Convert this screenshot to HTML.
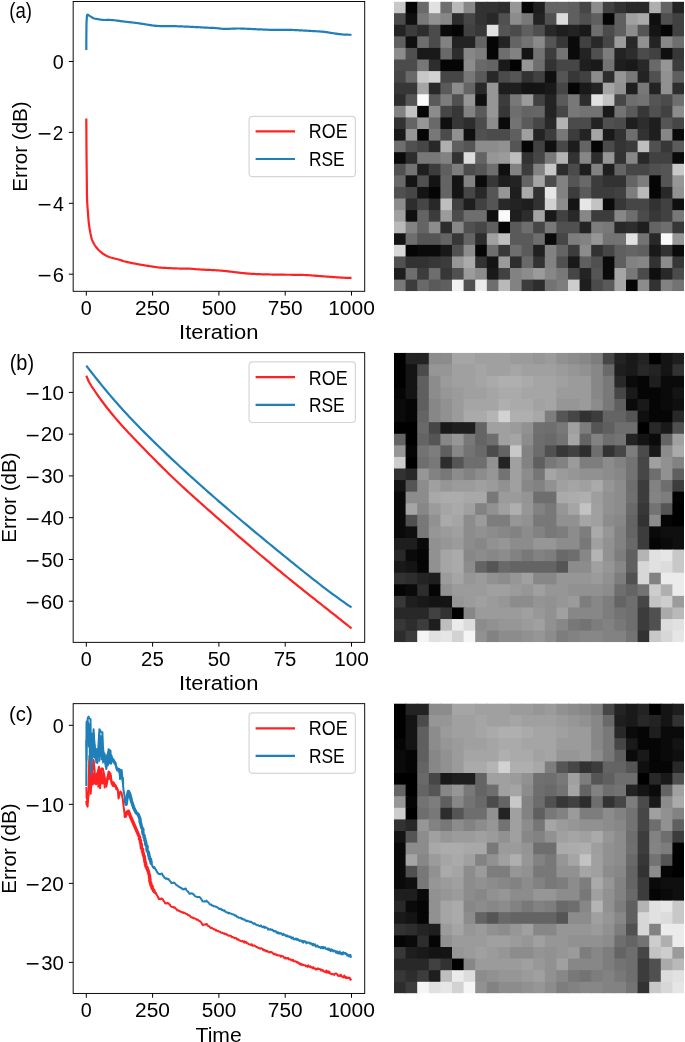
<!DOCTYPE html>
<html><head><meta charset="utf-8"><style>
html,body{margin:0;padding:0;background:#fff;}
body{width:685px;height:1042px;overflow:hidden;}
body>svg{display:block;font-family:"Liberation Sans",sans-serif;will-change:transform;}
</style></head><body>
<svg width="685" height="1042" viewBox="0 0 685 1042">
<line x1="86.30" y1="291.30" x2="86.30" y2="295.60" stroke="#000" stroke-width="1.0"/>
<text transform="translate(80.78,315.05) scale(0.9935,1)" font-size="19.91">0</text>
<line x1="152.60" y1="291.30" x2="152.60" y2="295.60" stroke="#000" stroke-width="1.0"/>
<text transform="translate(135.06,315.05) scale(1.0524,1)" font-size="19.91">250</text>
<line x1="218.90" y1="291.30" x2="218.90" y2="295.60" stroke="#000" stroke-width="1.0"/>
<text transform="translate(201.67,315.05) scale(1.0428,1)" font-size="19.91">500</text>
<line x1="285.20" y1="291.30" x2="285.20" y2="295.60" stroke="#000" stroke-width="1.0"/>
<text transform="translate(267.80,315.05) scale(1.0481,1)" font-size="19.91">750</text>
<line x1="351.50" y1="291.30" x2="351.50" y2="295.60" stroke="#000" stroke-width="1.0"/>
<text transform="translate(328.19,315.05) scale(1.0552,1)" font-size="19.91">1000</text>
<line x1="68.87" y1="61.50" x2="73.17" y2="61.50" stroke="#000" stroke-width="1.0"/>
<text transform="translate(52.83,68.80) scale(0.9935,1)" font-size="19.91">0</text>
<line x1="68.87" y1="132.40" x2="73.17" y2="132.40" stroke="#000" stroke-width="1.0"/>
<rect x="38.70" y="133.06" width="11.73" height="1.54" fill="#000"/>
<text transform="translate(52.81,139.70) scale(0.9549,1)" font-size="19.91">2</text>
<line x1="68.87" y1="203.30" x2="73.17" y2="203.30" stroke="#000" stroke-width="1.0"/>
<rect x="38.70" y="203.96" width="11.73" height="1.54" fill="#000"/>
<text transform="translate(52.90,210.60) scale(0.9859,1)" font-size="19.91">4</text>
<line x1="68.87" y1="274.20" x2="73.17" y2="274.20" stroke="#000" stroke-width="1.0"/>
<rect x="38.70" y="274.86" width="11.73" height="1.54" fill="#000"/>
<text transform="translate(52.70,281.50) scale(1.0207,1)" font-size="19.91">6</text>
<text transform="translate(179.06,339.40) scale(1.1039,1)" font-size="19.91">Iteration</text>
<text transform="translate(27.00,191.69) rotate(-90) scale(1.0385,1)" font-size="19.84">Error (dB)</text>
<polyline points="86.30,118.60 86.31,119.58 86.31,120.56 86.32,121.55 86.32,122.53 86.33,123.51 86.34,124.50 86.34,125.48 86.35,126.47 86.35,127.45 86.36,128.44 86.36,129.42 86.37,130.41 86.38,131.39 86.38,132.38 86.39,133.36 86.39,134.34 86.40,135.33 86.41,136.31 86.41,137.30 86.42,138.28 86.42,139.26 86.43,140.24 86.44,141.22 86.44,142.20 86.45,143.18 86.46,144.16 86.46,145.13 86.47,146.11 86.48,147.08 86.48,148.06 86.49,149.03 86.50,150.00 86.51,150.98 86.52,151.97 86.52,152.96 86.53,153.95 86.54,154.94 86.55,155.94 86.56,156.94 86.57,157.94 86.58,158.94 86.59,159.94 86.60,160.94 86.61,161.94 86.61,162.94 86.62,163.93 86.63,164.93 86.64,165.92 86.65,166.90 86.66,167.88 86.67,168.86 86.68,169.83 86.69,170.80 86.70,171.75 86.71,172.71 86.73,173.65 86.74,174.59 86.75,175.51 86.76,176.43 86.77,177.34 86.78,178.24 86.79,179.12 86.80,180.00 86.81,181.05 86.82,182.09 86.83,183.12 86.84,184.15 86.85,185.17 86.86,186.18 86.87,187.19 86.88,188.19 86.89,189.17 86.90,190.15 86.91,191.11 86.92,192.06 86.93,193.00 86.94,193.93 86.96,194.84 86.98,195.74 87.00,196.63 87.02,197.50 87.04,198.35 87.07,199.18 87.10,200.00 87.15,201.11 87.20,202.18 87.26,203.21 87.32,204.20 87.38,205.18 87.45,206.13 87.51,207.07 87.58,208.01 87.66,208.96 87.73,209.92 87.80,210.90 87.87,211.82 87.93,212.76 88.00,213.70 88.07,214.65 88.14,215.60 88.22,216.54 88.29,217.48 88.37,218.40 88.45,219.31 88.53,220.20 88.61,221.06 88.70,221.90 88.81,222.89 88.93,223.85 89.05,224.79 89.17,225.70 89.30,226.59 89.43,227.47 89.56,228.34 89.70,229.20 89.87,230.21 90.04,231.20 90.21,232.17 90.40,233.12 90.59,234.07 90.80,235.00 91.00,235.88 91.21,236.75 91.42,237.61 91.65,238.45 91.91,239.29 92.20,240.10 92.58,241.02 92.99,241.92 93.43,242.79 93.90,243.65 94.40,244.50 94.92,245.33 95.48,246.15 96.06,246.95 96.67,247.73 97.30,248.50 97.87,249.15 98.47,249.80 99.09,250.44 99.72,251.06 100.36,251.65 101.00,252.20 101.70,252.76 102.42,253.29 103.14,253.78 103.86,254.25 104.60,254.70 105.32,255.12 106.04,255.52 106.78,255.91 107.53,256.26 108.30,256.60 109.14,256.92 109.99,257.21 110.87,257.48 111.77,257.73 112.70,258.00 113.61,258.25 114.56,258.49 115.53,258.73 116.51,258.98 117.51,259.23 118.50,259.50 119.40,259.77 120.30,260.05 121.21,260.35 122.12,260.64 123.06,260.94 124.01,261.23 125.00,261.50 125.82,261.71 126.67,261.91 127.54,262.11 128.42,262.30 129.31,262.49 130.21,262.68 131.12,262.86 132.02,263.05 132.91,263.22 133.80,263.40 134.77,263.59 135.73,263.78 136.70,263.96 137.66,264.14 138.63,264.32 139.60,264.49 140.56,264.66 141.53,264.83 142.50,265.00 143.47,265.17 144.45,265.33 145.43,265.49 146.41,265.65 147.39,265.80 148.37,265.96 149.35,266.11 150.32,266.25 151.30,266.40 152.27,266.55 153.23,266.69 154.20,266.84 155.16,266.98 156.13,267.13 157.10,267.26 158.06,267.38 159.03,267.50 160.00,267.60 160.97,267.69 161.95,267.76 162.93,267.82 163.91,267.88 164.88,267.92 165.86,267.97 166.84,268.01 167.82,268.05 168.80,268.10 169.77,268.15 170.73,268.20 171.68,268.25 172.63,268.30 173.59,268.34 174.56,268.39 175.55,268.43 176.56,268.47 177.60,268.50 178.48,268.52 179.39,268.54 180.32,268.55 181.27,268.56 182.24,268.57 183.21,268.57 184.19,268.58 185.16,268.59 186.13,268.60 187.08,268.61 188.01,268.64 188.92,268.66 189.80,268.70 190.83,268.76 191.81,268.83 192.77,268.90 193.70,268.98 194.63,269.07 195.57,269.16 196.53,269.24 197.54,269.33 198.60,269.40 199.44,269.45 200.32,269.50 201.22,269.55 202.15,269.60 203.10,269.64 204.06,269.69 205.03,269.73 206.01,269.78 206.99,269.82 207.96,269.87 208.93,269.91 209.88,269.96 210.81,270.00 211.72,270.05 212.60,270.10 213.61,270.16 214.60,270.22 215.57,270.27 216.53,270.33 217.48,270.38 218.41,270.44 219.35,270.51 220.28,270.57 221.21,270.64 222.15,270.72 223.10,270.80 224.05,270.89 225.00,270.99 225.95,271.09 226.90,271.20 227.85,271.31 228.80,271.42 229.75,271.54 230.71,271.66 231.66,271.77 232.63,271.89 233.60,272.00 234.53,272.11 235.47,272.22 236.40,272.33 237.34,272.45 238.29,272.56 239.24,272.68 240.19,272.79 241.14,272.90 242.10,273.01 243.06,273.11 244.03,273.21 245.00,273.30 245.94,273.38 246.87,273.46 247.80,273.53 248.73,273.60 249.67,273.66 250.61,273.73 251.56,273.79 252.51,273.84 253.48,273.90 254.46,273.95 255.45,274.00 256.47,274.05 257.50,274.10 258.40,274.14 259.31,274.18 260.25,274.21 261.19,274.25 262.15,274.28 263.11,274.31 264.09,274.34 265.07,274.37 266.06,274.40 267.06,274.42 268.05,274.45 269.05,274.47 270.05,274.50 271.05,274.52 272.05,274.54 273.04,274.56 274.02,274.58 275.00,274.60 275.98,274.62 276.96,274.63 277.95,274.65 278.95,274.66 279.94,274.67 280.94,274.68 281.93,274.69 282.93,274.70 283.92,274.71 284.91,274.72 285.90,274.73 286.88,274.73 287.86,274.74 288.82,274.75 289.78,274.76 290.73,274.77 291.67,274.79 292.60,274.80 293.58,274.82 294.55,274.83 295.52,274.84 296.47,274.85 297.42,274.87 298.36,274.88 299.30,274.89 300.22,274.91 301.15,274.93 302.07,274.94 302.98,274.97 303.89,274.99 304.79,275.02 305.70,275.06 306.60,275.10 307.57,275.15 308.52,275.21 309.47,275.27 310.42,275.33 311.35,275.40 312.29,275.48 313.21,275.55 314.14,275.63 315.07,275.70 316.00,275.78 316.93,275.86 317.86,275.93 318.80,276.00 319.74,276.07 320.68,276.14 321.62,276.21 322.55,276.28 323.49,276.35 324.43,276.42 325.37,276.49 326.31,276.56 327.25,276.63 328.21,276.70 329.16,276.76 330.13,276.83 331.10,276.90 332.02,276.96 332.96,277.03 333.93,277.10 334.91,277.17 335.90,277.24 336.89,277.31 337.89,277.38 338.87,277.44 339.85,277.51 340.80,277.57 341.73,277.63 342.63,277.68 343.50,277.73 344.32,277.77 345.10,277.80 346.14,277.84 347.11,277.86 348.02,277.87 348.89,277.88 349.74,277.88 350.61,277.89 351.50,277.90" fill="none" stroke="#ff2222" stroke-width="2.2" stroke-linejoin="round" stroke-linecap="butt"/>
<polyline points="86.30,50.00 86.30,49.02 86.31,48.02 86.31,47.02 86.32,46.01 86.32,45.00 86.32,43.98 86.32,42.96 86.33,41.95 86.33,40.94 86.33,39.93 86.34,38.93 86.34,37.94 86.35,36.96 86.35,35.99 86.36,35.03 86.37,34.10 86.38,33.18 86.39,32.28 86.40,31.40 86.41,30.31 86.43,29.24 86.44,28.17 86.44,27.12 86.46,26.08 86.47,25.07 86.49,24.09 86.51,23.13 86.54,22.21 86.58,21.33 86.64,20.49 86.70,19.70 86.78,18.65 86.83,17.58 86.90,16.57 87.02,15.70 87.21,15.05 87.50,14.70 88.10,14.81 88.85,15.35 89.60,15.90 90.36,16.36 91.12,16.84 91.90,17.30 92.68,17.74 93.47,18.16 94.30,18.50 95.23,18.72 96.20,18.86 97.20,19.00 98.05,19.15 98.93,19.31 99.82,19.46 100.70,19.60 101.57,19.72 102.43,19.84 103.30,19.94 104.20,20.00 105.00,20.01 105.82,19.99 106.64,19.94 107.47,19.91 108.30,19.90 109.12,19.92 109.93,19.95 110.74,19.99 111.57,20.04 112.40,20.10 113.30,20.18 114.21,20.27 115.13,20.37 116.06,20.48 117.00,20.60 117.81,20.71 118.62,20.82 119.44,20.94 120.27,21.06 121.12,21.18 122.00,21.30 122.91,21.41 123.84,21.53 124.80,21.64 125.77,21.75 126.77,21.87 127.78,21.98 128.80,22.10 129.72,22.20 130.66,22.31 131.62,22.41 132.59,22.52 133.57,22.62 134.56,22.73 135.54,22.85 136.53,22.97 137.50,23.10 138.47,23.24 139.44,23.39 140.40,23.54 141.37,23.70 142.33,23.86 143.31,24.03 144.29,24.19 145.29,24.35 146.30,24.50 147.21,24.64 148.12,24.78 149.04,24.92 149.96,25.07 150.89,25.21 151.83,25.35 152.78,25.48 153.75,25.60 154.74,25.71 155.76,25.82 156.80,25.90 157.70,25.96 158.61,26.00 159.55,26.03 160.50,26.06 161.47,26.07 162.45,26.08 163.44,26.08 164.45,26.08 165.46,26.07 166.47,26.06 167.49,26.06 168.52,26.06 169.54,26.06 170.56,26.06 171.58,26.08 172.60,26.10 173.55,26.13 174.51,26.15 175.47,26.19 176.43,26.22 177.40,26.25 178.37,26.29 179.34,26.33 180.32,26.37 181.29,26.41 182.27,26.45 183.25,26.49 184.23,26.53 185.21,26.58 186.19,26.62 187.17,26.67 188.15,26.71 189.13,26.76 190.10,26.80 191.08,26.85 192.09,26.89 193.11,26.94 194.14,27.00 195.18,27.05 196.23,27.10 197.27,27.16 198.31,27.21 199.34,27.27 200.36,27.32 201.37,27.38 202.35,27.43 203.31,27.48 204.24,27.53 205.14,27.58 206.00,27.62 206.82,27.66 207.60,27.70 208.62,27.74 209.54,27.78 210.39,27.81 211.21,27.84 212.01,27.87 212.83,27.90 213.68,27.95 214.60,28.00 215.47,28.06 216.37,28.14 217.28,28.24 218.22,28.33 219.17,28.44 220.13,28.54 221.11,28.64 222.10,28.73 223.10,28.80 224.10,28.86 225.10,28.90 226.04,28.91 226.99,28.91 227.94,28.89 228.91,28.85 229.87,28.81 230.85,28.76 231.84,28.71 232.83,28.65 233.84,28.60 234.86,28.56 235.89,28.53 236.94,28.50 238.00,28.50 238.91,28.51 239.83,28.52 240.76,28.54 241.71,28.57 242.67,28.60 243.64,28.64 244.61,28.68 245.60,28.73 246.58,28.77 247.58,28.82 248.57,28.87 249.57,28.92 250.56,28.97 251.56,29.02 252.55,29.07 253.54,29.12 254.52,29.16 255.50,29.20 256.47,29.24 257.44,29.28 258.42,29.32 259.39,29.37 260.36,29.41 261.33,29.46 262.30,29.50 263.27,29.55 264.25,29.59 265.22,29.64 266.19,29.68 267.16,29.72 268.13,29.76 269.11,29.79 270.08,29.82 271.05,29.85 272.03,29.88 273.00,29.90 273.99,29.92 274.99,29.93 276.00,29.93 277.03,29.93 278.06,29.93 279.09,29.93 280.12,29.92 281.16,29.91 282.18,29.90 283.20,29.89 284.20,29.88 285.19,29.88 286.15,29.87 287.10,29.87 288.02,29.87 288.91,29.87 289.77,29.88 290.60,29.90 291.69,29.93 292.71,29.96 293.67,30.00 294.59,30.05 295.50,30.09 296.40,30.14 297.32,30.19 298.28,30.25 299.30,30.30 300.18,30.35 301.08,30.39 301.99,30.44 302.93,30.49 303.88,30.55 304.84,30.60 305.80,30.66 306.78,30.71 307.75,30.77 308.72,30.83 309.69,30.88 310.65,30.94 311.60,31.00 312.54,31.06 313.49,31.11 314.44,31.16 315.39,31.21 316.34,31.26 317.29,31.31 318.23,31.36 319.18,31.42 320.11,31.48 321.05,31.55 321.97,31.62 322.89,31.71 323.80,31.80 324.80,31.92 325.79,32.05 326.78,32.19 327.76,32.34 328.73,32.49 329.70,32.65 330.65,32.81 331.60,32.97 332.55,33.12 333.48,33.27 334.40,33.40 335.40,33.54 336.39,33.68 337.37,33.82 338.33,33.96 339.29,34.08 340.24,34.20 341.19,34.32 342.14,34.41 343.10,34.50 344.04,34.57 344.97,34.62 345.91,34.66 346.84,34.69 347.77,34.71 348.70,34.73 349.64,34.75 350.57,34.77 351.50,34.80" fill="none" stroke="#1f7fb8" stroke-width="2.2" stroke-linejoin="round" stroke-linecap="butt"/>
<rect x="249.10" y="116.30" width="106.30" height="60.40" rx="3.5" fill="#fff" fill-opacity="0.8" stroke="#d6d6d6" stroke-width="1.2"/>
<line x1="255.60" y1="131.40" x2="295.00" y2="131.40" stroke="#ff2222" stroke-width="2.2"/>
<line x1="255.60" y1="159.00" x2="295.00" y2="159.00" stroke="#1f7fb8" stroke-width="2.2"/>
<text transform="translate(308.85,138.40) scale(0.8980,1)" font-size="19.91">ROE</text>
<text transform="translate(308.89,165.80) scale(0.8750,1)" font-size="19.91">RSE</text>
<rect x="73.17" y="1.50" width="291.53" height="289.80" fill="none" stroke="#000" stroke-width="0.95"/>
<text transform="translate(9.34,18.37) scale(0.8710,1)" font-size="21.34">(a)</text>
<svg x="394" y="1.6" width="290" height="289.6" viewBox="0 0 25 25" preserveAspectRatio="none"><rect x="0" y="0" width="1.08" height="1.08" fill="#c8c8c8"/><rect x="1" y="0" width="1.08" height="1.08" fill="#050505"/><rect x="2" y="0" width="1.08" height="1.08" fill="#696969"/><rect x="3" y="0" width="1.08" height="1.08" fill="#e1e1e1"/><rect x="4" y="0" width="1.08" height="1.08" fill="#6e6e6e"/><rect x="5" y="0" width="1.08" height="1.08" fill="#b9b9b9"/><rect x="6" y="0" width="1.08" height="1.08" fill="#878787"/><rect x="7" y="0" width="1.08" height="1.08" fill="#323232"/><rect x="8" y="0" width="1.08" height="1.08" fill="#323232"/><rect x="9" y="0" width="1.08" height="1.08" fill="#2d2d2d"/><rect x="10" y="0" width="1.08" height="1.08" fill="#969696"/><rect x="11" y="0" width="1.08" height="1.08" fill="#050505"/><rect x="12" y="0" width="1.08" height="1.08" fill="#1e1e1e"/><rect x="13" y="0" width="1.08" height="1.08" fill="#646464"/><rect x="14" y="0" width="1.08" height="1.08" fill="#646464"/><rect x="15" y="0" width="1.08" height="1.08" fill="#5f5f5f"/><rect x="16" y="0" width="1.08" height="1.08" fill="#464646"/><rect x="17" y="0" width="1.08" height="1.08" fill="#8c8c8c"/><rect x="18" y="0" width="1.08" height="1.08" fill="#414141"/><rect x="19" y="0" width="1.08" height="1.08" fill="#323232"/><rect x="20" y="0" width="1.08" height="1.08" fill="#282828"/><rect x="21" y="0" width="1.08" height="1.08" fill="#282828"/><rect x="22" y="0" width="1.08" height="1.08" fill="#afafaf"/><rect x="23" y="0" width="1.08" height="1.08" fill="#646464"/><rect x="24" y="0" width="1" height="1.08" fill="#232323"/><rect x="0" y="1" width="1.08" height="1.08" fill="#4b4b4b"/><rect x="1" y="1" width="1.08" height="1.08" fill="#0f0f0f"/><rect x="2" y="1" width="1.08" height="1.08" fill="#787878"/><rect x="3" y="1" width="1.08" height="1.08" fill="#919191"/><rect x="4" y="1" width="1.08" height="1.08" fill="#878787"/><rect x="5" y="1" width="1.08" height="1.08" fill="#2d2d2d"/><rect x="6" y="1" width="1.08" height="1.08" fill="#464646"/><rect x="7" y="1" width="1.08" height="1.08" fill="#323232"/><rect x="8" y="1" width="1.08" height="1.08" fill="#282828"/><rect x="9" y="1" width="1.08" height="1.08" fill="#505050"/><rect x="10" y="1" width="1.08" height="1.08" fill="#8c8c8c"/><rect x="11" y="1" width="1.08" height="1.08" fill="#787878"/><rect x="12" y="1" width="1.08" height="1.08" fill="#232323"/><rect x="13" y="1" width="1.08" height="1.08" fill="#505050"/><rect x="14" y="1" width="1.08" height="1.08" fill="#dcdcdc"/><rect x="15" y="1" width="1.08" height="1.08" fill="#5f5f5f"/><rect x="16" y="1" width="1.08" height="1.08" fill="#505050"/><rect x="17" y="1" width="1.08" height="1.08" fill="#5f5f5f"/><rect x="18" y="1" width="1.08" height="1.08" fill="#050505"/><rect x="19" y="1" width="1.08" height="1.08" fill="#5f5f5f"/><rect x="20" y="1" width="1.08" height="1.08" fill="#a0a0a0"/><rect x="21" y="1" width="1.08" height="1.08" fill="#aaaaaa"/><rect x="22" y="1" width="1.08" height="1.08" fill="#0f0f0f"/><rect x="23" y="1" width="1.08" height="1.08" fill="#505050"/><rect x="24" y="1" width="1" height="1.08" fill="#414141"/><rect x="0" y="2" width="1.08" height="1.08" fill="#232323"/><rect x="1" y="2" width="1.08" height="1.08" fill="#3c3c3c"/><rect x="2" y="2" width="1.08" height="1.08" fill="#2d2d2d"/><rect x="3" y="2" width="1.08" height="1.08" fill="#4b4b4b"/><rect x="4" y="2" width="1.08" height="1.08" fill="#0a0a0a"/><rect x="5" y="2" width="1.08" height="1.08" fill="#050505"/><rect x="6" y="2" width="1.08" height="1.08" fill="#414141"/><rect x="7" y="2" width="1.08" height="1.08" fill="#373737"/><rect x="8" y="2" width="1.08" height="1.08" fill="#e1e1e1"/><rect x="9" y="2" width="1.08" height="1.08" fill="#555555"/><rect x="10" y="2" width="1.08" height="1.08" fill="#4b4b4b"/><rect x="11" y="2" width="1.08" height="1.08" fill="#5f5f5f"/><rect x="12" y="2" width="1.08" height="1.08" fill="#4e4e4e"/><rect x="13" y="2" width="1.08" height="1.08" fill="#282828"/><rect x="14" y="2" width="1.08" height="1.08" fill="#1e1e1e"/><rect x="15" y="2" width="1.08" height="1.08" fill="#232323"/><rect x="16" y="2" width="1.08" height="1.08" fill="#191919"/><rect x="17" y="2" width="1.08" height="1.08" fill="#6e6e6e"/><rect x="18" y="2" width="1.08" height="1.08" fill="#4b4b4b"/><rect x="19" y="2" width="1.08" height="1.08" fill="#5f5f5f"/><rect x="20" y="2" width="1.08" height="1.08" fill="#8c8c8c"/><rect x="21" y="2" width="1.08" height="1.08" fill="#555555"/><rect x="22" y="2" width="1.08" height="1.08" fill="#141414"/><rect x="23" y="2" width="1.08" height="1.08" fill="#050505"/><rect x="24" y="2" width="1" height="1.08" fill="#414141"/><rect x="0" y="3" width="1.08" height="1.08" fill="#5f5f5f"/><rect x="1" y="3" width="1.08" height="1.08" fill="#0f0f0f"/><rect x="2" y="3" width="1.08" height="1.08" fill="#6e6e6e"/><rect x="3" y="3" width="1.08" height="1.08" fill="#4b4b4b"/><rect x="4" y="3" width="1.08" height="1.08" fill="#828282"/><rect x="5" y="3" width="1.08" height="1.08" fill="#232323"/><rect x="6" y="3" width="1.08" height="1.08" fill="#232323"/><rect x="7" y="3" width="1.08" height="1.08" fill="#646464"/><rect x="8" y="3" width="1.08" height="1.08" fill="#050505"/><rect x="9" y="3" width="1.08" height="1.08" fill="#232323"/><rect x="10" y="3" width="1.08" height="1.08" fill="#646464"/><rect x="11" y="3" width="1.08" height="1.08" fill="#737373"/><rect x="12" y="3" width="1.08" height="1.08" fill="#8a8a8a"/><rect x="13" y="3" width="1.08" height="1.08" fill="#555555"/><rect x="14" y="3" width="1.08" height="1.08" fill="#373737"/><rect x="15" y="3" width="1.08" height="1.08" fill="#0a0a0a"/><rect x="16" y="3" width="1.08" height="1.08" fill="#414141"/><rect x="17" y="3" width="1.08" height="1.08" fill="#282828"/><rect x="18" y="3" width="1.08" height="1.08" fill="#464646"/><rect x="19" y="3" width="1.08" height="1.08" fill="#9b9b9b"/><rect x="20" y="3" width="1.08" height="1.08" fill="#282828"/><rect x="21" y="3" width="1.08" height="1.08" fill="#919191"/><rect x="22" y="3" width="1.08" height="1.08" fill="#232323"/><rect x="23" y="3" width="1.08" height="1.08" fill="#878787"/><rect x="24" y="3" width="1" height="1.08" fill="#6e6e6e"/><rect x="0" y="4" width="1.08" height="1.08" fill="#8c8c8c"/><rect x="1" y="4" width="1.08" height="1.08" fill="#505050"/><rect x="2" y="4" width="1.08" height="1.08" fill="#191919"/><rect x="3" y="4" width="1.08" height="1.08" fill="#191919"/><rect x="4" y="4" width="1.08" height="1.08" fill="#696969"/><rect x="5" y="4" width="1.08" height="1.08" fill="#2d2d2d"/><rect x="6" y="4" width="1.08" height="1.08" fill="#878787"/><rect x="7" y="4" width="1.08" height="1.08" fill="#7d7d7d"/><rect x="8" y="4" width="1.08" height="1.08" fill="#050505"/><rect x="9" y="4" width="1.08" height="1.08" fill="#6e6e6e"/><rect x="10" y="4" width="1.08" height="1.08" fill="#828282"/><rect x="11" y="4" width="1.08" height="1.08" fill="#141414"/><rect x="12" y="4" width="1.08" height="1.08" fill="#737373"/><rect x="13" y="4" width="1.08" height="1.08" fill="#3c3c3c"/><rect x="14" y="4" width="1.08" height="1.08" fill="#737373"/><rect x="15" y="4" width="1.08" height="1.08" fill="#0a0a0a"/><rect x="16" y="4" width="1.08" height="1.08" fill="#232323"/><rect x="17" y="4" width="1.08" height="1.08" fill="#505050"/><rect x="18" y="4" width="1.08" height="1.08" fill="#7d7d7d"/><rect x="19" y="4" width="1.08" height="1.08" fill="#232323"/><rect x="20" y="4" width="1.08" height="1.08" fill="#2d2d2d"/><rect x="21" y="4" width="1.08" height="1.08" fill="#4b4b4b"/><rect x="22" y="4" width="1.08" height="1.08" fill="#414141"/><rect x="23" y="4" width="1.08" height="1.08" fill="#0f0f0f"/><rect x="24" y="4" width="1" height="1.08" fill="#373737"/><rect x="0" y="5" width="1.08" height="1.08" fill="#4b4b4b"/><rect x="1" y="5" width="1.08" height="1.08" fill="#4b4b4b"/><rect x="2" y="5" width="1.08" height="1.08" fill="#787878"/><rect x="3" y="5" width="1.08" height="1.08" fill="#2d2d2d"/><rect x="4" y="5" width="1.08" height="1.08" fill="#050505"/><rect x="5" y="5" width="1.08" height="1.08" fill="#050505"/><rect x="6" y="5" width="1.08" height="1.08" fill="#8c8c8c"/><rect x="7" y="5" width="1.08" height="1.08" fill="#696969"/><rect x="8" y="5" width="1.08" height="1.08" fill="#646464"/><rect x="9" y="5" width="1.08" height="1.08" fill="#191919"/><rect x="10" y="5" width="1.08" height="1.08" fill="#030303"/><rect x="11" y="5" width="1.08" height="1.08" fill="#969696"/><rect x="12" y="5" width="1.08" height="1.08" fill="#6e6e6e"/><rect x="13" y="5" width="1.08" height="1.08" fill="#323232"/><rect x="14" y="5" width="1.08" height="1.08" fill="#464646"/><rect x="15" y="5" width="1.08" height="1.08" fill="#464646"/><rect x="16" y="5" width="1.08" height="1.08" fill="#1e1e1e"/><rect x="17" y="5" width="1.08" height="1.08" fill="#191919"/><rect x="18" y="5" width="1.08" height="1.08" fill="#737373"/><rect x="19" y="5" width="1.08" height="1.08" fill="#1e1e1e"/><rect x="20" y="5" width="1.08" height="1.08" fill="#191919"/><rect x="21" y="5" width="1.08" height="1.08" fill="#282828"/><rect x="22" y="5" width="1.08" height="1.08" fill="#696969"/><rect x="23" y="5" width="1.08" height="1.08" fill="#969696"/><rect x="24" y="5" width="1" height="1.08" fill="#3c3c3c"/><rect x="0" y="6" width="1.08" height="1.08" fill="#464646"/><rect x="1" y="6" width="1.08" height="1.08" fill="#696969"/><rect x="2" y="6" width="1.08" height="1.08" fill="#c8c8c8"/><rect x="3" y="6" width="1.08" height="1.08" fill="#d2d2d2"/><rect x="4" y="6" width="1.08" height="1.08" fill="#464646"/><rect x="5" y="6" width="1.08" height="1.08" fill="#464646"/><rect x="6" y="6" width="1.08" height="1.08" fill="#787878"/><rect x="7" y="6" width="1.08" height="1.08" fill="#5a5a5a"/><rect x="8" y="6" width="1.08" height="1.08" fill="#282828"/><rect x="9" y="6" width="1.08" height="1.08" fill="#4b4b4b"/><rect x="10" y="6" width="1.08" height="1.08" fill="#555555"/><rect x="11" y="6" width="1.08" height="1.08" fill="#323232"/><rect x="12" y="6" width="1.08" height="1.08" fill="#414141"/><rect x="13" y="6" width="1.08" height="1.08" fill="#0f0f0f"/><rect x="14" y="6" width="1.08" height="1.08" fill="#555555"/><rect x="15" y="6" width="1.08" height="1.08" fill="#373737"/><rect x="16" y="6" width="1.08" height="1.08" fill="#414141"/><rect x="17" y="6" width="1.08" height="1.08" fill="#8c8c8c"/><rect x="18" y="6" width="1.08" height="1.08" fill="#2d2d2d"/><rect x="19" y="6" width="1.08" height="1.08" fill="#969696"/><rect x="20" y="6" width="1.08" height="1.08" fill="#787878"/><rect x="21" y="6" width="1.08" height="1.08" fill="#232323"/><rect x="22" y="6" width="1.08" height="1.08" fill="#505050"/><rect x="23" y="6" width="1.08" height="1.08" fill="#919191"/><rect x="24" y="6" width="1" height="1.08" fill="#5f5f5f"/><rect x="0" y="7" width="1.08" height="1.08" fill="#373737"/><rect x="1" y="7" width="1.08" height="1.08" fill="#373737"/><rect x="2" y="7" width="1.08" height="1.08" fill="#a5a5a5"/><rect x="3" y="7" width="1.08" height="1.08" fill="#282828"/><rect x="4" y="7" width="1.08" height="1.08" fill="#5a5a5a"/><rect x="5" y="7" width="1.08" height="1.08" fill="#8c8c8c"/><rect x="6" y="7" width="1.08" height="1.08" fill="#646464"/><rect x="7" y="7" width="1.08" height="1.08" fill="#282828"/><rect x="8" y="7" width="1.08" height="1.08" fill="#969696"/><rect x="9" y="7" width="1.08" height="1.08" fill="#1e1e1e"/><rect x="10" y="7" width="1.08" height="1.08" fill="#1e1e1e"/><rect x="11" y="7" width="1.08" height="1.08" fill="#141414"/><rect x="12" y="7" width="1.08" height="1.08" fill="#141414"/><rect x="13" y="7" width="1.08" height="1.08" fill="#191919"/><rect x="14" y="7" width="1.08" height="1.08" fill="#464646"/><rect x="15" y="7" width="1.08" height="1.08" fill="#050505"/><rect x="16" y="7" width="1.08" height="1.08" fill="#191919"/><rect x="17" y="7" width="1.08" height="1.08" fill="#232323"/><rect x="18" y="7" width="1.08" height="1.08" fill="#a5a5a5"/><rect x="19" y="7" width="1.08" height="1.08" fill="#919191"/><rect x="20" y="7" width="1.08" height="1.08" fill="#1e1e1e"/><rect x="21" y="7" width="1.08" height="1.08" fill="#787878"/><rect x="22" y="7" width="1.08" height="1.08" fill="#232323"/><rect x="23" y="7" width="1.08" height="1.08" fill="#919191"/><rect x="24" y="7" width="1" height="1.08" fill="#2d2d2d"/><rect x="0" y="8" width="1.08" height="1.08" fill="#2d2d2d"/><rect x="1" y="8" width="1.08" height="1.08" fill="#555555"/><rect x="2" y="8" width="1.08" height="1.08" fill="#fafafa"/><rect x="3" y="8" width="1.08" height="1.08" fill="#5a5a5a"/><rect x="4" y="8" width="1.08" height="1.08" fill="#7d7d7d"/><rect x="5" y="8" width="1.08" height="1.08" fill="#505050"/><rect x="6" y="8" width="1.08" height="1.08" fill="#969696"/><rect x="7" y="8" width="1.08" height="1.08" fill="#0f0f0f"/><rect x="8" y="8" width="1.08" height="1.08" fill="#969696"/><rect x="9" y="8" width="1.08" height="1.08" fill="#3c3c3c"/><rect x="10" y="8" width="1.08" height="1.08" fill="#787878"/><rect x="11" y="8" width="1.08" height="1.08" fill="#9b9b9b"/><rect x="12" y="8" width="1.08" height="1.08" fill="#414141"/><rect x="13" y="8" width="1.08" height="1.08" fill="#232323"/><rect x="14" y="8" width="1.08" height="1.08" fill="#5a5a5a"/><rect x="15" y="8" width="1.08" height="1.08" fill="#787878"/><rect x="16" y="8" width="1.08" height="1.08" fill="#2d2d2d"/><rect x="17" y="8" width="1.08" height="1.08" fill="#e1e1e1"/><rect x="18" y="8" width="1.08" height="1.08" fill="#c3c3c3"/><rect x="19" y="8" width="1.08" height="1.08" fill="#464646"/><rect x="20" y="8" width="1.08" height="1.08" fill="#6e6e6e"/><rect x="21" y="8" width="1.08" height="1.08" fill="#737373"/><rect x="22" y="8" width="1.08" height="1.08" fill="#555555"/><rect x="23" y="8" width="1.08" height="1.08" fill="#4b4b4b"/><rect x="24" y="8" width="1" height="1.08" fill="#6e6e6e"/><rect x="0" y="9" width="1.08" height="1.08" fill="#828282"/><rect x="1" y="9" width="1.08" height="1.08" fill="#c3c3c3"/><rect x="2" y="9" width="1.08" height="1.08" fill="#050505"/><rect x="3" y="9" width="1.08" height="1.08" fill="#8c8c8c"/><rect x="4" y="9" width="1.08" height="1.08" fill="#464646"/><rect x="5" y="9" width="1.08" height="1.08" fill="#373737"/><rect x="6" y="9" width="1.08" height="1.08" fill="#828282"/><rect x="7" y="9" width="1.08" height="1.08" fill="#5a5a5a"/><rect x="8" y="9" width="1.08" height="1.08" fill="#969696"/><rect x="9" y="9" width="1.08" height="1.08" fill="#373737"/><rect x="10" y="9" width="1.08" height="1.08" fill="#6e6e6e"/><rect x="11" y="9" width="1.08" height="1.08" fill="#646464"/><rect x="12" y="9" width="1.08" height="1.08" fill="#666666"/><rect x="13" y="9" width="1.08" height="1.08" fill="#232323"/><rect x="14" y="9" width="1.08" height="1.08" fill="#464646"/><rect x="15" y="9" width="1.08" height="1.08" fill="#787878"/><rect x="16" y="9" width="1.08" height="1.08" fill="#737373"/><rect x="17" y="9" width="1.08" height="1.08" fill="#737373"/><rect x="18" y="9" width="1.08" height="1.08" fill="#191919"/><rect x="19" y="9" width="1.08" height="1.08" fill="#737373"/><rect x="20" y="9" width="1.08" height="1.08" fill="#5a5a5a"/><rect x="21" y="9" width="1.08" height="1.08" fill="#373737"/><rect x="22" y="9" width="1.08" height="1.08" fill="#505050"/><rect x="23" y="9" width="1.08" height="1.08" fill="#414141"/><rect x="24" y="9" width="1" height="1.08" fill="#8c8c8c"/><rect x="0" y="10" width="1.08" height="1.08" fill="#323232"/><rect x="1" y="10" width="1.08" height="1.08" fill="#646464"/><rect x="2" y="10" width="1.08" height="1.08" fill="#969696"/><rect x="3" y="10" width="1.08" height="1.08" fill="#696969"/><rect x="4" y="10" width="1.08" height="1.08" fill="#0f0f0f"/><rect x="5" y="10" width="1.08" height="1.08" fill="#373737"/><rect x="6" y="10" width="1.08" height="1.08" fill="#2d2d2d"/><rect x="7" y="10" width="1.08" height="1.08" fill="#4b4b4b"/><rect x="8" y="10" width="1.08" height="1.08" fill="#8c8c8c"/><rect x="9" y="10" width="1.08" height="1.08" fill="#0a0a0a"/><rect x="10" y="10" width="1.08" height="1.08" fill="#737373"/><rect x="11" y="10" width="1.08" height="1.08" fill="#5a5a5a"/><rect x="12" y="10" width="1.08" height="1.08" fill="#464646"/><rect x="13" y="10" width="1.08" height="1.08" fill="#282828"/><rect x="14" y="10" width="1.08" height="1.08" fill="#b4b4b4"/><rect x="15" y="10" width="1.08" height="1.08" fill="#4b4b4b"/><rect x="16" y="10" width="1.08" height="1.08" fill="#4b4b4b"/><rect x="17" y="10" width="1.08" height="1.08" fill="#232323"/><rect x="18" y="10" width="1.08" height="1.08" fill="#505050"/><rect x="19" y="10" width="1.08" height="1.08" fill="#4b4b4b"/><rect x="20" y="10" width="1.08" height="1.08" fill="#1e1e1e"/><rect x="21" y="10" width="1.08" height="1.08" fill="#2d2d2d"/><rect x="22" y="10" width="1.08" height="1.08" fill="#1e1e1e"/><rect x="23" y="10" width="1.08" height="1.08" fill="#555555"/><rect x="24" y="10" width="1" height="1.08" fill="#464646"/><rect x="0" y="11" width="1.08" height="1.08" fill="#191919"/><rect x="1" y="11" width="1.08" height="1.08" fill="#969696"/><rect x="2" y="11" width="1.08" height="1.08" fill="#050505"/><rect x="3" y="11" width="1.08" height="1.08" fill="#787878"/><rect x="4" y="11" width="1.08" height="1.08" fill="#4b4b4b"/><rect x="5" y="11" width="1.08" height="1.08" fill="#919191"/><rect x="6" y="11" width="1.08" height="1.08" fill="#0f0f0f"/><rect x="7" y="11" width="1.08" height="1.08" fill="#505050"/><rect x="8" y="11" width="1.08" height="1.08" fill="#4b4b4b"/><rect x="9" y="11" width="1.08" height="1.08" fill="#4b4b4b"/><rect x="10" y="11" width="1.08" height="1.08" fill="#5f5f5f"/><rect x="11" y="11" width="1.08" height="1.08" fill="#a0a0a0"/><rect x="12" y="11" width="1.08" height="1.08" fill="#232323"/><rect x="13" y="11" width="1.08" height="1.08" fill="#3c3c3c"/><rect x="14" y="11" width="1.08" height="1.08" fill="#787878"/><rect x="15" y="11" width="1.08" height="1.08" fill="#3c3c3c"/><rect x="16" y="11" width="1.08" height="1.08" fill="#232323"/><rect x="17" y="11" width="1.08" height="1.08" fill="#a5a5a5"/><rect x="18" y="11" width="1.08" height="1.08" fill="#191919"/><rect x="19" y="11" width="1.08" height="1.08" fill="#323232"/><rect x="20" y="11" width="1.08" height="1.08" fill="#6e6e6e"/><rect x="21" y="11" width="1.08" height="1.08" fill="#323232"/><rect x="22" y="11" width="1.08" height="1.08" fill="#1e1e1e"/><rect x="23" y="11" width="1.08" height="1.08" fill="#878787"/><rect x="24" y="11" width="1" height="1.08" fill="#0a0a0a"/><rect x="0" y="12" width="1.08" height="1.08" fill="#6e6e6e"/><rect x="1" y="12" width="1.08" height="1.08" fill="#505050"/><rect x="2" y="12" width="1.08" height="1.08" fill="#464646"/><rect x="3" y="12" width="1.08" height="1.08" fill="#282828"/><rect x="4" y="12" width="1.08" height="1.08" fill="#afafaf"/><rect x="5" y="12" width="1.08" height="1.08" fill="#5f5f5f"/><rect x="6" y="12" width="1.08" height="1.08" fill="#555555"/><rect x="7" y="12" width="1.08" height="1.08" fill="#8c8c8c"/><rect x="8" y="12" width="1.08" height="1.08" fill="#8c8c8c"/><rect x="9" y="12" width="1.08" height="1.08" fill="#919191"/><rect x="10" y="12" width="1.08" height="1.08" fill="#555555"/><rect x="11" y="12" width="1.08" height="1.08" fill="#050505"/><rect x="12" y="12" width="1.08" height="1.08" fill="#424242"/><rect x="13" y="12" width="1.08" height="1.08" fill="#0f0f0f"/><rect x="14" y="12" width="1.08" height="1.08" fill="#484848"/><rect x="15" y="12" width="1.08" height="1.08" fill="#1c1c1c"/><rect x="16" y="12" width="1.08" height="1.08" fill="#646464"/><rect x="17" y="12" width="1.08" height="1.08" fill="#050505"/><rect x="18" y="12" width="1.08" height="1.08" fill="#4b4b4b"/><rect x="19" y="12" width="1.08" height="1.08" fill="#343434"/><rect x="20" y="12" width="1.08" height="1.08" fill="#3a3a3a"/><rect x="21" y="12" width="1.08" height="1.08" fill="#bebebe"/><rect x="22" y="12" width="1.08" height="1.08" fill="#505050"/><rect x="23" y="12" width="1.08" height="1.08" fill="#373737"/><rect x="24" y="12" width="1" height="1.08" fill="#5c5c5c"/><rect x="0" y="13" width="1.08" height="1.08" fill="#0a0a0a"/><rect x="1" y="13" width="1.08" height="1.08" fill="#2d2d2d"/><rect x="2" y="13" width="1.08" height="1.08" fill="#787878"/><rect x="3" y="13" width="1.08" height="1.08" fill="#787878"/><rect x="4" y="13" width="1.08" height="1.08" fill="#828282"/><rect x="5" y="13" width="1.08" height="1.08" fill="#323232"/><rect x="6" y="13" width="1.08" height="1.08" fill="#dcdcdc"/><rect x="7" y="13" width="1.08" height="1.08" fill="#646464"/><rect x="8" y="13" width="1.08" height="1.08" fill="#969696"/><rect x="9" y="13" width="1.08" height="1.08" fill="#9b9b9b"/><rect x="10" y="13" width="1.08" height="1.08" fill="#bebebe"/><rect x="11" y="13" width="1.08" height="1.08" fill="#323232"/><rect x="12" y="13" width="1.08" height="1.08" fill="#464646"/><rect x="13" y="13" width="1.08" height="1.08" fill="#787878"/><rect x="14" y="13" width="1.08" height="1.08" fill="#b4b4b4"/><rect x="15" y="13" width="1.08" height="1.08" fill="#323232"/><rect x="16" y="13" width="1.08" height="1.08" fill="#878787"/><rect x="17" y="13" width="1.08" height="1.08" fill="#2d2d2d"/><rect x="18" y="13" width="1.08" height="1.08" fill="#969696"/><rect x="19" y="13" width="1.08" height="1.08" fill="#323232"/><rect x="20" y="13" width="1.08" height="1.08" fill="#878787"/><rect x="21" y="13" width="1.08" height="1.08" fill="#282828"/><rect x="22" y="13" width="1.08" height="1.08" fill="#414141"/><rect x="23" y="13" width="1.08" height="1.08" fill="#414141"/><rect x="24" y="13" width="1" height="1.08" fill="#0a0a0a"/><rect x="0" y="14" width="1.08" height="1.08" fill="#505050"/><rect x="1" y="14" width="1.08" height="1.08" fill="#737373"/><rect x="2" y="14" width="1.08" height="1.08" fill="#1e1e1e"/><rect x="3" y="14" width="1.08" height="1.08" fill="#3c3c3c"/><rect x="4" y="14" width="1.08" height="1.08" fill="#5f5f5f"/><rect x="5" y="14" width="1.08" height="1.08" fill="#7d7d7d"/><rect x="6" y="14" width="1.08" height="1.08" fill="#4b4b4b"/><rect x="7" y="14" width="1.08" height="1.08" fill="#555555"/><rect x="8" y="14" width="1.08" height="1.08" fill="#6e6e6e"/><rect x="9" y="14" width="1.08" height="1.08" fill="#0f0f0f"/><rect x="10" y="14" width="1.08" height="1.08" fill="#828282"/><rect x="11" y="14" width="1.08" height="1.08" fill="#3c3c3c"/><rect x="12" y="14" width="1.08" height="1.08" fill="#828282"/><rect x="13" y="14" width="1.08" height="1.08" fill="#c8c8c8"/><rect x="14" y="14" width="1.08" height="1.08" fill="#2d2d2d"/><rect x="15" y="14" width="1.08" height="1.08" fill="#4b4b4b"/><rect x="16" y="14" width="1.08" height="1.08" fill="#1e1e1e"/><rect x="17" y="14" width="1.08" height="1.08" fill="#828282"/><rect x="18" y="14" width="1.08" height="1.08" fill="#1e1e1e"/><rect x="19" y="14" width="1.08" height="1.08" fill="#646464"/><rect x="20" y="14" width="1.08" height="1.08" fill="#464646"/><rect x="21" y="14" width="1.08" height="1.08" fill="#464646"/><rect x="22" y="14" width="1.08" height="1.08" fill="#505050"/><rect x="23" y="14" width="1.08" height="1.08" fill="#555555"/><rect x="24" y="14" width="1" height="1.08" fill="#c8c8c8"/><rect x="0" y="15" width="1.08" height="1.08" fill="#696969"/><rect x="1" y="15" width="1.08" height="1.08" fill="#141414"/><rect x="2" y="15" width="1.08" height="1.08" fill="#505050"/><rect x="3" y="15" width="1.08" height="1.08" fill="#141414"/><rect x="4" y="15" width="1.08" height="1.08" fill="#646464"/><rect x="5" y="15" width="1.08" height="1.08" fill="#141414"/><rect x="6" y="15" width="1.08" height="1.08" fill="#828282"/><rect x="7" y="15" width="1.08" height="1.08" fill="#0a0a0a"/><rect x="8" y="15" width="1.08" height="1.08" fill="#373737"/><rect x="9" y="15" width="1.08" height="1.08" fill="#1e1e1e"/><rect x="10" y="15" width="1.08" height="1.08" fill="#232323"/><rect x="11" y="15" width="1.08" height="1.08" fill="#646464"/><rect x="12" y="15" width="1.08" height="1.08" fill="#a5a5a5"/><rect x="13" y="15" width="1.08" height="1.08" fill="#4b4b4b"/><rect x="14" y="15" width="1.08" height="1.08" fill="#828282"/><rect x="15" y="15" width="1.08" height="1.08" fill="#555555"/><rect x="16" y="15" width="1.08" height="1.08" fill="#696969"/><rect x="17" y="15" width="1.08" height="1.08" fill="#3c3c3c"/><rect x="18" y="15" width="1.08" height="1.08" fill="#323232"/><rect x="19" y="15" width="1.08" height="1.08" fill="#323232"/><rect x="20" y="15" width="1.08" height="1.08" fill="#646464"/><rect x="21" y="15" width="1.08" height="1.08" fill="#7d7d7d"/><rect x="22" y="15" width="1.08" height="1.08" fill="#050505"/><rect x="23" y="15" width="1.08" height="1.08" fill="#555555"/><rect x="24" y="15" width="1" height="1.08" fill="#969696"/><rect x="0" y="16" width="1.08" height="1.08" fill="#505050"/><rect x="1" y="16" width="1.08" height="1.08" fill="#464646"/><rect x="2" y="16" width="1.08" height="1.08" fill="#141414"/><rect x="3" y="16" width="1.08" height="1.08" fill="#050505"/><rect x="4" y="16" width="1.08" height="1.08" fill="#646464"/><rect x="5" y="16" width="1.08" height="1.08" fill="#141414"/><rect x="6" y="16" width="1.08" height="1.08" fill="#464646"/><rect x="7" y="16" width="1.08" height="1.08" fill="#282828"/><rect x="8" y="16" width="1.08" height="1.08" fill="#555555"/><rect x="9" y="16" width="1.08" height="1.08" fill="#969696"/><rect x="10" y="16" width="1.08" height="1.08" fill="#1e1e1e"/><rect x="11" y="16" width="1.08" height="1.08" fill="#aaaaaa"/><rect x="12" y="16" width="1.08" height="1.08" fill="#323232"/><rect x="13" y="16" width="1.08" height="1.08" fill="#e6e6e6"/><rect x="14" y="16" width="1.08" height="1.08" fill="#828282"/><rect x="15" y="16" width="1.08" height="1.08" fill="#3c3c3c"/><rect x="16" y="16" width="1.08" height="1.08" fill="#5a5a5a"/><rect x="17" y="16" width="1.08" height="1.08" fill="#3c3c3c"/><rect x="18" y="16" width="1.08" height="1.08" fill="#3c3c3c"/><rect x="19" y="16" width="1.08" height="1.08" fill="#414141"/><rect x="20" y="16" width="1.08" height="1.08" fill="#7d7d7d"/><rect x="21" y="16" width="1.08" height="1.08" fill="#b9b9b9"/><rect x="22" y="16" width="1.08" height="1.08" fill="#050505"/><rect x="23" y="16" width="1.08" height="1.08" fill="#282828"/><rect x="24" y="16" width="1" height="1.08" fill="#919191"/><rect x="0" y="17" width="1.08" height="1.08" fill="#8c8c8c"/><rect x="1" y="17" width="1.08" height="1.08" fill="#2d2d2d"/><rect x="2" y="17" width="1.08" height="1.08" fill="#464646"/><rect x="3" y="17" width="1.08" height="1.08" fill="#282828"/><rect x="4" y="17" width="1.08" height="1.08" fill="#bebebe"/><rect x="5" y="17" width="1.08" height="1.08" fill="#414141"/><rect x="6" y="17" width="1.08" height="1.08" fill="#1e1e1e"/><rect x="7" y="17" width="1.08" height="1.08" fill="#414141"/><rect x="8" y="17" width="1.08" height="1.08" fill="#555555"/><rect x="9" y="17" width="1.08" height="1.08" fill="#282828"/><rect x="10" y="17" width="1.08" height="1.08" fill="#232323"/><rect x="11" y="17" width="1.08" height="1.08" fill="#1e1e1e"/><rect x="12" y="17" width="1.08" height="1.08" fill="#323232"/><rect x="13" y="17" width="1.08" height="1.08" fill="#d2d2d2"/><rect x="14" y="17" width="1.08" height="1.08" fill="#8c8c8c"/><rect x="15" y="17" width="1.08" height="1.08" fill="#141414"/><rect x="16" y="17" width="1.08" height="1.08" fill="#e6e6e6"/><rect x="17" y="17" width="1.08" height="1.08" fill="#c3c3c3"/><rect x="18" y="17" width="1.08" height="1.08" fill="#0a0a0a"/><rect x="19" y="17" width="1.08" height="1.08" fill="#373737"/><rect x="20" y="17" width="1.08" height="1.08" fill="#464646"/><rect x="21" y="17" width="1.08" height="1.08" fill="#464646"/><rect x="22" y="17" width="1.08" height="1.08" fill="#323232"/><rect x="23" y="17" width="1.08" height="1.08" fill="#414141"/><rect x="24" y="17" width="1" height="1.08" fill="#0f0f0f"/><rect x="0" y="18" width="1.08" height="1.08" fill="#a0a0a0"/><rect x="1" y="18" width="1.08" height="1.08" fill="#0f0f0f"/><rect x="2" y="18" width="1.08" height="1.08" fill="#646464"/><rect x="3" y="18" width="1.08" height="1.08" fill="#3c3c3c"/><rect x="4" y="18" width="1.08" height="1.08" fill="#9b9b9b"/><rect x="5" y="18" width="1.08" height="1.08" fill="#4b4b4b"/><rect x="6" y="18" width="1.08" height="1.08" fill="#6e6e6e"/><rect x="7" y="18" width="1.08" height="1.08" fill="#6e6e6e"/><rect x="8" y="18" width="1.08" height="1.08" fill="#0f0f0f"/><rect x="9" y="18" width="1.08" height="1.08" fill="#fafafa"/><rect x="10" y="18" width="1.08" height="1.08" fill="#1e1e1e"/><rect x="11" y="18" width="1.08" height="1.08" fill="#2d2d2d"/><rect x="12" y="18" width="1.08" height="1.08" fill="#a5a5a5"/><rect x="13" y="18" width="1.08" height="1.08" fill="#191919"/><rect x="14" y="18" width="1.08" height="1.08" fill="#414141"/><rect x="15" y="18" width="1.08" height="1.08" fill="#282828"/><rect x="16" y="18" width="1.08" height="1.08" fill="#878787"/><rect x="17" y="18" width="1.08" height="1.08" fill="#3c3c3c"/><rect x="18" y="18" width="1.08" height="1.08" fill="#3c3c3c"/><rect x="19" y="18" width="1.08" height="1.08" fill="#878787"/><rect x="20" y="18" width="1.08" height="1.08" fill="#6e6e6e"/><rect x="21" y="18" width="1.08" height="1.08" fill="#4b4b4b"/><rect x="22" y="18" width="1.08" height="1.08" fill="#373737"/><rect x="23" y="18" width="1.08" height="1.08" fill="#414141"/><rect x="24" y="18" width="1" height="1.08" fill="#787878"/><rect x="0" y="19" width="1.08" height="1.08" fill="#b9b9b9"/><rect x="1" y="19" width="1.08" height="1.08" fill="#828282"/><rect x="2" y="19" width="1.08" height="1.08" fill="#646464"/><rect x="3" y="19" width="1.08" height="1.08" fill="#8c8c8c"/><rect x="4" y="19" width="1.08" height="1.08" fill="#2d2d2d"/><rect x="5" y="19" width="1.08" height="1.08" fill="#878787"/><rect x="6" y="19" width="1.08" height="1.08" fill="#505050"/><rect x="7" y="19" width="1.08" height="1.08" fill="#464646"/><rect x="8" y="19" width="1.08" height="1.08" fill="#5f5f5f"/><rect x="9" y="19" width="1.08" height="1.08" fill="#050505"/><rect x="10" y="19" width="1.08" height="1.08" fill="#5a5a5a"/><rect x="11" y="19" width="1.08" height="1.08" fill="#6e6e6e"/><rect x="12" y="19" width="1.08" height="1.08" fill="#464646"/><rect x="13" y="19" width="1.08" height="1.08" fill="#787878"/><rect x="14" y="19" width="1.08" height="1.08" fill="#505050"/><rect x="15" y="19" width="1.08" height="1.08" fill="#505050"/><rect x="16" y="19" width="1.08" height="1.08" fill="#232323"/><rect x="17" y="19" width="1.08" height="1.08" fill="#7d7d7d"/><rect x="18" y="19" width="1.08" height="1.08" fill="#787878"/><rect x="19" y="19" width="1.08" height="1.08" fill="#282828"/><rect x="20" y="19" width="1.08" height="1.08" fill="#2d2d2d"/><rect x="21" y="19" width="1.08" height="1.08" fill="#1e1e1e"/><rect x="22" y="19" width="1.08" height="1.08" fill="#646464"/><rect x="23" y="19" width="1.08" height="1.08" fill="#6e6e6e"/><rect x="24" y="19" width="1" height="1.08" fill="#373737"/><rect x="0" y="20" width="1.08" height="1.08" fill="#141414"/><rect x="1" y="20" width="1.08" height="1.08" fill="#6e6e6e"/><rect x="2" y="20" width="1.08" height="1.08" fill="#555555"/><rect x="3" y="20" width="1.08" height="1.08" fill="#555555"/><rect x="4" y="20" width="1.08" height="1.08" fill="#646464"/><rect x="5" y="20" width="1.08" height="1.08" fill="#373737"/><rect x="6" y="20" width="1.08" height="1.08" fill="#646464"/><rect x="7" y="20" width="1.08" height="1.08" fill="#2d2d2d"/><rect x="8" y="20" width="1.08" height="1.08" fill="#a0a0a0"/><rect x="9" y="20" width="1.08" height="1.08" fill="#bebebe"/><rect x="10" y="20" width="1.08" height="1.08" fill="#5a5a5a"/><rect x="11" y="20" width="1.08" height="1.08" fill="#5a5a5a"/><rect x="12" y="20" width="1.08" height="1.08" fill="#6e6e6e"/><rect x="13" y="20" width="1.08" height="1.08" fill="#0a0a0a"/><rect x="14" y="20" width="1.08" height="1.08" fill="#464646"/><rect x="15" y="20" width="1.08" height="1.08" fill="#7d7d7d"/><rect x="16" y="20" width="1.08" height="1.08" fill="#828282"/><rect x="17" y="20" width="1.08" height="1.08" fill="#969696"/><rect x="18" y="20" width="1.08" height="1.08" fill="#737373"/><rect x="19" y="20" width="1.08" height="1.08" fill="#737373"/><rect x="20" y="20" width="1.08" height="1.08" fill="#e1e1e1"/><rect x="21" y="20" width="1.08" height="1.08" fill="#737373"/><rect x="22" y="20" width="1.08" height="1.08" fill="#282828"/><rect x="23" y="20" width="1.08" height="1.08" fill="#fafafa"/><rect x="24" y="20" width="1" height="1.08" fill="#969696"/><rect x="0" y="21" width="1.08" height="1.08" fill="#d7d7d7"/><rect x="1" y="21" width="1.08" height="1.08" fill="#050505"/><rect x="2" y="21" width="1.08" height="1.08" fill="#0a0a0a"/><rect x="3" y="21" width="1.08" height="1.08" fill="#0a0a0a"/><rect x="4" y="21" width="1.08" height="1.08" fill="#191919"/><rect x="5" y="21" width="1.08" height="1.08" fill="#505050"/><rect x="6" y="21" width="1.08" height="1.08" fill="#8c8c8c"/><rect x="7" y="21" width="1.08" height="1.08" fill="#050505"/><rect x="8" y="21" width="1.08" height="1.08" fill="#6e6e6e"/><rect x="9" y="21" width="1.08" height="1.08" fill="#373737"/><rect x="10" y="21" width="1.08" height="1.08" fill="#6e6e6e"/><rect x="11" y="21" width="1.08" height="1.08" fill="#5a5a5a"/><rect x="12" y="21" width="1.08" height="1.08" fill="#202020"/><rect x="13" y="21" width="1.08" height="1.08" fill="#828282"/><rect x="14" y="21" width="1.08" height="1.08" fill="#646464"/><rect x="15" y="21" width="1.08" height="1.08" fill="#3c3c3c"/><rect x="16" y="21" width="1.08" height="1.08" fill="#8c8c8c"/><rect x="17" y="21" width="1.08" height="1.08" fill="#323232"/><rect x="18" y="21" width="1.08" height="1.08" fill="#464646"/><rect x="19" y="21" width="1.08" height="1.08" fill="#5f5f5f"/><rect x="20" y="21" width="1.08" height="1.08" fill="#646464"/><rect x="21" y="21" width="1.08" height="1.08" fill="#5f5f5f"/><rect x="22" y="21" width="1.08" height="1.08" fill="#191919"/><rect x="23" y="21" width="1.08" height="1.08" fill="#323232"/><rect x="24" y="21" width="1" height="1.08" fill="#0a0a0a"/><rect x="0" y="22" width="1.08" height="1.08" fill="#505050"/><rect x="1" y="22" width="1.08" height="1.08" fill="#323232"/><rect x="2" y="22" width="1.08" height="1.08" fill="#323232"/><rect x="3" y="22" width="1.08" height="1.08" fill="#373737"/><rect x="4" y="22" width="1.08" height="1.08" fill="#3c3c3c"/><rect x="5" y="22" width="1.08" height="1.08" fill="#969696"/><rect x="6" y="22" width="1.08" height="1.08" fill="#aaaaaa"/><rect x="7" y="22" width="1.08" height="1.08" fill="#323232"/><rect x="8" y="22" width="1.08" height="1.08" fill="#141414"/><rect x="9" y="22" width="1.08" height="1.08" fill="#9b9b9b"/><rect x="10" y="22" width="1.08" height="1.08" fill="#2d2d2d"/><rect x="11" y="22" width="1.08" height="1.08" fill="#696969"/><rect x="12" y="22" width="1.08" height="1.08" fill="#323232"/><rect x="13" y="22" width="1.08" height="1.08" fill="#828282"/><rect x="14" y="22" width="1.08" height="1.08" fill="#505050"/><rect x="15" y="22" width="1.08" height="1.08" fill="#191919"/><rect x="16" y="22" width="1.08" height="1.08" fill="#5f5f5f"/><rect x="17" y="22" width="1.08" height="1.08" fill="#505050"/><rect x="18" y="22" width="1.08" height="1.08" fill="#0a0a0a"/><rect x="19" y="22" width="1.08" height="1.08" fill="#5f5f5f"/><rect x="20" y="22" width="1.08" height="1.08" fill="#828282"/><rect x="21" y="22" width="1.08" height="1.08" fill="#878787"/><rect x="22" y="22" width="1.08" height="1.08" fill="#323232"/><rect x="23" y="22" width="1.08" height="1.08" fill="#8c8c8c"/><rect x="24" y="22" width="1" height="1.08" fill="#373737"/><rect x="0" y="23" width="1.08" height="1.08" fill="#1e1e1e"/><rect x="1" y="23" width="1.08" height="1.08" fill="#6e6e6e"/><rect x="2" y="23" width="1.08" height="1.08" fill="#3c3c3c"/><rect x="3" y="23" width="1.08" height="1.08" fill="#6e6e6e"/><rect x="4" y="23" width="1.08" height="1.08" fill="#373737"/><rect x="5" y="23" width="1.08" height="1.08" fill="#505050"/><rect x="6" y="23" width="1.08" height="1.08" fill="#9b9b9b"/><rect x="7" y="23" width="1.08" height="1.08" fill="#8c8c8c"/><rect x="8" y="23" width="1.08" height="1.08" fill="#191919"/><rect x="9" y="23" width="1.08" height="1.08" fill="#414141"/><rect x="10" y="23" width="1.08" height="1.08" fill="#828282"/><rect x="11" y="23" width="1.08" height="1.08" fill="#8c8c8c"/><rect x="12" y="23" width="1.08" height="1.08" fill="#9b9b9b"/><rect x="13" y="23" width="1.08" height="1.08" fill="#878787"/><rect x="14" y="23" width="1.08" height="1.08" fill="#787878"/><rect x="15" y="23" width="1.08" height="1.08" fill="#464646"/><rect x="16" y="23" width="1.08" height="1.08" fill="#232323"/><rect x="17" y="23" width="1.08" height="1.08" fill="#555555"/><rect x="18" y="23" width="1.08" height="1.08" fill="#0a0a0a"/><rect x="19" y="23" width="1.08" height="1.08" fill="#a5a5a5"/><rect x="20" y="23" width="1.08" height="1.08" fill="#787878"/><rect x="21" y="23" width="1.08" height="1.08" fill="#4b4b4b"/><rect x="22" y="23" width="1.08" height="1.08" fill="#0f0f0f"/><rect x="23" y="23" width="1.08" height="1.08" fill="#282828"/><rect x="24" y="23" width="1" height="1.08" fill="#4b4b4b"/><rect x="0" y="24" width="1.08" height="1" fill="#787878"/><rect x="1" y="24" width="1.08" height="1" fill="#3c3c3c"/><rect x="2" y="24" width="1.08" height="1" fill="#696969"/><rect x="3" y="24" width="1.08" height="1" fill="#5a5a5a"/><rect x="4" y="24" width="1.08" height="1" fill="#5f5f5f"/><rect x="5" y="24" width="1.08" height="1" fill="#f0f0f0"/><rect x="6" y="24" width="1.08" height="1" fill="#505050"/><rect x="7" y="24" width="1.08" height="1" fill="#ebebeb"/><rect x="8" y="24" width="1.08" height="1" fill="#6e6e6e"/><rect x="9" y="24" width="1.08" height="1" fill="#b9b9b9"/><rect x="10" y="24" width="1.08" height="1" fill="#828282"/><rect x="11" y="24" width="1.08" height="1" fill="#3c3c3c"/><rect x="12" y="24" width="1.08" height="1" fill="#2d2d2d"/><rect x="13" y="24" width="1.08" height="1" fill="#737373"/><rect x="14" y="24" width="1.08" height="1" fill="#7d7d7d"/><rect x="15" y="24" width="1.08" height="1" fill="#cdcdcd"/><rect x="16" y="24" width="1.08" height="1" fill="#1e1e1e"/><rect x="17" y="24" width="1.08" height="1" fill="#4b4b4b"/><rect x="18" y="24" width="1.08" height="1" fill="#5a5a5a"/><rect x="19" y="24" width="1.08" height="1" fill="#a5a5a5"/><rect x="20" y="24" width="1.08" height="1" fill="#050505"/><rect x="21" y="24" width="1.08" height="1" fill="#8c8c8c"/><rect x="22" y="24" width="1.08" height="1" fill="#323232"/><rect x="23" y="24" width="1.08" height="1" fill="#828282"/><rect x="24" y="24" width="1" height="1" fill="#737373"/></svg>
<line x1="86.30" y1="642.35" x2="86.30" y2="646.65" stroke="#000" stroke-width="1.0"/>
<text transform="translate(80.78,666.10) scale(0.9935,1)" font-size="19.91">0</text>
<line x1="152.60" y1="642.35" x2="152.60" y2="646.65" stroke="#000" stroke-width="1.0"/>
<text transform="translate(141.04,666.10) scale(1.0269,1)" font-size="19.91">25</text>
<line x1="218.90" y1="642.35" x2="218.90" y2="646.65" stroke="#000" stroke-width="1.0"/>
<text transform="translate(207.63,666.10) scale(1.0281,1)" font-size="19.91">50</text>
<line x1="285.20" y1="642.35" x2="285.20" y2="646.65" stroke="#000" stroke-width="1.0"/>
<text transform="translate(273.78,666.10) scale(1.0202,1)" font-size="19.91">75</text>
<line x1="351.50" y1="642.35" x2="351.50" y2="646.65" stroke="#000" stroke-width="1.0"/>
<text transform="translate(334.15,666.10) scale(1.0467,1)" font-size="19.91">100</text>
<line x1="68.87" y1="392.40" x2="73.17" y2="392.40" stroke="#000" stroke-width="1.0"/>
<rect x="26.80" y="393.06" width="11.73" height="1.54" fill="#000"/>
<text transform="translate(41.02,399.70) scale(1.0336,1)" font-size="19.91">10</text>
<line x1="68.87" y1="434.16" x2="73.17" y2="434.16" stroke="#000" stroke-width="1.0"/>
<rect x="26.80" y="434.82" width="11.73" height="1.54" fill="#000"/>
<text transform="translate(40.82,441.46) scale(1.0428,1)" font-size="19.91">20</text>
<line x1="68.87" y1="475.92" x2="73.17" y2="475.92" stroke="#000" stroke-width="1.0"/>
<rect x="26.80" y="476.58" width="11.73" height="1.54" fill="#000"/>
<text transform="translate(41.14,483.22) scale(1.0279,1)" font-size="19.91">30</text>
<line x1="68.87" y1="517.68" x2="73.17" y2="517.68" stroke="#000" stroke-width="1.0"/>
<rect x="26.80" y="518.34" width="11.73" height="1.54" fill="#000"/>
<text transform="translate(40.98,524.98) scale(1.0356,1)" font-size="19.91">40</text>
<line x1="68.87" y1="559.44" x2="73.17" y2="559.44" stroke="#000" stroke-width="1.0"/>
<rect x="26.80" y="560.10" width="11.73" height="1.54" fill="#000"/>
<text transform="translate(41.13,566.74) scale(1.0281,1)" font-size="19.91">50</text>
<line x1="68.87" y1="601.20" x2="73.17" y2="601.20" stroke="#000" stroke-width="1.0"/>
<rect x="26.80" y="601.86" width="11.73" height="1.54" fill="#000"/>
<text transform="translate(40.77,608.50) scale(1.0451,1)" font-size="19.91">60</text>
<text transform="translate(179.06,690.45) scale(1.1039,1)" font-size="19.91">Iteration</text>
<text transform="translate(15.60,542.79) rotate(-90) scale(1.0385,1)" font-size="19.84">Error (dB)</text>
<polyline points="86.30,375.76 88.95,382.03 91.60,386.29 94.26,390.25 96.91,394.11 99.56,397.86 102.21,401.50 104.86,405.03 107.52,408.45 110.17,411.77 112.82,414.99 115.47,418.14 118.12,421.21 120.78,424.21 123.43,427.15 126.08,430.04 128.73,432.88 131.38,435.69 134.04,438.47 136.69,441.24 139.34,443.98 141.99,446.73 144.64,449.46 147.30,452.19 149.95,454.90 152.60,457.60 155.25,460.28 157.90,462.95 160.56,465.60 163.21,468.23 165.86,470.84 168.51,473.42 171.16,475.98 173.82,478.51 176.47,481.02 179.12,483.50 181.77,485.97 184.42,488.42 187.08,490.84 189.73,493.26 192.38,495.65 195.03,498.04 197.68,500.41 200.34,502.77 202.99,505.12 205.64,507.47 208.29,509.81 210.94,512.14 213.60,514.47 216.25,516.80 218.90,519.13 221.55,521.45 224.20,523.77 226.86,526.08 229.51,528.39 232.16,530.70 234.81,533.00 237.46,535.30 240.12,537.59 242.77,539.88 245.42,542.16 248.07,544.43 250.72,546.70 253.38,548.97 256.03,551.23 258.68,553.48 261.33,555.72 263.98,557.96 266.64,560.19 269.29,562.41 271.94,564.63 274.59,566.83 277.24,569.03 279.90,571.22 282.55,573.41 285.20,575.58 287.85,577.75 290.50,579.90 293.16,582.05 295.81,584.19 298.46,586.32 301.11,588.44 303.76,590.56 306.42,592.67 309.07,594.78 311.72,596.88 314.37,598.98 317.02,601.07 319.68,603.17 322.33,605.26 324.98,607.35 327.63,609.44 330.28,611.53 332.94,613.63 335.59,615.72 338.24,617.82 340.89,619.92 343.54,622.03 346.20,624.14 348.85,626.26 351.50,628.38" fill="none" stroke="#ff2222" stroke-width="2.2" stroke-linejoin="round" stroke-linecap="butt"/>
<polyline points="86.30,365.62 88.95,369.08 91.60,372.51 94.26,375.90 96.91,379.24 99.56,382.55 102.21,385.82 104.86,389.05 107.52,392.23 110.17,395.38 112.82,398.48 115.47,401.54 118.12,404.55 120.78,407.52 123.43,410.45 126.08,413.34 128.73,416.18 131.38,419.00 134.04,421.77 136.69,424.52 139.34,427.24 141.99,429.94 144.64,432.61 147.30,435.26 149.95,437.89 152.60,440.51 155.25,443.11 157.90,445.69 160.56,448.25 163.21,450.80 165.86,453.34 168.51,455.86 171.16,458.36 173.82,460.85 176.47,463.32 179.12,465.79 181.77,468.23 184.42,470.67 187.08,473.09 189.73,475.50 192.38,477.90 195.03,480.29 197.68,482.67 200.34,485.03 202.99,487.39 205.64,489.74 208.29,492.07 210.94,494.40 213.60,496.72 216.25,499.03 218.90,501.34 221.55,503.63 224.20,505.92 226.86,508.20 229.51,510.47 232.16,512.73 234.81,514.99 237.46,517.24 240.12,519.48 242.77,521.72 245.42,523.95 248.07,526.18 250.72,528.40 253.38,530.61 256.03,532.81 258.68,535.02 261.33,537.21 263.98,539.40 266.64,541.59 269.29,543.77 271.94,545.95 274.59,548.12 277.24,550.29 279.90,552.45 282.55,554.61 285.20,556.77 287.85,558.92 290.50,561.07 293.16,563.22 295.81,565.36 298.46,567.49 301.11,569.62 303.76,571.74 306.42,573.85 309.07,575.96 311.72,578.05 314.37,580.13 317.02,582.19 319.68,584.25 322.33,586.28 324.98,588.31 327.63,590.31 330.28,592.30 332.94,594.27 335.59,596.22 338.24,598.15 340.89,600.05 343.54,601.94 346.20,603.80 348.85,605.63 351.50,607.44" fill="none" stroke="#1f7fb8" stroke-width="2.2" stroke-linejoin="round" stroke-linecap="butt"/>
<rect x="249.10" y="361.80" width="106.30" height="60.70" rx="3.5" fill="#fff" fill-opacity="0.8" stroke="#d6d6d6" stroke-width="1.2"/>
<line x1="255.60" y1="377.10" x2="295.00" y2="377.10" stroke="#ff2222" stroke-width="2.2"/>
<line x1="255.60" y1="404.80" x2="295.00" y2="404.80" stroke="#1f7fb8" stroke-width="2.2"/>
<text transform="translate(308.85,384.50) scale(0.8980,1)" font-size="19.91">ROE</text>
<text transform="translate(308.89,412.00) scale(0.8750,1)" font-size="19.91">RSE</text>
<rect x="73.17" y="352.66" width="291.53" height="289.69" fill="none" stroke="#000" stroke-width="0.95"/>
<text transform="translate(9.65,369.51) scale(0.9212,1)" font-size="21.66">(b)</text>
<svg x="394" y="352.7" width="290" height="289.5" viewBox="0 0 25 25" preserveAspectRatio="none"><rect x="0" y="0" width="1.08" height="1.08" fill="#000000"/><rect x="1" y="0" width="1.08" height="1.08" fill="#232323"/><rect x="2" y="0" width="1.08" height="1.08" fill="#232323"/><rect x="3" y="0" width="1.08" height="1.08" fill="#8c8c8c"/><rect x="4" y="0" width="1.08" height="1.08" fill="#8c8c8c"/><rect x="5" y="0" width="1.08" height="1.08" fill="#a5a5a5"/><rect x="6" y="0" width="1.08" height="1.08" fill="#a5a5a5"/><rect x="7" y="0" width="1.08" height="1.08" fill="#a0a0a0"/><rect x="8" y="0" width="1.08" height="1.08" fill="#a0a0a0"/><rect x="9" y="0" width="1.08" height="1.08" fill="#a0a0a0"/><rect x="10" y="0" width="1.08" height="1.08" fill="#9b9b9b"/><rect x="11" y="0" width="1.08" height="1.08" fill="#9b9b9b"/><rect x="12" y="0" width="1.08" height="1.08" fill="#969696"/><rect x="13" y="0" width="1.08" height="1.08" fill="#9b9b9b"/><rect x="14" y="0" width="1.08" height="1.08" fill="#919191"/><rect x="15" y="0" width="1.08" height="1.08" fill="#8c8c8c"/><rect x="16" y="0" width="1.08" height="1.08" fill="#878787"/><rect x="17" y="0" width="1.08" height="1.08" fill="#7d7d7d"/><rect x="18" y="0" width="1.08" height="1.08" fill="#464646"/><rect x="19" y="0" width="1.08" height="1.08" fill="#232323"/><rect x="20" y="0" width="1.08" height="1.08" fill="#191919"/><rect x="21" y="0" width="1.08" height="1.08" fill="#232323"/><rect x="22" y="0" width="1.08" height="1.08" fill="#000000"/><rect x="23" y="0" width="1.08" height="1.08" fill="#141414"/><rect x="24" y="0" width="1" height="1.08" fill="#1e1e1e"/><rect x="0" y="1" width="1.08" height="1.08" fill="#000000"/><rect x="1" y="1" width="1.08" height="1.08" fill="#141414"/><rect x="2" y="1" width="1.08" height="1.08" fill="#4b4b4b"/><rect x="3" y="1" width="1.08" height="1.08" fill="#969696"/><rect x="4" y="1" width="1.08" height="1.08" fill="#969696"/><rect x="5" y="1" width="1.08" height="1.08" fill="#a0a0a0"/><rect x="6" y="1" width="1.08" height="1.08" fill="#a0a0a0"/><rect x="7" y="1" width="1.08" height="1.08" fill="#a5a5a5"/><rect x="8" y="1" width="1.08" height="1.08" fill="#a0a0a0"/><rect x="9" y="1" width="1.08" height="1.08" fill="#a0a0a0"/><rect x="10" y="1" width="1.08" height="1.08" fill="#a5a5a5"/><rect x="11" y="1" width="1.08" height="1.08" fill="#a0a0a0"/><rect x="12" y="1" width="1.08" height="1.08" fill="#a0a0a0"/><rect x="13" y="1" width="1.08" height="1.08" fill="#a0a0a0"/><rect x="14" y="1" width="1.08" height="1.08" fill="#9b9b9b"/><rect x="15" y="1" width="1.08" height="1.08" fill="#969696"/><rect x="16" y="1" width="1.08" height="1.08" fill="#919191"/><rect x="17" y="1" width="1.08" height="1.08" fill="#878787"/><rect x="18" y="1" width="1.08" height="1.08" fill="#696969"/><rect x="19" y="1" width="1.08" height="1.08" fill="#1e1e1e"/><rect x="20" y="1" width="1.08" height="1.08" fill="#191919"/><rect x="21" y="1" width="1.08" height="1.08" fill="#282828"/><rect x="22" y="1" width="1.08" height="1.08" fill="#232323"/><rect x="23" y="1" width="1.08" height="1.08" fill="#141414"/><rect x="24" y="1" width="1" height="1.08" fill="#323232"/><rect x="0" y="2" width="1.08" height="1.08" fill="#000000"/><rect x="1" y="2" width="1.08" height="1.08" fill="#141414"/><rect x="2" y="2" width="1.08" height="1.08" fill="#5f5f5f"/><rect x="3" y="2" width="1.08" height="1.08" fill="#8c8c8c"/><rect x="4" y="2" width="1.08" height="1.08" fill="#9b9b9b"/><rect x="5" y="2" width="1.08" height="1.08" fill="#a0a0a0"/><rect x="6" y="2" width="1.08" height="1.08" fill="#a0a0a0"/><rect x="7" y="2" width="1.08" height="1.08" fill="#a5a5a5"/><rect x="8" y="2" width="1.08" height="1.08" fill="#aaaaaa"/><rect x="9" y="2" width="1.08" height="1.08" fill="#afafaf"/><rect x="10" y="2" width="1.08" height="1.08" fill="#afafaf"/><rect x="11" y="2" width="1.08" height="1.08" fill="#aaaaaa"/><rect x="12" y="2" width="1.08" height="1.08" fill="#a5a5a5"/><rect x="13" y="2" width="1.08" height="1.08" fill="#a5a5a5"/><rect x="14" y="2" width="1.08" height="1.08" fill="#a0a0a0"/><rect x="15" y="2" width="1.08" height="1.08" fill="#9b9b9b"/><rect x="16" y="2" width="1.08" height="1.08" fill="#9b9b9b"/><rect x="17" y="2" width="1.08" height="1.08" fill="#878787"/><rect x="18" y="2" width="1.08" height="1.08" fill="#787878"/><rect x="19" y="2" width="1.08" height="1.08" fill="#282828"/><rect x="20" y="2" width="1.08" height="1.08" fill="#0a0a0a"/><rect x="21" y="2" width="1.08" height="1.08" fill="#050505"/><rect x="22" y="2" width="1.08" height="1.08" fill="#1e1e1e"/><rect x="23" y="2" width="1.08" height="1.08" fill="#0a0a0a"/><rect x="24" y="2" width="1" height="1.08" fill="#0a0a0a"/><rect x="0" y="3" width="1.08" height="1.08" fill="#050505"/><rect x="1" y="3" width="1.08" height="1.08" fill="#141414"/><rect x="2" y="3" width="1.08" height="1.08" fill="#5f5f5f"/><rect x="3" y="3" width="1.08" height="1.08" fill="#8c8c8c"/><rect x="4" y="3" width="1.08" height="1.08" fill="#969696"/><rect x="5" y="3" width="1.08" height="1.08" fill="#9b9b9b"/><rect x="6" y="3" width="1.08" height="1.08" fill="#a0a0a0"/><rect x="7" y="3" width="1.08" height="1.08" fill="#a0a0a0"/><rect x="8" y="3" width="1.08" height="1.08" fill="#a5a5a5"/><rect x="9" y="3" width="1.08" height="1.08" fill="#aaaaaa"/><rect x="10" y="3" width="1.08" height="1.08" fill="#aaaaaa"/><rect x="11" y="3" width="1.08" height="1.08" fill="#a5a5a5"/><rect x="12" y="3" width="1.08" height="1.08" fill="#a5a5a5"/><rect x="13" y="3" width="1.08" height="1.08" fill="#a5a5a5"/><rect x="14" y="3" width="1.08" height="1.08" fill="#9b9b9b"/><rect x="15" y="3" width="1.08" height="1.08" fill="#9b9b9b"/><rect x="16" y="3" width="1.08" height="1.08" fill="#9b9b9b"/><rect x="17" y="3" width="1.08" height="1.08" fill="#878787"/><rect x="18" y="3" width="1.08" height="1.08" fill="#787878"/><rect x="19" y="3" width="1.08" height="1.08" fill="#464646"/><rect x="20" y="3" width="1.08" height="1.08" fill="#191919"/><rect x="21" y="3" width="1.08" height="1.08" fill="#050505"/><rect x="22" y="3" width="1.08" height="1.08" fill="#050505"/><rect x="23" y="3" width="1.08" height="1.08" fill="#0a0a0a"/><rect x="24" y="3" width="1" height="1.08" fill="#141414"/><rect x="0" y="4" width="1.08" height="1.08" fill="#0a0a0a"/><rect x="1" y="4" width="1.08" height="1.08" fill="#050505"/><rect x="2" y="4" width="1.08" height="1.08" fill="#5f5f5f"/><rect x="3" y="4" width="1.08" height="1.08" fill="#878787"/><rect x="4" y="4" width="1.08" height="1.08" fill="#919191"/><rect x="5" y="4" width="1.08" height="1.08" fill="#9b9b9b"/><rect x="6" y="4" width="1.08" height="1.08" fill="#a5a5a5"/><rect x="7" y="4" width="1.08" height="1.08" fill="#a5a5a5"/><rect x="8" y="4" width="1.08" height="1.08" fill="#a5a5a5"/><rect x="9" y="4" width="1.08" height="1.08" fill="#afafaf"/><rect x="10" y="4" width="1.08" height="1.08" fill="#aaaaaa"/><rect x="11" y="4" width="1.08" height="1.08" fill="#aaaaaa"/><rect x="12" y="4" width="1.08" height="1.08" fill="#a2a2a2"/><rect x="13" y="4" width="1.08" height="1.08" fill="#a5a5a5"/><rect x="14" y="4" width="1.08" height="1.08" fill="#969696"/><rect x="15" y="4" width="1.08" height="1.08" fill="#969696"/><rect x="16" y="4" width="1.08" height="1.08" fill="#9b9b9b"/><rect x="17" y="4" width="1.08" height="1.08" fill="#8c8c8c"/><rect x="18" y="4" width="1.08" height="1.08" fill="#787878"/><rect x="19" y="4" width="1.08" height="1.08" fill="#5f5f5f"/><rect x="20" y="4" width="1.08" height="1.08" fill="#0a0a0a"/><rect x="21" y="4" width="1.08" height="1.08" fill="#191919"/><rect x="22" y="4" width="1.08" height="1.08" fill="#050505"/><rect x="23" y="4" width="1.08" height="1.08" fill="#0a0a0a"/><rect x="24" y="4" width="1" height="1.08" fill="#0f0f0f"/><rect x="0" y="5" width="1.08" height="1.08" fill="#0a0a0a"/><rect x="1" y="5" width="1.08" height="1.08" fill="#050505"/><rect x="2" y="5" width="1.08" height="1.08" fill="#646464"/><rect x="3" y="5" width="1.08" height="1.08" fill="#878787"/><rect x="4" y="5" width="1.08" height="1.08" fill="#919191"/><rect x="5" y="5" width="1.08" height="1.08" fill="#9b9b9b"/><rect x="6" y="5" width="1.08" height="1.08" fill="#aaaaaa"/><rect x="7" y="5" width="1.08" height="1.08" fill="#aaaaaa"/><rect x="8" y="5" width="1.08" height="1.08" fill="#b4b4b4"/><rect x="9" y="5" width="1.08" height="1.08" fill="#d2d2d2"/><rect x="10" y="5" width="1.08" height="1.08" fill="#afafaf"/><rect x="11" y="5" width="1.08" height="1.08" fill="#afafaf"/><rect x="12" y="5" width="1.08" height="1.08" fill="#a8a8a8"/><rect x="13" y="5" width="1.08" height="1.08" fill="#7d7d7d"/><rect x="14" y="5" width="1.08" height="1.08" fill="#555555"/><rect x="15" y="5" width="1.08" height="1.08" fill="#464646"/><rect x="16" y="5" width="1.08" height="1.08" fill="#323232"/><rect x="17" y="5" width="1.08" height="1.08" fill="#3c3c3c"/><rect x="18" y="5" width="1.08" height="1.08" fill="#646464"/><rect x="19" y="5" width="1.08" height="1.08" fill="#646464"/><rect x="20" y="5" width="1.08" height="1.08" fill="#555555"/><rect x="21" y="5" width="1.08" height="1.08" fill="#0f0f0f"/><rect x="22" y="5" width="1.08" height="1.08" fill="#050505"/><rect x="23" y="5" width="1.08" height="1.08" fill="#050505"/><rect x="24" y="5" width="1" height="1.08" fill="#282828"/><rect x="0" y="6" width="1.08" height="1.08" fill="#000000"/><rect x="1" y="6" width="1.08" height="1.08" fill="#000000"/><rect x="2" y="6" width="1.08" height="1.08" fill="#696969"/><rect x="3" y="6" width="1.08" height="1.08" fill="#464646"/><rect x="4" y="6" width="1.08" height="1.08" fill="#191919"/><rect x="5" y="6" width="1.08" height="1.08" fill="#1e1e1e"/><rect x="6" y="6" width="1.08" height="1.08" fill="#1e1e1e"/><rect x="7" y="6" width="1.08" height="1.08" fill="#646464"/><rect x="8" y="6" width="1.08" height="1.08" fill="#a0a0a0"/><rect x="9" y="6" width="1.08" height="1.08" fill="#a0a0a0"/><rect x="10" y="6" width="1.08" height="1.08" fill="#9b9b9b"/><rect x="11" y="6" width="1.08" height="1.08" fill="#919191"/><rect x="12" y="6" width="1.08" height="1.08" fill="#707070"/><rect x="13" y="6" width="1.08" height="1.08" fill="#6e6e6e"/><rect x="14" y="6" width="1.08" height="1.08" fill="#787878"/><rect x="15" y="6" width="1.08" height="1.08" fill="#a0a0a0"/><rect x="16" y="6" width="1.08" height="1.08" fill="#7d7d7d"/><rect x="17" y="6" width="1.08" height="1.08" fill="#555555"/><rect x="18" y="6" width="1.08" height="1.08" fill="#5f5f5f"/><rect x="19" y="6" width="1.08" height="1.08" fill="#6e6e6e"/><rect x="20" y="6" width="1.08" height="1.08" fill="#6e6e6e"/><rect x="21" y="6" width="1.08" height="1.08" fill="#000000"/><rect x="22" y="6" width="1.08" height="1.08" fill="#282828"/><rect x="23" y="6" width="1.08" height="1.08" fill="#191919"/><rect x="24" y="6" width="1" height="1.08" fill="#505050"/><rect x="0" y="7" width="1.08" height="1.08" fill="#646464"/><rect x="1" y="7" width="1.08" height="1.08" fill="#000000"/><rect x="2" y="7" width="1.08" height="1.08" fill="#646464"/><rect x="3" y="7" width="1.08" height="1.08" fill="#555555"/><rect x="4" y="7" width="1.08" height="1.08" fill="#878787"/><rect x="5" y="7" width="1.08" height="1.08" fill="#969696"/><rect x="6" y="7" width="1.08" height="1.08" fill="#787878"/><rect x="7" y="7" width="1.08" height="1.08" fill="#646464"/><rect x="8" y="7" width="1.08" height="1.08" fill="#6e6e6e"/><rect x="9" y="7" width="1.08" height="1.08" fill="#a0a0a0"/><rect x="10" y="7" width="1.08" height="1.08" fill="#a5a5a5"/><rect x="11" y="7" width="1.08" height="1.08" fill="#8c8c8c"/><rect x="12" y="7" width="1.08" height="1.08" fill="#6e6e6e"/><rect x="13" y="7" width="1.08" height="1.08" fill="#696969"/><rect x="14" y="7" width="1.08" height="1.08" fill="#737373"/><rect x="15" y="7" width="1.08" height="1.08" fill="#a5a5a5"/><rect x="16" y="7" width="1.08" height="1.08" fill="#646464"/><rect x="17" y="7" width="1.08" height="1.08" fill="#828282"/><rect x="18" y="7" width="1.08" height="1.08" fill="#6e6e6e"/><rect x="19" y="7" width="1.08" height="1.08" fill="#737373"/><rect x="20" y="7" width="1.08" height="1.08" fill="#232323"/><rect x="21" y="7" width="1.08" height="1.08" fill="#141414"/><rect x="22" y="7" width="1.08" height="1.08" fill="#0a0a0a"/><rect x="23" y="7" width="1.08" height="1.08" fill="#646464"/><rect x="24" y="7" width="1" height="1.08" fill="#a0a0a0"/><rect x="0" y="8" width="1.08" height="1.08" fill="#969696"/><rect x="1" y="8" width="1.08" height="1.08" fill="#050505"/><rect x="2" y="8" width="1.08" height="1.08" fill="#737373"/><rect x="3" y="8" width="1.08" height="1.08" fill="#7d7d7d"/><rect x="4" y="8" width="1.08" height="1.08" fill="#5f5f5f"/><rect x="5" y="8" width="1.08" height="1.08" fill="#878787"/><rect x="6" y="8" width="1.08" height="1.08" fill="#737373"/><rect x="7" y="8" width="1.08" height="1.08" fill="#696969"/><rect x="8" y="8" width="1.08" height="1.08" fill="#4b4b4b"/><rect x="9" y="8" width="1.08" height="1.08" fill="#646464"/><rect x="10" y="8" width="1.08" height="1.08" fill="#c8c8c8"/><rect x="11" y="8" width="1.08" height="1.08" fill="#828282"/><rect x="12" y="8" width="1.08" height="1.08" fill="#6c6c6c"/><rect x="13" y="8" width="1.08" height="1.08" fill="#505050"/><rect x="14" y="8" width="1.08" height="1.08" fill="#373737"/><rect x="15" y="8" width="1.08" height="1.08" fill="#414141"/><rect x="16" y="8" width="1.08" height="1.08" fill="#2d2d2d"/><rect x="17" y="8" width="1.08" height="1.08" fill="#6e6e6e"/><rect x="18" y="8" width="1.08" height="1.08" fill="#323232"/><rect x="19" y="8" width="1.08" height="1.08" fill="#464646"/><rect x="20" y="8" width="1.08" height="1.08" fill="#7d7d7d"/><rect x="21" y="8" width="1.08" height="1.08" fill="#4b4b4b"/><rect x="22" y="8" width="1.08" height="1.08" fill="#191919"/><rect x="23" y="8" width="1.08" height="1.08" fill="#8c8c8c"/><rect x="24" y="8" width="1" height="1.08" fill="#aaaaaa"/><rect x="0" y="9" width="1.08" height="1.08" fill="#cdcdcd"/><rect x="1" y="9" width="1.08" height="1.08" fill="#000000"/><rect x="2" y="9" width="1.08" height="1.08" fill="#6e6e6e"/><rect x="3" y="9" width="1.08" height="1.08" fill="#787878"/><rect x="4" y="9" width="1.08" height="1.08" fill="#2d2d2d"/><rect x="5" y="9" width="1.08" height="1.08" fill="#555555"/><rect x="6" y="9" width="1.08" height="1.08" fill="#6e6e6e"/><rect x="7" y="9" width="1.08" height="1.08" fill="#6e6e6e"/><rect x="8" y="9" width="1.08" height="1.08" fill="#919191"/><rect x="9" y="9" width="1.08" height="1.08" fill="#232323"/><rect x="10" y="9" width="1.08" height="1.08" fill="#a0a0a0"/><rect x="11" y="9" width="1.08" height="1.08" fill="#828282"/><rect x="12" y="9" width="1.08" height="1.08" fill="#5f5f5f"/><rect x="13" y="9" width="1.08" height="1.08" fill="#787878"/><rect x="14" y="9" width="1.08" height="1.08" fill="#828282"/><rect x="15" y="9" width="1.08" height="1.08" fill="#9b9b9b"/><rect x="16" y="9" width="1.08" height="1.08" fill="#7d7d7d"/><rect x="17" y="9" width="1.08" height="1.08" fill="#7d7d7d"/><rect x="18" y="9" width="1.08" height="1.08" fill="#8c8c8c"/><rect x="19" y="9" width="1.08" height="1.08" fill="#828282"/><rect x="20" y="9" width="1.08" height="1.08" fill="#737373"/><rect x="21" y="9" width="1.08" height="1.08" fill="#464646"/><rect x="22" y="9" width="1.08" height="1.08" fill="#a0a0a0"/><rect x="23" y="9" width="1.08" height="1.08" fill="#919191"/><rect x="24" y="9" width="1" height="1.08" fill="#828282"/><rect x="0" y="10" width="1.08" height="1.08" fill="#323232"/><rect x="1" y="10" width="1.08" height="1.08" fill="#282828"/><rect x="2" y="10" width="1.08" height="1.08" fill="#969696"/><rect x="3" y="10" width="1.08" height="1.08" fill="#828282"/><rect x="4" y="10" width="1.08" height="1.08" fill="#787878"/><rect x="5" y="10" width="1.08" height="1.08" fill="#8c8c8c"/><rect x="6" y="10" width="1.08" height="1.08" fill="#828282"/><rect x="7" y="10" width="1.08" height="1.08" fill="#8c8c8c"/><rect x="8" y="10" width="1.08" height="1.08" fill="#969696"/><rect x="9" y="10" width="1.08" height="1.08" fill="#737373"/><rect x="10" y="10" width="1.08" height="1.08" fill="#a0a0a0"/><rect x="11" y="10" width="1.08" height="1.08" fill="#8c8c8c"/><rect x="12" y="10" width="1.08" height="1.08" fill="#767676"/><rect x="13" y="10" width="1.08" height="1.08" fill="#a5a5a5"/><rect x="14" y="10" width="1.08" height="1.08" fill="#9b9b9b"/><rect x="15" y="10" width="1.08" height="1.08" fill="#969696"/><rect x="16" y="10" width="1.08" height="1.08" fill="#919191"/><rect x="17" y="10" width="1.08" height="1.08" fill="#919191"/><rect x="18" y="10" width="1.08" height="1.08" fill="#8c8c8c"/><rect x="19" y="10" width="1.08" height="1.08" fill="#878787"/><rect x="20" y="10" width="1.08" height="1.08" fill="#737373"/><rect x="21" y="10" width="1.08" height="1.08" fill="#464646"/><rect x="22" y="10" width="1.08" height="1.08" fill="#6e6e6e"/><rect x="23" y="10" width="1.08" height="1.08" fill="#919191"/><rect x="24" y="10" width="1" height="1.08" fill="#5f5f5f"/><rect x="0" y="11" width="1.08" height="1.08" fill="#141414"/><rect x="1" y="11" width="1.08" height="1.08" fill="#555555"/><rect x="2" y="11" width="1.08" height="1.08" fill="#8c8c8c"/><rect x="3" y="11" width="1.08" height="1.08" fill="#a0a0a0"/><rect x="4" y="11" width="1.08" height="1.08" fill="#969696"/><rect x="5" y="11" width="1.08" height="1.08" fill="#9b9b9b"/><rect x="6" y="11" width="1.08" height="1.08" fill="#9b9b9b"/><rect x="7" y="11" width="1.08" height="1.08" fill="#a0a0a0"/><rect x="8" y="11" width="1.08" height="1.08" fill="#9b9b9b"/><rect x="9" y="11" width="1.08" height="1.08" fill="#919191"/><rect x="10" y="11" width="1.08" height="1.08" fill="#a0a0a0"/><rect x="11" y="11" width="1.08" height="1.08" fill="#878787"/><rect x="12" y="11" width="1.08" height="1.08" fill="#828282"/><rect x="13" y="11" width="1.08" height="1.08" fill="#919191"/><rect x="14" y="11" width="1.08" height="1.08" fill="#a0a0a0"/><rect x="15" y="11" width="1.08" height="1.08" fill="#a5a5a5"/><rect x="16" y="11" width="1.08" height="1.08" fill="#a0a0a0"/><rect x="17" y="11" width="1.08" height="1.08" fill="#aaaaaa"/><rect x="18" y="11" width="1.08" height="1.08" fill="#969696"/><rect x="19" y="11" width="1.08" height="1.08" fill="#8c8c8c"/><rect x="20" y="11" width="1.08" height="1.08" fill="#6e6e6e"/><rect x="21" y="11" width="1.08" height="1.08" fill="#3c3c3c"/><rect x="22" y="11" width="1.08" height="1.08" fill="#828282"/><rect x="23" y="11" width="1.08" height="1.08" fill="#6e6e6e"/><rect x="24" y="11" width="1" height="1.08" fill="#3c3c3c"/><rect x="0" y="12" width="1.08" height="1.08" fill="#0a0a0a"/><rect x="1" y="12" width="1.08" height="1.08" fill="#8c8c8c"/><rect x="2" y="12" width="1.08" height="1.08" fill="#8c8c8c"/><rect x="3" y="12" width="1.08" height="1.08" fill="#a8a8a8"/><rect x="4" y="12" width="1.08" height="1.08" fill="#acacac"/><rect x="5" y="12" width="1.08" height="1.08" fill="#acacac"/><rect x="6" y="12" width="1.08" height="1.08" fill="#a8a8a8"/><rect x="7" y="12" width="1.08" height="1.08" fill="#a8a8a8"/><rect x="8" y="12" width="1.08" height="1.08" fill="#787878"/><rect x="9" y="12" width="1.08" height="1.08" fill="#9b9b9b"/><rect x="10" y="12" width="1.08" height="1.08" fill="#9b9b9b"/><rect x="11" y="12" width="1.08" height="1.08" fill="#949494"/><rect x="12" y="12" width="1.08" height="1.08" fill="#6e6e6e"/><rect x="13" y="12" width="1.08" height="1.08" fill="#6e6e6e"/><rect x="14" y="12" width="1.08" height="1.08" fill="#aaaaaa"/><rect x="15" y="12" width="1.08" height="1.08" fill="#acacac"/><rect x="16" y="12" width="1.08" height="1.08" fill="#afafaf"/><rect x="17" y="12" width="1.08" height="1.08" fill="#9e9e9e"/><rect x="18" y="12" width="1.08" height="1.08" fill="#919191"/><rect x="19" y="12" width="1.08" height="1.08" fill="#8c8c8c"/><rect x="20" y="12" width="1.08" height="1.08" fill="#707070"/><rect x="21" y="12" width="1.08" height="1.08" fill="#3c3c3c"/><rect x="22" y="12" width="1.08" height="1.08" fill="#848484"/><rect x="23" y="12" width="1.08" height="1.08" fill="#7d7d7d"/><rect x="24" y="12" width="1" height="1.08" fill="#020202"/><rect x="0" y="13" width="1.08" height="1.08" fill="#0a0a0a"/><rect x="1" y="13" width="1.08" height="1.08" fill="#a5a5a5"/><rect x="2" y="13" width="1.08" height="1.08" fill="#878787"/><rect x="3" y="13" width="1.08" height="1.08" fill="#9b9b9b"/><rect x="4" y="13" width="1.08" height="1.08" fill="#a5a5a5"/><rect x="5" y="13" width="1.08" height="1.08" fill="#aaaaaa"/><rect x="6" y="13" width="1.08" height="1.08" fill="#a0a0a0"/><rect x="7" y="13" width="1.08" height="1.08" fill="#828282"/><rect x="8" y="13" width="1.08" height="1.08" fill="#919191"/><rect x="9" y="13" width="1.08" height="1.08" fill="#a0a0a0"/><rect x="10" y="13" width="1.08" height="1.08" fill="#afafaf"/><rect x="11" y="13" width="1.08" height="1.08" fill="#969696"/><rect x="12" y="13" width="1.08" height="1.08" fill="#828282"/><rect x="13" y="13" width="1.08" height="1.08" fill="#787878"/><rect x="14" y="13" width="1.08" height="1.08" fill="#969696"/><rect x="15" y="13" width="1.08" height="1.08" fill="#a5a5a5"/><rect x="16" y="13" width="1.08" height="1.08" fill="#c3c3c3"/><rect x="17" y="13" width="1.08" height="1.08" fill="#a0a0a0"/><rect x="18" y="13" width="1.08" height="1.08" fill="#919191"/><rect x="19" y="13" width="1.08" height="1.08" fill="#8c8c8c"/><rect x="20" y="13" width="1.08" height="1.08" fill="#696969"/><rect x="21" y="13" width="1.08" height="1.08" fill="#373737"/><rect x="22" y="13" width="1.08" height="1.08" fill="#737373"/><rect x="23" y="13" width="1.08" height="1.08" fill="#555555"/><rect x="24" y="13" width="1" height="1.08" fill="#000000"/><rect x="0" y="14" width="1.08" height="1.08" fill="#0a0a0a"/><rect x="1" y="14" width="1.08" height="1.08" fill="#505050"/><rect x="2" y="14" width="1.08" height="1.08" fill="#787878"/><rect x="3" y="14" width="1.08" height="1.08" fill="#919191"/><rect x="4" y="14" width="1.08" height="1.08" fill="#aaaaaa"/><rect x="5" y="14" width="1.08" height="1.08" fill="#a5a5a5"/><rect x="6" y="14" width="1.08" height="1.08" fill="#8c8c8c"/><rect x="7" y="14" width="1.08" height="1.08" fill="#9b9b9b"/><rect x="8" y="14" width="1.08" height="1.08" fill="#7d7d7d"/><rect x="9" y="14" width="1.08" height="1.08" fill="#7d7d7d"/><rect x="10" y="14" width="1.08" height="1.08" fill="#969696"/><rect x="11" y="14" width="1.08" height="1.08" fill="#919191"/><rect x="12" y="14" width="1.08" height="1.08" fill="#787878"/><rect x="13" y="14" width="1.08" height="1.08" fill="#787878"/><rect x="14" y="14" width="1.08" height="1.08" fill="#919191"/><rect x="15" y="14" width="1.08" height="1.08" fill="#919191"/><rect x="16" y="14" width="1.08" height="1.08" fill="#a5a5a5"/><rect x="17" y="14" width="1.08" height="1.08" fill="#a0a0a0"/><rect x="18" y="14" width="1.08" height="1.08" fill="#8c8c8c"/><rect x="19" y="14" width="1.08" height="1.08" fill="#878787"/><rect x="20" y="14" width="1.08" height="1.08" fill="#646464"/><rect x="21" y="14" width="1.08" height="1.08" fill="#323232"/><rect x="22" y="14" width="1.08" height="1.08" fill="#8c8c8c"/><rect x="23" y="14" width="1.08" height="1.08" fill="#050505"/><rect x="24" y="14" width="1" height="1.08" fill="#000000"/><rect x="0" y="15" width="1.08" height="1.08" fill="#0a0a0a"/><rect x="1" y="15" width="1.08" height="1.08" fill="#0f0f0f"/><rect x="2" y="15" width="1.08" height="1.08" fill="#787878"/><rect x="3" y="15" width="1.08" height="1.08" fill="#969696"/><rect x="4" y="15" width="1.08" height="1.08" fill="#9b9b9b"/><rect x="5" y="15" width="1.08" height="1.08" fill="#a0a0a0"/><rect x="6" y="15" width="1.08" height="1.08" fill="#8c8c8c"/><rect x="7" y="15" width="1.08" height="1.08" fill="#919191"/><rect x="8" y="15" width="1.08" height="1.08" fill="#8c8c8c"/><rect x="9" y="15" width="1.08" height="1.08" fill="#878787"/><rect x="10" y="15" width="1.08" height="1.08" fill="#828282"/><rect x="11" y="15" width="1.08" height="1.08" fill="#8c8c8c"/><rect x="12" y="15" width="1.08" height="1.08" fill="#828282"/><rect x="13" y="15" width="1.08" height="1.08" fill="#787878"/><rect x="14" y="15" width="1.08" height="1.08" fill="#7d7d7d"/><rect x="15" y="15" width="1.08" height="1.08" fill="#8c8c8c"/><rect x="16" y="15" width="1.08" height="1.08" fill="#7d7d7d"/><rect x="17" y="15" width="1.08" height="1.08" fill="#aaaaaa"/><rect x="18" y="15" width="1.08" height="1.08" fill="#969696"/><rect x="19" y="15" width="1.08" height="1.08" fill="#828282"/><rect x="20" y="15" width="1.08" height="1.08" fill="#646464"/><rect x="21" y="15" width="1.08" height="1.08" fill="#3c3c3c"/><rect x="22" y="15" width="1.08" height="1.08" fill="#0a0a0a"/><rect x="23" y="15" width="1.08" height="1.08" fill="#0f0f0f"/><rect x="24" y="15" width="1" height="1.08" fill="#0f0f0f"/><rect x="0" y="16" width="1.08" height="1.08" fill="#1e1e1e"/><rect x="1" y="16" width="1.08" height="1.08" fill="#1e1e1e"/><rect x="2" y="16" width="1.08" height="1.08" fill="#0a0a0a"/><rect x="3" y="16" width="1.08" height="1.08" fill="#919191"/><rect x="4" y="16" width="1.08" height="1.08" fill="#969696"/><rect x="5" y="16" width="1.08" height="1.08" fill="#9b9b9b"/><rect x="6" y="16" width="1.08" height="1.08" fill="#8c8c8c"/><rect x="7" y="16" width="1.08" height="1.08" fill="#878787"/><rect x="8" y="16" width="1.08" height="1.08" fill="#919191"/><rect x="9" y="16" width="1.08" height="1.08" fill="#969696"/><rect x="10" y="16" width="1.08" height="1.08" fill="#8c8c8c"/><rect x="11" y="16" width="1.08" height="1.08" fill="#8c8c8c"/><rect x="12" y="16" width="1.08" height="1.08" fill="#969696"/><rect x="13" y="16" width="1.08" height="1.08" fill="#969696"/><rect x="14" y="16" width="1.08" height="1.08" fill="#8c8c8c"/><rect x="15" y="16" width="1.08" height="1.08" fill="#8c8c8c"/><rect x="16" y="16" width="1.08" height="1.08" fill="#787878"/><rect x="17" y="16" width="1.08" height="1.08" fill="#a0a0a0"/><rect x="18" y="16" width="1.08" height="1.08" fill="#919191"/><rect x="19" y="16" width="1.08" height="1.08" fill="#828282"/><rect x="20" y="16" width="1.08" height="1.08" fill="#696969"/><rect x="21" y="16" width="1.08" height="1.08" fill="#3c3c3c"/><rect x="22" y="16" width="1.08" height="1.08" fill="#050505"/><rect x="23" y="16" width="1.08" height="1.08" fill="#0a0a0a"/><rect x="24" y="16" width="1" height="1.08" fill="#0f0f0f"/><rect x="0" y="17" width="1.08" height="1.08" fill="#282828"/><rect x="1" y="17" width="1.08" height="1.08" fill="#0a0a0a"/><rect x="2" y="17" width="1.08" height="1.08" fill="#050505"/><rect x="3" y="17" width="1.08" height="1.08" fill="#919191"/><rect x="4" y="17" width="1.08" height="1.08" fill="#a5a5a5"/><rect x="5" y="17" width="1.08" height="1.08" fill="#aaaaaa"/><rect x="6" y="17" width="1.08" height="1.08" fill="#878787"/><rect x="7" y="17" width="1.08" height="1.08" fill="#8c8c8c"/><rect x="8" y="17" width="1.08" height="1.08" fill="#878787"/><rect x="9" y="17" width="1.08" height="1.08" fill="#8c8c8c"/><rect x="10" y="17" width="1.08" height="1.08" fill="#828282"/><rect x="11" y="17" width="1.08" height="1.08" fill="#787878"/><rect x="12" y="17" width="1.08" height="1.08" fill="#828282"/><rect x="13" y="17" width="1.08" height="1.08" fill="#7d7d7d"/><rect x="14" y="17" width="1.08" height="1.08" fill="#696969"/><rect x="15" y="17" width="1.08" height="1.08" fill="#6e6e6e"/><rect x="16" y="17" width="1.08" height="1.08" fill="#878787"/><rect x="17" y="17" width="1.08" height="1.08" fill="#b4b4b4"/><rect x="18" y="17" width="1.08" height="1.08" fill="#919191"/><rect x="19" y="17" width="1.08" height="1.08" fill="#7d7d7d"/><rect x="20" y="17" width="1.08" height="1.08" fill="#5f5f5f"/><rect x="21" y="17" width="1.08" height="1.08" fill="#b4b4b4"/><rect x="22" y="17" width="1.08" height="1.08" fill="#e1e1e1"/><rect x="23" y="17" width="1.08" height="1.08" fill="#e6e6e6"/><rect x="24" y="17" width="1" height="1.08" fill="#c8c8c8"/><rect x="0" y="18" width="1.08" height="1.08" fill="#191919"/><rect x="1" y="18" width="1.08" height="1.08" fill="#141414"/><rect x="2" y="18" width="1.08" height="1.08" fill="#050505"/><rect x="3" y="18" width="1.08" height="1.08" fill="#919191"/><rect x="4" y="18" width="1.08" height="1.08" fill="#a5a5a5"/><rect x="5" y="18" width="1.08" height="1.08" fill="#aaaaaa"/><rect x="6" y="18" width="1.08" height="1.08" fill="#8c8c8c"/><rect x="7" y="18" width="1.08" height="1.08" fill="#646464"/><rect x="8" y="18" width="1.08" height="1.08" fill="#555555"/><rect x="9" y="18" width="1.08" height="1.08" fill="#696969"/><rect x="10" y="18" width="1.08" height="1.08" fill="#646464"/><rect x="11" y="18" width="1.08" height="1.08" fill="#646464"/><rect x="12" y="18" width="1.08" height="1.08" fill="#646464"/><rect x="13" y="18" width="1.08" height="1.08" fill="#646464"/><rect x="14" y="18" width="1.08" height="1.08" fill="#555555"/><rect x="15" y="18" width="1.08" height="1.08" fill="#8c8c8c"/><rect x="16" y="18" width="1.08" height="1.08" fill="#8c8c8c"/><rect x="17" y="18" width="1.08" height="1.08" fill="#a0a0a0"/><rect x="18" y="18" width="1.08" height="1.08" fill="#969696"/><rect x="19" y="18" width="1.08" height="1.08" fill="#878787"/><rect x="20" y="18" width="1.08" height="1.08" fill="#5f5f5f"/><rect x="21" y="18" width="1.08" height="1.08" fill="#d7d7d7"/><rect x="22" y="18" width="1.08" height="1.08" fill="#e1e1e1"/><rect x="23" y="18" width="1.08" height="1.08" fill="#dcdcdc"/><rect x="24" y="18" width="1" height="1.08" fill="#c8c8c8"/><rect x="0" y="19" width="1.08" height="1.08" fill="#323232"/><rect x="1" y="19" width="1.08" height="1.08" fill="#2d2d2d"/><rect x="2" y="19" width="1.08" height="1.08" fill="#232323"/><rect x="3" y="19" width="1.08" height="1.08" fill="#1e1e1e"/><rect x="4" y="19" width="1.08" height="1.08" fill="#9b9b9b"/><rect x="5" y="19" width="1.08" height="1.08" fill="#a5a5a5"/><rect x="6" y="19" width="1.08" height="1.08" fill="#969696"/><rect x="7" y="19" width="1.08" height="1.08" fill="#9b9b9b"/><rect x="8" y="19" width="1.08" height="1.08" fill="#919191"/><rect x="9" y="19" width="1.08" height="1.08" fill="#8c8c8c"/><rect x="10" y="19" width="1.08" height="1.08" fill="#969696"/><rect x="11" y="19" width="1.08" height="1.08" fill="#a0a0a0"/><rect x="12" y="19" width="1.08" height="1.08" fill="#878787"/><rect x="13" y="19" width="1.08" height="1.08" fill="#878787"/><rect x="14" y="19" width="1.08" height="1.08" fill="#969696"/><rect x="15" y="19" width="1.08" height="1.08" fill="#969696"/><rect x="16" y="19" width="1.08" height="1.08" fill="#969696"/><rect x="17" y="19" width="1.08" height="1.08" fill="#9b9b9b"/><rect x="18" y="19" width="1.08" height="1.08" fill="#919191"/><rect x="19" y="19" width="1.08" height="1.08" fill="#7d7d7d"/><rect x="20" y="19" width="1.08" height="1.08" fill="#505050"/><rect x="21" y="19" width="1.08" height="1.08" fill="#d7d7d7"/><rect x="22" y="19" width="1.08" height="1.08" fill="#828282"/><rect x="23" y="19" width="1.08" height="1.08" fill="#ebebeb"/><rect x="24" y="19" width="1" height="1.08" fill="#ebebeb"/><rect x="0" y="20" width="1.08" height="1.08" fill="#050505"/><rect x="1" y="20" width="1.08" height="1.08" fill="#0a0a0a"/><rect x="2" y="20" width="1.08" height="1.08" fill="#2d2d2d"/><rect x="3" y="20" width="1.08" height="1.08" fill="#050505"/><rect x="4" y="20" width="1.08" height="1.08" fill="#919191"/><rect x="5" y="20" width="1.08" height="1.08" fill="#9b9b9b"/><rect x="6" y="20" width="1.08" height="1.08" fill="#9b9b9b"/><rect x="7" y="20" width="1.08" height="1.08" fill="#9b9b9b"/><rect x="8" y="20" width="1.08" height="1.08" fill="#a0a0a0"/><rect x="9" y="20" width="1.08" height="1.08" fill="#a0a0a0"/><rect x="10" y="20" width="1.08" height="1.08" fill="#9b9b9b"/><rect x="11" y="20" width="1.08" height="1.08" fill="#969696"/><rect x="12" y="20" width="1.08" height="1.08" fill="#a0a0a0"/><rect x="13" y="20" width="1.08" height="1.08" fill="#969696"/><rect x="14" y="20" width="1.08" height="1.08" fill="#969696"/><rect x="15" y="20" width="1.08" height="1.08" fill="#919191"/><rect x="16" y="20" width="1.08" height="1.08" fill="#919191"/><rect x="17" y="20" width="1.08" height="1.08" fill="#919191"/><rect x="18" y="20" width="1.08" height="1.08" fill="#8c8c8c"/><rect x="19" y="20" width="1.08" height="1.08" fill="#6e6e6e"/><rect x="20" y="20" width="1.08" height="1.08" fill="#646464"/><rect x="21" y="20" width="1.08" height="1.08" fill="#737373"/><rect x="22" y="20" width="1.08" height="1.08" fill="#cdcdcd"/><rect x="23" y="20" width="1.08" height="1.08" fill="#afafaf"/><rect x="24" y="20" width="1" height="1.08" fill="#ebebeb"/><rect x="0" y="21" width="1.08" height="1.08" fill="#373737"/><rect x="1" y="21" width="1.08" height="1.08" fill="#1e1e1e"/><rect x="2" y="21" width="1.08" height="1.08" fill="#191919"/><rect x="3" y="21" width="1.08" height="1.08" fill="#141414"/><rect x="4" y="21" width="1.08" height="1.08" fill="#141414"/><rect x="5" y="21" width="1.08" height="1.08" fill="#969696"/><rect x="6" y="21" width="1.08" height="1.08" fill="#9b9b9b"/><rect x="7" y="21" width="1.08" height="1.08" fill="#a0a0a0"/><rect x="8" y="21" width="1.08" height="1.08" fill="#9b9b9b"/><rect x="9" y="21" width="1.08" height="1.08" fill="#969696"/><rect x="10" y="21" width="1.08" height="1.08" fill="#8c8c8c"/><rect x="11" y="21" width="1.08" height="1.08" fill="#8c8c8c"/><rect x="12" y="21" width="1.08" height="1.08" fill="#949494"/><rect x="13" y="21" width="1.08" height="1.08" fill="#919191"/><rect x="14" y="21" width="1.08" height="1.08" fill="#969696"/><rect x="15" y="21" width="1.08" height="1.08" fill="#9b9b9b"/><rect x="16" y="21" width="1.08" height="1.08" fill="#7d7d7d"/><rect x="17" y="21" width="1.08" height="1.08" fill="#878787"/><rect x="18" y="21" width="1.08" height="1.08" fill="#7d7d7d"/><rect x="19" y="21" width="1.08" height="1.08" fill="#646464"/><rect x="20" y="21" width="1.08" height="1.08" fill="#6e6e6e"/><rect x="21" y="21" width="1.08" height="1.08" fill="#464646"/><rect x="22" y="21" width="1.08" height="1.08" fill="#c3c3c3"/><rect x="23" y="21" width="1.08" height="1.08" fill="#cdcdcd"/><rect x="24" y="21" width="1" height="1.08" fill="#9b9b9b"/><rect x="0" y="22" width="1.08" height="1.08" fill="#282828"/><rect x="1" y="22" width="1.08" height="1.08" fill="#282828"/><rect x="2" y="22" width="1.08" height="1.08" fill="#282828"/><rect x="3" y="22" width="1.08" height="1.08" fill="#414141"/><rect x="4" y="22" width="1.08" height="1.08" fill="#323232"/><rect x="5" y="22" width="1.08" height="1.08" fill="#000000"/><rect x="6" y="22" width="1.08" height="1.08" fill="#878787"/><rect x="7" y="22" width="1.08" height="1.08" fill="#9b9b9b"/><rect x="8" y="22" width="1.08" height="1.08" fill="#9b9b9b"/><rect x="9" y="22" width="1.08" height="1.08" fill="#9b9b9b"/><rect x="10" y="22" width="1.08" height="1.08" fill="#9b9b9b"/><rect x="11" y="22" width="1.08" height="1.08" fill="#a0a0a0"/><rect x="12" y="22" width="1.08" height="1.08" fill="#989898"/><rect x="13" y="22" width="1.08" height="1.08" fill="#919191"/><rect x="14" y="22" width="1.08" height="1.08" fill="#a0a0a0"/><rect x="15" y="22" width="1.08" height="1.08" fill="#878787"/><rect x="16" y="22" width="1.08" height="1.08" fill="#878787"/><rect x="17" y="22" width="1.08" height="1.08" fill="#878787"/><rect x="18" y="22" width="1.08" height="1.08" fill="#7d7d7d"/><rect x="19" y="22" width="1.08" height="1.08" fill="#737373"/><rect x="20" y="22" width="1.08" height="1.08" fill="#6e6e6e"/><rect x="21" y="22" width="1.08" height="1.08" fill="#3c3c3c"/><rect x="22" y="22" width="1.08" height="1.08" fill="#505050"/><rect x="23" y="22" width="1.08" height="1.08" fill="#aaaaaa"/><rect x="24" y="22" width="1" height="1.08" fill="#b9b9b9"/><rect x="0" y="23" width="1.08" height="1.08" fill="#373737"/><rect x="1" y="23" width="1.08" height="1.08" fill="#2d2d2d"/><rect x="2" y="23" width="1.08" height="1.08" fill="#3c3c3c"/><rect x="3" y="23" width="1.08" height="1.08" fill="#1e1e1e"/><rect x="4" y="23" width="1.08" height="1.08" fill="#bebebe"/><rect x="5" y="23" width="1.08" height="1.08" fill="#ebebeb"/><rect x="6" y="23" width="1.08" height="1.08" fill="#dcdcdc"/><rect x="7" y="23" width="1.08" height="1.08" fill="#8c8c8c"/><rect x="8" y="23" width="1.08" height="1.08" fill="#919191"/><rect x="9" y="23" width="1.08" height="1.08" fill="#969696"/><rect x="10" y="23" width="1.08" height="1.08" fill="#969696"/><rect x="11" y="23" width="1.08" height="1.08" fill="#9b9b9b"/><rect x="12" y="23" width="1.08" height="1.08" fill="#a0a0a0"/><rect x="13" y="23" width="1.08" height="1.08" fill="#919191"/><rect x="14" y="23" width="1.08" height="1.08" fill="#878787"/><rect x="15" y="23" width="1.08" height="1.08" fill="#787878"/><rect x="16" y="23" width="1.08" height="1.08" fill="#737373"/><rect x="17" y="23" width="1.08" height="1.08" fill="#7d7d7d"/><rect x="18" y="23" width="1.08" height="1.08" fill="#828282"/><rect x="19" y="23" width="1.08" height="1.08" fill="#787878"/><rect x="20" y="23" width="1.08" height="1.08" fill="#6e6e6e"/><rect x="21" y="23" width="1.08" height="1.08" fill="#3c3c3c"/><rect x="22" y="23" width="1.08" height="1.08" fill="#505050"/><rect x="23" y="23" width="1.08" height="1.08" fill="#dcdcdc"/><rect x="24" y="23" width="1" height="1.08" fill="#e1e1e1"/><rect x="0" y="24" width="1.08" height="1" fill="#2d2d2d"/><rect x="1" y="24" width="1.08" height="1" fill="#3c3c3c"/><rect x="2" y="24" width="1.08" height="1" fill="#f5f5f5"/><rect x="3" y="24" width="1.08" height="1" fill="#e1e1e1"/><rect x="4" y="24" width="1.08" height="1" fill="#e6e6e6"/><rect x="5" y="24" width="1.08" height="1" fill="#d2d2d2"/><rect x="6" y="24" width="1.08" height="1" fill="#f5f5f5"/><rect x="7" y="24" width="1.08" height="1" fill="#919191"/><rect x="8" y="24" width="1.08" height="1" fill="#828282"/><rect x="9" y="24" width="1.08" height="1" fill="#8c8c8c"/><rect x="10" y="24" width="1.08" height="1" fill="#8c8c8c"/><rect x="11" y="24" width="1.08" height="1" fill="#919191"/><rect x="12" y="24" width="1.08" height="1" fill="#969696"/><rect x="13" y="24" width="1.08" height="1" fill="#8c8c8c"/><rect x="14" y="24" width="1.08" height="1" fill="#7d7d7d"/><rect x="15" y="24" width="1.08" height="1" fill="#828282"/><rect x="16" y="24" width="1.08" height="1" fill="#878787"/><rect x="17" y="24" width="1.08" height="1" fill="#878787"/><rect x="18" y="24" width="1.08" height="1" fill="#828282"/><rect x="19" y="24" width="1.08" height="1" fill="#828282"/><rect x="20" y="24" width="1.08" height="1" fill="#737373"/><rect x="21" y="24" width="1.08" height="1" fill="#323232"/><rect x="22" y="24" width="1.08" height="1" fill="#c8c8c8"/><rect x="23" y="24" width="1.08" height="1" fill="#d7d7d7"/><rect x="24" y="24" width="1" height="1" fill="#e6e6e6"/></svg>
<line x1="86.30" y1="993.45" x2="86.30" y2="997.75" stroke="#000" stroke-width="1.0"/>
<text transform="translate(80.78,1017.20) scale(0.9935,1)" font-size="19.91">0</text>
<line x1="152.60" y1="993.45" x2="152.60" y2="997.75" stroke="#000" stroke-width="1.0"/>
<text transform="translate(135.06,1017.20) scale(1.0524,1)" font-size="19.91">250</text>
<line x1="218.90" y1="993.45" x2="218.90" y2="997.75" stroke="#000" stroke-width="1.0"/>
<text transform="translate(201.67,1017.20) scale(1.0428,1)" font-size="19.91">500</text>
<line x1="285.20" y1="993.45" x2="285.20" y2="997.75" stroke="#000" stroke-width="1.0"/>
<text transform="translate(267.80,1017.20) scale(1.0481,1)" font-size="19.91">750</text>
<line x1="351.50" y1="993.45" x2="351.50" y2="997.75" stroke="#000" stroke-width="1.0"/>
<text transform="translate(328.19,1017.20) scale(1.0552,1)" font-size="19.91">1000</text>
<line x1="68.87" y1="725.30" x2="73.17" y2="725.30" stroke="#000" stroke-width="1.0"/>
<text transform="translate(52.83,732.60) scale(0.9935,1)" font-size="19.91">0</text>
<line x1="68.87" y1="804.33" x2="73.17" y2="804.33" stroke="#000" stroke-width="1.0"/>
<rect x="26.80" y="804.99" width="11.73" height="1.54" fill="#000"/>
<text transform="translate(41.02,811.63) scale(1.0336,1)" font-size="19.91">10</text>
<line x1="68.87" y1="883.36" x2="73.17" y2="883.36" stroke="#000" stroke-width="1.0"/>
<rect x="26.80" y="884.02" width="11.73" height="1.54" fill="#000"/>
<text transform="translate(40.82,890.66) scale(1.0428,1)" font-size="19.91">20</text>
<line x1="68.87" y1="962.39" x2="73.17" y2="962.39" stroke="#000" stroke-width="1.0"/>
<rect x="26.80" y="963.05" width="11.73" height="1.54" fill="#000"/>
<text transform="translate(41.14,969.69) scale(1.0279,1)" font-size="19.91">30</text>
<text transform="translate(195.53,1041.55) scale(1.0624,1)" font-size="19.91">Time</text>
<text transform="translate(15.60,893.84) rotate(-90) scale(1.0385,1)" font-size="19.84">Error (dB)</text>
<polyline points="86.30,800.80 86.60,804.30 87.60,806.60 88.60,786.80 89.40,756.10 90.10,776.00 90.70,793.80 91.70,777.40 92.50,770.00 93.60,759.90 94.70,771.40 95.50,783.70 97.40,773.70 99.00,766.80 100.10,788.30 101.30,768.40 102.80,768.40 104.30,775.30 106.30,786.80 108.60,771.40 110.50,773.70 111.60,782.20 113.90,782.90 116.20,786.80 117.80,789.80 118.54,798.43 120.29,791.42 121.46,792.59 122.63,798.43 123.80,807.77 124.96,817.12 126.72,812.45 128.47,811.28 130.22,815.95 139.71,837.67 139.42,838.87 140.42,840.35 140.57,842.55 140.53,842.72 141.32,844.44 141.05,845.77 141.38,846.23 141.42,848.17 142.44,849.14 142.75,849.34 142.48,851.37 143.35,853.45 143.18,853.63 143.50,855.33 144.19,856.14 144.38,858.34 144.69,859.71 144.81,860.30 144.87,861.67 145.53,862.53 145.37,864.44 145.72,864.18 145.86,865.80 146.40,867.33 147.16,868.18 146.97,867.57 147.15,869.08 147.95,869.84 147.88,870.63 148.50,871.88 148.88,873.74 149.09,874.15 149.51,876.01 149.57,877.72 149.99,879.02 149.88,880.26 150.09,882.45 150.71,882.72 150.85,884.95 151.22,884.90 151.75,886.75 152.18,886.45 152.06,888.19 152.64,888.93 152.29,888.53 152.64,888.95 153.61,890.17 153.87,890.42 154.10,891.13 153.91,892.24 154.76,891.45 154.78,892.56 154.77,892.44 155.01,892.46 155.40,893.38 156.02,893.03 156.20,893.91 156.50,894.34 156.80,894.88 157.10,895.65 157.40,895.87 157.70,896.72 158.00,896.92 158.30,897.88 158.60,898.12 158.90,899.12 159.50,898.85 160.10,898.74 160.70,899.15 161.30,898.59 161.90,898.59 162.50,899.08 163.15,900.12 163.80,901.27 164.45,901.86 165.10,903.24 165.68,903.49 166.27,903.29 166.85,903.20 167.43,903.05 168.02,903.50 168.60,903.19 169.25,904.40 169.90,904.69 170.55,906.16 171.20,906.39 171.78,906.77 172.37,907.08 172.95,906.91 173.53,907.11 174.12,907.69 174.70,907.38 175.35,908.18 176.00,908.82 176.65,909.37 177.30,910.48 177.87,910.49 178.44,910.36 179.01,910.66 179.59,911.21 180.16,911.28 180.73,911.71 181.30,912.01 181.88,912.07 182.47,912.42 183.05,912.36 183.63,912.96 184.22,912.76 184.80,912.92 185.45,913.50 186.10,913.86 186.75,913.93 187.40,914.31 188.02,915.15 188.64,915.00 189.27,915.58 189.89,915.77 190.51,916.73 191.13,916.95 191.76,917.43 192.38,917.76 193.00,917.57 193.58,918.37 194.17,918.23 194.75,918.36 195.33,918.71 195.92,918.88 196.50,919.69 197.08,919.50 197.67,919.81 198.25,919.98 198.83,920.77 199.42,921.01 200.00,921.20 200.58,921.80 201.16,922.46 201.74,923.38 202.32,924.40 202.90,925.26 203.52,924.70 204.13,924.49 204.75,924.61 205.37,924.64 205.98,924.07 206.60,923.85 207.18,924.59 207.76,925.74 208.34,926.07 208.92,926.12 209.50,926.81 210.14,927.36 210.78,928.05 211.41,927.81 212.05,927.95 212.69,928.54 213.32,928.85 213.96,929.36 214.60,929.34 215.21,929.84 215.82,930.51 216.43,930.06 217.03,930.76 217.64,931.15 218.25,930.93 218.86,931.54 219.47,931.53 220.07,931.87 220.68,932.40 221.29,932.83 221.90,932.73 222.51,932.69 223.12,933.46 223.72,933.48 224.33,933.31 224.94,934.02 225.55,934.29 226.16,934.06 226.77,934.43 227.38,935.28 227.98,935.34 228.59,935.72 229.20,935.56 229.81,935.82 230.42,935.71 231.02,935.91 231.63,936.94 232.24,937.31 232.85,936.94 233.46,937.40 234.07,937.76 234.68,938.16 235.28,937.95 235.89,937.99 236.50,938.50 237.11,939.55 237.72,939.08 238.32,939.33 238.93,940.24 239.54,940.23 240.15,940.82 240.76,940.90 241.37,941.16 241.98,941.25 242.58,940.98 243.19,941.61 243.80,942.20 244.41,941.36 245.02,942.72 245.62,941.98 246.23,942.09 246.84,943.08 247.45,943.45 248.06,943.51 248.67,944.04 249.28,944.38 249.88,944.59 250.49,944.94 251.10,944.21 251.71,944.25 252.32,945.55 252.92,945.83 253.53,945.38 254.14,945.39 254.75,945.80 255.36,946.36 255.97,946.40 256.57,947.30 257.18,947.02 257.79,947.54 258.40,947.97 259.01,947.90 259.62,948.64 260.22,948.77 260.83,948.29 261.44,948.34 262.05,948.67 262.66,948.94 263.27,950.30 263.88,949.81 264.48,950.49 265.09,950.27 265.70,950.99 266.31,951.41 266.92,950.55 267.52,951.22 268.13,951.67 268.74,952.15 269.35,952.39 269.96,951.97 270.57,952.27 271.18,952.03 271.78,952.18 272.39,952.79 273.00,953.40 273.61,954.22 274.22,953.77 274.82,954.46 275.43,954.50 276.04,954.20 276.65,955.26 277.26,955.31 277.87,955.03 278.48,955.48 279.08,955.50 279.69,955.35 280.30,955.67 280.91,956.78 281.52,955.84 282.12,956.33 282.73,956.26 283.34,956.51 283.95,957.64 284.56,958.25 285.17,957.47 285.78,958.38 286.38,957.97 286.99,958.53 287.60,957.99 288.21,957.89 288.82,959.43 289.43,959.13 290.03,959.27 290.64,959.73 291.25,960.18 291.86,959.83 292.47,960.62 293.07,959.88 293.68,961.28 294.29,961.16 294.90,961.33 295.47,961.21 296.03,961.84 296.60,961.75 297.17,962.60 297.73,962.03 298.30,962.72 298.87,962.93 299.43,964.21 300.00,963.99 300.59,963.66 301.17,964.96 301.76,964.30 302.35,964.94 302.93,964.60 303.52,964.88 304.11,965.34 304.69,965.36 305.28,965.30 305.87,966.32 306.45,965.97 307.04,966.30 307.63,966.92 308.21,965.24 308.80,966.10 309.42,966.33 310.04,967.09 310.66,966.40 311.29,967.56 311.91,967.32 312.53,968.08 313.15,967.06 313.77,968.41 314.39,968.31 315.01,968.36 315.64,969.39 316.26,968.91 316.88,969.47 317.50,968.57 318.09,968.38 318.67,969.04 319.26,969.02 319.85,969.17 320.43,969.19 321.02,970.52 321.61,969.66 322.19,970.34 322.78,970.86 323.37,970.43 323.95,971.68 324.54,971.80 325.13,971.88 325.71,972.16 326.30,970.53 326.92,972.79 327.54,971.41 328.16,971.36 328.79,972.96 329.41,971.75 330.03,973.37 330.65,973.79 331.27,973.73 331.89,974.17 332.51,974.23 333.14,974.09 333.76,974.39 334.38,974.90 335.00,973.65 335.59,973.51 336.17,973.46 336.76,973.81 337.35,974.78 337.93,975.79 338.52,975.88 339.11,975.37 339.69,976.18 340.28,975.33 340.87,974.65 341.45,976.14 342.04,976.22 342.63,977.15 343.21,977.42 343.80,976.36 344.39,975.47 344.98,977.11 345.58,977.89 346.17,977.14 346.76,978.07 347.35,977.44 347.95,977.93 348.54,977.49 349.13,977.96 349.72,977.83 350.32,979.79 350.91,979.53 351.50,979.00" fill="none" stroke="#ff2222" stroke-width="2.0" stroke-linejoin="round" stroke-linecap="butt"/>
<polyline points="86.30,786.98 86.56,798.26 86.83,791.93 87.09,802.57 87.36,792.15 87.62,800.86 87.89,796.15 88.16,801.55 88.42,791.97 88.69,795.80 88.95,782.12 89.22,782.41 89.48,760.94 89.75,776.48 90.01,776.34 90.28,787.65 90.54,779.77 90.81,781.75 91.07,778.62 91.34,786.33 91.60,777.76 91.87,783.04 92.13,778.82 92.40,778.78 92.66,772.11 92.93,784.47 93.19,775.07 93.46,783.72 93.72,773.78 93.99,783.59 94.25,776.26 94.52,779.69 94.78,775.27 95.05,782.98 95.31,776.83 95.58,780.58 95.84,776.45 96.11,784.38 96.37,774.92 96.64,783.29 96.90,773.34 97.17,783.38 97.43,775.10 97.70,779.04 97.96,775.22 98.23,786.79 98.49,777.16 98.76,784.47 99.02,772.76 99.29,784.49 99.55,774.32 99.82,781.83 100.08,776.61 100.35,778.71 100.61,775.89 100.88,778.25 101.14,774.70 101.41,781.94 101.67,771.76 101.94,783.60 102.20,774.53 102.47,783.68 102.73,779.06 103.00,782.03 103.26,774.17 103.53,783.38 103.79,780.03 104.06,783.72 104.32,777.86 104.59,787.55 104.85,780.96 105.12,784.94 105.38,782.34 105.65,784.34 105.91,781.61 106.18,783.28 106.44,779.49 106.71,784.10 106.97,779.87 107.24,782.79 107.50,776.35 107.77,780.08 108.03,774.62 108.30,776.88 108.56,773.80 108.83,778.75 109.09,775.47 109.36,778.86 109.62,776.39 109.89,777.85 110.15,774.14 110.42,779.03 110.68,775.93 110.95,780.39 111.21,779.39 111.48,783.96 111.74,781.89 112.01,784.00 112.27,783.07 112.54,785.81 112.80,782.58 113.07,784.12 113.33,782.10 113.60,786.09 113.86,782.55 114.13,786.23 114.39,784.42 114.66,786.23 114.92,785.67 115.19,786.49 115.45,785.36 115.72,788.03 115.98,786.07 116.25,789.37 116.51,787.41 116.78,789.03 117.04,788.30 117.31,790.18 117.57,789.70" fill="none" stroke="#ff2222" stroke-width="1.8" stroke-linejoin="round" stroke-linecap="butt"/>
<polyline points="124.96,817.12 126.72,812.45 128.47,811.28 130.22,815.95 139.71,837.67 139.42,838.87 140.42,840.35 140.57,842.55 140.53,842.72 141.32,844.44 141.05,845.77 141.38,846.23 141.42,848.17 142.44,849.14 142.75,849.34 142.48,851.37 143.35,853.45 143.18,853.63 143.50,855.33 144.19,856.14 144.38,858.34 144.69,859.71 144.81,860.30 144.87,861.67 145.53,862.53 145.37,864.44 145.72,864.18 145.86,865.80 146.40,867.33 147.16,868.18 146.97,867.57 147.15,869.08 147.95,869.84 147.88,870.63 148.50,871.88 148.88,873.74 149.09,874.15 149.51,876.01 149.57,877.72 149.99,879.02 149.88,880.26 150.09,882.45 150.71,882.72 150.85,884.95 151.22,884.90 151.75,886.75 152.18,886.45 152.06,888.19 152.64,888.93 152.29,888.53 152.64,888.95 153.61,890.17 153.87,890.42 153.91,892.24" fill="none" stroke="#ff2222" stroke-width="3.4" stroke-linejoin="round" stroke-linecap="butt"/>
<polyline points="86.30,786.00 86.50,722.00 87.20,721.50 88.00,717.50 88.60,716.50 89.30,718.50 90.50,719.20 91.30,773.70 92.50,745.00 93.60,729.20 94.70,748.40 96.30,749.20 97.40,763.00 99.40,729.20 101.30,732.30 102.40,732.30 103.20,753.00 104.70,753.80 106.30,769.10 108.60,749.20 110.50,750.70 110.90,763.70 113.20,759.10 115.50,763.00 117.00,769.90 119.30,769.10 120.10,779.10 121.60,769.90 123.50,789.80 124.96,798.43 126.13,804.27 127.30,796.09 128.47,791.42 129.64,793.76 131.39,800.77 133.72,807.77 136.06,812.45 138.39,814.78 139.36,817.44 139.91,818.48 140.11,820.11 140.02,821.49 140.29,822.53 140.61,823.15 141.18,825.48 141.23,825.68 141.92,828.00 142.17,828.27 142.78,828.87 142.98,830.43 142.70,831.33 143.12,833.62 143.30,834.41 143.96,835.25 144.18,835.92 144.08,837.32 144.86,838.84 144.86,840.27 145.26,840.98 145.83,842.79 145.68,843.76 146.19,845.41 146.64,845.64 147.13,846.54 146.97,848.73 147.05,849.47 147.25,850.93 148.12,851.95 148.50,852.70 148.71,854.60 148.96,855.83 149.46,857.34 149.45,857.63 149.40,858.42 150.15,859.62 150.57,859.22 150.51,860.57 150.53,861.11 150.96,861.43 151.19,863.34 151.56,863.38 152.08,865.25 152.15,865.45 152.84,867.01 153.34,867.27 153.20,866.84 153.55,867.88 154.32,867.00 153.99,867.42 154.32,868.11 154.89,868.04 154.71,868.58 155.30,869.11 156.07,869.83 156.02,870.14 156.33,870.28 156.64,871.32 156.95,871.86 157.26,872.11 157.57,872.80 157.88,872.94 158.19,873.53 158.50,873.99 159.08,873.97 159.67,874.04 160.25,874.31 160.83,873.72 161.42,873.78 162.00,873.54 162.65,875.25 163.30,875.99 163.95,876.82 164.60,878.04 165.17,878.09 165.74,878.77 166.31,878.34 166.89,878.38 167.46,879.18 168.03,879.11 168.60,879.01 169.25,880.17 169.90,881.05 170.55,881.53 171.20,882.94 171.78,882.88 172.37,882.90 172.95,882.81 173.53,882.54 174.12,882.78 174.70,883.13 175.35,883.66 176.00,884.74 176.65,885.01 177.30,885.61 177.92,885.91 178.54,886.72 179.16,886.75 179.78,887.29 180.40,887.51 181.05,888.05 181.70,888.28 182.35,888.95 183.00,889.41 183.68,889.00 184.35,889.26 185.02,888.59 185.70,888.46 186.28,889.71 186.87,890.53 187.45,891.21 188.03,891.93 188.62,892.36 189.20,893.60 189.78,893.80 190.37,893.76 190.95,893.30 191.53,893.36 192.12,893.56 192.70,893.44 193.28,894.37 193.87,894.64 194.45,895.53 195.03,896.13 195.62,896.44 196.20,896.66 196.78,896.76 197.37,897.18 197.95,896.93 198.53,896.97 199.12,896.93 199.70,897.10 200.34,897.88 200.98,898.62 201.62,899.73 202.26,900.85 202.90,901.56 203.52,901.47 204.13,901.48 204.75,901.23 205.37,901.40 205.98,901.22 206.60,900.61 207.18,901.75 207.76,901.71 208.34,902.55 208.92,902.99 209.50,903.94 210.14,904.45 210.78,904.63 211.41,904.48 212.05,905.49 212.69,905.81 213.32,905.74 213.96,906.36 214.60,906.34 215.21,906.52 215.82,906.77 216.43,906.77 217.03,907.41 217.64,907.58 218.25,908.01 218.86,908.72 219.47,908.97 220.07,908.58 220.68,909.33 221.29,908.98 221.90,910.00 222.51,909.67 223.12,910.61 223.72,910.70 224.33,910.36 224.94,911.03 225.55,911.84 226.16,912.01 226.77,912.36 227.38,912.67 227.98,912.43 228.59,913.35 229.20,912.81 229.81,913.17 230.42,913.34 231.02,913.63 231.63,913.99 232.24,914.22 232.85,914.35 233.46,914.42 234.07,914.66 234.68,915.51 235.28,915.67 235.89,915.50 236.50,916.12 237.11,916.86 237.72,916.76 238.32,917.58 238.93,917.69 239.54,917.73 240.15,917.67 240.76,917.68 241.37,918.69 241.98,918.27 242.58,919.36 243.19,919.43 243.80,919.18 244.41,919.69 245.02,919.92 245.62,920.80 246.23,920.53 246.84,921.30 247.45,920.77 248.06,921.04 248.67,921.44 249.28,921.68 249.88,921.61 250.49,922.03 251.10,921.77 251.71,922.28 252.32,922.91 252.92,923.31 253.53,923.84 254.14,923.33 254.75,923.32 255.36,924.23 255.97,924.73 256.57,924.68 257.18,925.17 257.79,925.00 258.40,925.67 259.01,925.88 259.62,926.19 260.22,926.13 260.83,925.40 261.44,926.08 262.05,926.99 262.66,926.90 263.27,927.20 263.88,926.42 264.48,927.73 265.09,927.64 265.70,927.15 266.31,927.68 266.92,927.95 267.52,928.10 268.13,929.52 268.74,928.87 269.35,929.58 269.96,929.73 270.57,929.15 271.18,929.67 271.78,929.99 272.39,929.79 273.00,930.44 273.61,931.32 274.22,930.90 274.82,931.39 275.43,931.05 276.04,931.40 276.65,932.81 277.26,932.25 277.87,933.30 278.48,932.37 279.08,933.70 279.69,933.32 280.30,933.44 280.91,933.02 281.52,933.88 282.12,934.44 282.73,935.01 283.34,933.76 283.95,934.79 284.56,934.69 285.17,935.00 285.78,936.09 286.38,936.17 286.99,935.30 287.60,936.57 288.21,936.05 288.82,936.44 289.43,937.01 290.03,936.94 290.64,936.48 291.25,938.10 291.86,938.50 292.47,937.51 293.07,937.59 293.68,939.20 294.29,939.15 294.90,939.56 295.47,939.11 296.03,938.41 296.60,939.38 297.17,939.96 297.73,939.07 298.30,939.43 298.87,940.06 299.43,941.03 300.00,940.34 300.59,940.57 301.17,940.90 301.76,940.61 302.35,942.20 302.93,941.02 303.52,942.68 304.11,941.17 304.69,941.23 305.28,941.38 305.87,941.86 306.45,943.25 307.04,942.47 307.63,942.84 308.21,942.62 308.80,942.65 309.42,942.57 310.04,943.80 310.66,943.19 311.29,943.47 311.91,944.10 312.53,945.14 313.15,943.67 313.77,945.30 314.39,945.04 315.01,944.27 315.64,946.43 316.26,946.50 316.88,945.45 317.50,945.47 318.09,946.76 318.67,947.02 319.26,947.28 319.85,947.00 320.43,947.67 321.02,948.14 321.61,946.99 322.19,947.05 322.78,948.19 323.37,947.00 323.95,948.29 324.54,947.67 325.13,947.38 325.71,948.54 326.30,949.12 326.92,948.94 327.54,948.62 328.16,949.84 328.79,948.50 329.41,950.16 330.03,949.41 330.65,951.11 331.27,949.28 331.89,950.35 332.51,950.04 333.14,951.47 333.76,950.43 334.38,950.87 335.00,950.88 335.59,952.25 336.17,952.83 336.76,951.19 337.35,951.87 337.93,953.26 338.52,952.09 339.11,953.60 339.69,951.56 340.28,952.51 340.87,953.82 341.45,954.23 342.04,952.77 342.63,954.37 343.21,952.33 343.80,953.31 344.39,953.40 344.98,952.80 345.58,953.86 346.17,953.51 346.76,953.92 347.35,955.64 347.95,954.89 348.54,955.20 349.13,956.51 349.72,955.34 350.32,954.71 350.91,956.88 351.50,956.30" fill="none" stroke="#1f7fb8" stroke-width="2.0" stroke-linejoin="round" stroke-linecap="butt"/>
<polyline points="86.30,740.26 86.56,759.70 86.83,739.35 87.09,739.76 87.36,725.24 87.62,736.34 87.89,721.06 88.16,736.30 88.42,728.32 88.69,746.51 88.95,723.54 89.22,745.23 89.48,725.44 89.75,761.05 90.01,740.40 90.28,748.44 90.54,747.71 90.81,768.21 91.07,742.26 91.34,761.35 91.60,733.59 91.87,747.67 92.13,739.67 92.40,746.16 92.66,735.29 92.93,748.35 93.19,733.31 93.46,751.78 93.72,738.67 93.99,757.51 94.25,741.53 94.52,756.25 94.78,744.99 95.05,757.92 95.31,748.32 95.58,756.43 95.84,755.66 96.11,762.54 96.37,755.15 96.64,760.88 96.90,750.74 97.17,757.30 97.43,749.55 97.70,754.95 97.96,750.61 98.23,756.38 98.49,748.50 98.76,754.62 99.02,747.38 99.29,761.08 99.55,733.34 99.82,751.84 100.08,747.55 100.35,756.18 100.61,749.05 100.88,755.50 101.14,735.96 101.41,759.37 101.67,746.94 101.94,754.44 102.20,738.68 102.47,756.69 102.73,753.19 103.00,762.48 103.26,747.91 103.53,758.90 103.79,752.20 104.06,759.45 104.32,758.50 104.59,761.16 104.85,758.23 105.12,763.74 105.38,757.23 105.65,766.39 105.91,757.95 106.18,766.41 106.44,756.30 106.71,764.26 106.97,754.90 107.24,762.25 107.50,759.26 107.77,765.52 108.03,753.26 108.30,764.67 108.56,752.22 108.83,759.91 109.09,756.12 109.36,761.10 109.62,752.00 109.89,763.07 110.15,753.26 110.42,759.07 110.68,756.69 110.95,759.57 111.21,755.15 111.48,758.88 111.74,755.77 112.01,761.00 112.27,757.68 112.54,761.14 112.80,759.27 113.07,761.14 113.33,760.91 113.60,761.96 113.86,761.13 114.13,763.27 114.39,761.28 114.66,763.04 114.92,763.05 115.19,764.83 115.45,762.74 115.72,765.08 115.98,765.38 116.25,768.05 116.51,766.63 116.78,769.87 117.04,769.37 117.31,770.42 117.57,768.94 117.84,770.02 118.10,768.46 118.37,771.71 118.63,768.86 118.90,771.63 119.16,768.99 119.43,772.43 119.69,770.21 119.96,772.31 120.22,769.76 120.49,774.54 120.75,769.94 121.02,774.06 121.28,772.16 121.55,777.36 121.81,773.96 122.08,778.02 122.34,778.12 122.61,780.73 122.87,777.57 123.14,784.00 123.40,782.22" fill="none" stroke="#1f7fb8" stroke-width="1.8" stroke-linejoin="round" stroke-linecap="butt"/>
<polyline points="124.96,798.43 126.13,804.27 127.30,796.09 128.47,791.42 129.64,793.76 131.39,800.77 133.72,807.77 136.06,812.45 138.39,814.78 139.36,817.44 139.91,818.48 140.11,820.11 140.02,821.49 140.29,822.53 140.61,823.15 141.18,825.48 141.23,825.68 141.92,828.00 142.17,828.27 142.78,828.87 142.98,830.43 142.70,831.33 143.12,833.62 143.30,834.41 143.96,835.25 144.18,835.92 144.08,837.32 144.86,838.84 144.86,840.27 145.26,840.98 145.83,842.79 145.68,843.76 146.19,845.41 146.64,845.64 147.13,846.54 146.97,848.73 147.05,849.47 147.25,850.93 148.12,851.95 148.50,852.70 148.71,854.60 148.96,855.83 149.46,857.34 149.45,857.63 149.40,858.42 150.15,859.62 150.57,859.22 150.51,860.57 150.53,861.11 150.96,861.43 151.19,863.34 151.56,863.38" fill="none" stroke="#1f7fb8" stroke-width="3.4" stroke-linejoin="round" stroke-linecap="butt"/>
<rect x="249.10" y="712.90" width="106.30" height="60.40" rx="3.5" fill="#fff" fill-opacity="0.8" stroke="#d6d6d6" stroke-width="1.2"/>
<line x1="255.60" y1="728.30" x2="295.00" y2="728.30" stroke="#ff2222" stroke-width="2.2"/>
<line x1="255.60" y1="755.80" x2="295.00" y2="755.80" stroke="#1f7fb8" stroke-width="2.2"/>
<text transform="translate(308.85,735.30) scale(0.8980,1)" font-size="19.91">ROE</text>
<text transform="translate(308.89,762.80) scale(0.8750,1)" font-size="19.91">RSE</text>
<rect x="73.17" y="703.65" width="291.53" height="289.80" fill="none" stroke="#000" stroke-width="0.95"/>
<text transform="translate(8.93,720.62) scale(0.9649,1)" font-size="21.13">(c)</text>
<svg x="394" y="703.4" width="290" height="290" viewBox="0 0 25 25" preserveAspectRatio="none"><rect x="0" y="0" width="1.08" height="1.08" fill="#000000"/><rect x="1" y="0" width="1.08" height="1.08" fill="#232323"/><rect x="2" y="0" width="1.08" height="1.08" fill="#232323"/><rect x="3" y="0" width="1.08" height="1.08" fill="#8c8c8c"/><rect x="4" y="0" width="1.08" height="1.08" fill="#8c8c8c"/><rect x="5" y="0" width="1.08" height="1.08" fill="#a5a5a5"/><rect x="6" y="0" width="1.08" height="1.08" fill="#a5a5a5"/><rect x="7" y="0" width="1.08" height="1.08" fill="#a0a0a0"/><rect x="8" y="0" width="1.08" height="1.08" fill="#a0a0a0"/><rect x="9" y="0" width="1.08" height="1.08" fill="#a0a0a0"/><rect x="10" y="0" width="1.08" height="1.08" fill="#9b9b9b"/><rect x="11" y="0" width="1.08" height="1.08" fill="#9b9b9b"/><rect x="12" y="0" width="1.08" height="1.08" fill="#969696"/><rect x="13" y="0" width="1.08" height="1.08" fill="#9b9b9b"/><rect x="14" y="0" width="1.08" height="1.08" fill="#919191"/><rect x="15" y="0" width="1.08" height="1.08" fill="#8c8c8c"/><rect x="16" y="0" width="1.08" height="1.08" fill="#878787"/><rect x="17" y="0" width="1.08" height="1.08" fill="#7d7d7d"/><rect x="18" y="0" width="1.08" height="1.08" fill="#464646"/><rect x="19" y="0" width="1.08" height="1.08" fill="#232323"/><rect x="20" y="0" width="1.08" height="1.08" fill="#191919"/><rect x="21" y="0" width="1.08" height="1.08" fill="#232323"/><rect x="22" y="0" width="1.08" height="1.08" fill="#000000"/><rect x="23" y="0" width="1.08" height="1.08" fill="#141414"/><rect x="24" y="0" width="1" height="1.08" fill="#1e1e1e"/><rect x="0" y="1" width="1.08" height="1.08" fill="#000000"/><rect x="1" y="1" width="1.08" height="1.08" fill="#141414"/><rect x="2" y="1" width="1.08" height="1.08" fill="#4b4b4b"/><rect x="3" y="1" width="1.08" height="1.08" fill="#969696"/><rect x="4" y="1" width="1.08" height="1.08" fill="#969696"/><rect x="5" y="1" width="1.08" height="1.08" fill="#a0a0a0"/><rect x="6" y="1" width="1.08" height="1.08" fill="#a0a0a0"/><rect x="7" y="1" width="1.08" height="1.08" fill="#a5a5a5"/><rect x="8" y="1" width="1.08" height="1.08" fill="#a0a0a0"/><rect x="9" y="1" width="1.08" height="1.08" fill="#a0a0a0"/><rect x="10" y="1" width="1.08" height="1.08" fill="#a5a5a5"/><rect x="11" y="1" width="1.08" height="1.08" fill="#a0a0a0"/><rect x="12" y="1" width="1.08" height="1.08" fill="#a0a0a0"/><rect x="13" y="1" width="1.08" height="1.08" fill="#a0a0a0"/><rect x="14" y="1" width="1.08" height="1.08" fill="#9b9b9b"/><rect x="15" y="1" width="1.08" height="1.08" fill="#969696"/><rect x="16" y="1" width="1.08" height="1.08" fill="#919191"/><rect x="17" y="1" width="1.08" height="1.08" fill="#878787"/><rect x="18" y="1" width="1.08" height="1.08" fill="#696969"/><rect x="19" y="1" width="1.08" height="1.08" fill="#1e1e1e"/><rect x="20" y="1" width="1.08" height="1.08" fill="#191919"/><rect x="21" y="1" width="1.08" height="1.08" fill="#282828"/><rect x="22" y="1" width="1.08" height="1.08" fill="#232323"/><rect x="23" y="1" width="1.08" height="1.08" fill="#141414"/><rect x="24" y="1" width="1" height="1.08" fill="#323232"/><rect x="0" y="2" width="1.08" height="1.08" fill="#000000"/><rect x="1" y="2" width="1.08" height="1.08" fill="#141414"/><rect x="2" y="2" width="1.08" height="1.08" fill="#5f5f5f"/><rect x="3" y="2" width="1.08" height="1.08" fill="#8c8c8c"/><rect x="4" y="2" width="1.08" height="1.08" fill="#9b9b9b"/><rect x="5" y="2" width="1.08" height="1.08" fill="#a0a0a0"/><rect x="6" y="2" width="1.08" height="1.08" fill="#a0a0a0"/><rect x="7" y="2" width="1.08" height="1.08" fill="#a5a5a5"/><rect x="8" y="2" width="1.08" height="1.08" fill="#aaaaaa"/><rect x="9" y="2" width="1.08" height="1.08" fill="#afafaf"/><rect x="10" y="2" width="1.08" height="1.08" fill="#afafaf"/><rect x="11" y="2" width="1.08" height="1.08" fill="#aaaaaa"/><rect x="12" y="2" width="1.08" height="1.08" fill="#a5a5a5"/><rect x="13" y="2" width="1.08" height="1.08" fill="#a5a5a5"/><rect x="14" y="2" width="1.08" height="1.08" fill="#a0a0a0"/><rect x="15" y="2" width="1.08" height="1.08" fill="#9b9b9b"/><rect x="16" y="2" width="1.08" height="1.08" fill="#9b9b9b"/><rect x="17" y="2" width="1.08" height="1.08" fill="#878787"/><rect x="18" y="2" width="1.08" height="1.08" fill="#787878"/><rect x="19" y="2" width="1.08" height="1.08" fill="#282828"/><rect x="20" y="2" width="1.08" height="1.08" fill="#0a0a0a"/><rect x="21" y="2" width="1.08" height="1.08" fill="#050505"/><rect x="22" y="2" width="1.08" height="1.08" fill="#1e1e1e"/><rect x="23" y="2" width="1.08" height="1.08" fill="#0a0a0a"/><rect x="24" y="2" width="1" height="1.08" fill="#0a0a0a"/><rect x="0" y="3" width="1.08" height="1.08" fill="#050505"/><rect x="1" y="3" width="1.08" height="1.08" fill="#141414"/><rect x="2" y="3" width="1.08" height="1.08" fill="#5f5f5f"/><rect x="3" y="3" width="1.08" height="1.08" fill="#8c8c8c"/><rect x="4" y="3" width="1.08" height="1.08" fill="#969696"/><rect x="5" y="3" width="1.08" height="1.08" fill="#9b9b9b"/><rect x="6" y="3" width="1.08" height="1.08" fill="#a0a0a0"/><rect x="7" y="3" width="1.08" height="1.08" fill="#a0a0a0"/><rect x="8" y="3" width="1.08" height="1.08" fill="#a5a5a5"/><rect x="9" y="3" width="1.08" height="1.08" fill="#aaaaaa"/><rect x="10" y="3" width="1.08" height="1.08" fill="#aaaaaa"/><rect x="11" y="3" width="1.08" height="1.08" fill="#a5a5a5"/><rect x="12" y="3" width="1.08" height="1.08" fill="#a5a5a5"/><rect x="13" y="3" width="1.08" height="1.08" fill="#a5a5a5"/><rect x="14" y="3" width="1.08" height="1.08" fill="#9b9b9b"/><rect x="15" y="3" width="1.08" height="1.08" fill="#9b9b9b"/><rect x="16" y="3" width="1.08" height="1.08" fill="#9b9b9b"/><rect x="17" y="3" width="1.08" height="1.08" fill="#878787"/><rect x="18" y="3" width="1.08" height="1.08" fill="#787878"/><rect x="19" y="3" width="1.08" height="1.08" fill="#464646"/><rect x="20" y="3" width="1.08" height="1.08" fill="#191919"/><rect x="21" y="3" width="1.08" height="1.08" fill="#050505"/><rect x="22" y="3" width="1.08" height="1.08" fill="#050505"/><rect x="23" y="3" width="1.08" height="1.08" fill="#0a0a0a"/><rect x="24" y="3" width="1" height="1.08" fill="#141414"/><rect x="0" y="4" width="1.08" height="1.08" fill="#0a0a0a"/><rect x="1" y="4" width="1.08" height="1.08" fill="#050505"/><rect x="2" y="4" width="1.08" height="1.08" fill="#5f5f5f"/><rect x="3" y="4" width="1.08" height="1.08" fill="#878787"/><rect x="4" y="4" width="1.08" height="1.08" fill="#919191"/><rect x="5" y="4" width="1.08" height="1.08" fill="#9b9b9b"/><rect x="6" y="4" width="1.08" height="1.08" fill="#a5a5a5"/><rect x="7" y="4" width="1.08" height="1.08" fill="#a5a5a5"/><rect x="8" y="4" width="1.08" height="1.08" fill="#a5a5a5"/><rect x="9" y="4" width="1.08" height="1.08" fill="#afafaf"/><rect x="10" y="4" width="1.08" height="1.08" fill="#aaaaaa"/><rect x="11" y="4" width="1.08" height="1.08" fill="#aaaaaa"/><rect x="12" y="4" width="1.08" height="1.08" fill="#a2a2a2"/><rect x="13" y="4" width="1.08" height="1.08" fill="#a5a5a5"/><rect x="14" y="4" width="1.08" height="1.08" fill="#969696"/><rect x="15" y="4" width="1.08" height="1.08" fill="#969696"/><rect x="16" y="4" width="1.08" height="1.08" fill="#9b9b9b"/><rect x="17" y="4" width="1.08" height="1.08" fill="#8c8c8c"/><rect x="18" y="4" width="1.08" height="1.08" fill="#787878"/><rect x="19" y="4" width="1.08" height="1.08" fill="#5f5f5f"/><rect x="20" y="4" width="1.08" height="1.08" fill="#0a0a0a"/><rect x="21" y="4" width="1.08" height="1.08" fill="#191919"/><rect x="22" y="4" width="1.08" height="1.08" fill="#050505"/><rect x="23" y="4" width="1.08" height="1.08" fill="#0a0a0a"/><rect x="24" y="4" width="1" height="1.08" fill="#0f0f0f"/><rect x="0" y="5" width="1.08" height="1.08" fill="#0a0a0a"/><rect x="1" y="5" width="1.08" height="1.08" fill="#050505"/><rect x="2" y="5" width="1.08" height="1.08" fill="#646464"/><rect x="3" y="5" width="1.08" height="1.08" fill="#878787"/><rect x="4" y="5" width="1.08" height="1.08" fill="#919191"/><rect x="5" y="5" width="1.08" height="1.08" fill="#9b9b9b"/><rect x="6" y="5" width="1.08" height="1.08" fill="#aaaaaa"/><rect x="7" y="5" width="1.08" height="1.08" fill="#aaaaaa"/><rect x="8" y="5" width="1.08" height="1.08" fill="#b4b4b4"/><rect x="9" y="5" width="1.08" height="1.08" fill="#d2d2d2"/><rect x="10" y="5" width="1.08" height="1.08" fill="#afafaf"/><rect x="11" y="5" width="1.08" height="1.08" fill="#afafaf"/><rect x="12" y="5" width="1.08" height="1.08" fill="#a8a8a8"/><rect x="13" y="5" width="1.08" height="1.08" fill="#7d7d7d"/><rect x="14" y="5" width="1.08" height="1.08" fill="#555555"/><rect x="15" y="5" width="1.08" height="1.08" fill="#464646"/><rect x="16" y="5" width="1.08" height="1.08" fill="#323232"/><rect x="17" y="5" width="1.08" height="1.08" fill="#3c3c3c"/><rect x="18" y="5" width="1.08" height="1.08" fill="#646464"/><rect x="19" y="5" width="1.08" height="1.08" fill="#646464"/><rect x="20" y="5" width="1.08" height="1.08" fill="#555555"/><rect x="21" y="5" width="1.08" height="1.08" fill="#0f0f0f"/><rect x="22" y="5" width="1.08" height="1.08" fill="#050505"/><rect x="23" y="5" width="1.08" height="1.08" fill="#050505"/><rect x="24" y="5" width="1" height="1.08" fill="#282828"/><rect x="0" y="6" width="1.08" height="1.08" fill="#000000"/><rect x="1" y="6" width="1.08" height="1.08" fill="#000000"/><rect x="2" y="6" width="1.08" height="1.08" fill="#696969"/><rect x="3" y="6" width="1.08" height="1.08" fill="#464646"/><rect x="4" y="6" width="1.08" height="1.08" fill="#191919"/><rect x="5" y="6" width="1.08" height="1.08" fill="#1e1e1e"/><rect x="6" y="6" width="1.08" height="1.08" fill="#1e1e1e"/><rect x="7" y="6" width="1.08" height="1.08" fill="#646464"/><rect x="8" y="6" width="1.08" height="1.08" fill="#a0a0a0"/><rect x="9" y="6" width="1.08" height="1.08" fill="#a0a0a0"/><rect x="10" y="6" width="1.08" height="1.08" fill="#9b9b9b"/><rect x="11" y="6" width="1.08" height="1.08" fill="#919191"/><rect x="12" y="6" width="1.08" height="1.08" fill="#707070"/><rect x="13" y="6" width="1.08" height="1.08" fill="#6e6e6e"/><rect x="14" y="6" width="1.08" height="1.08" fill="#787878"/><rect x="15" y="6" width="1.08" height="1.08" fill="#a0a0a0"/><rect x="16" y="6" width="1.08" height="1.08" fill="#7d7d7d"/><rect x="17" y="6" width="1.08" height="1.08" fill="#555555"/><rect x="18" y="6" width="1.08" height="1.08" fill="#5f5f5f"/><rect x="19" y="6" width="1.08" height="1.08" fill="#6e6e6e"/><rect x="20" y="6" width="1.08" height="1.08" fill="#6e6e6e"/><rect x="21" y="6" width="1.08" height="1.08" fill="#000000"/><rect x="22" y="6" width="1.08" height="1.08" fill="#282828"/><rect x="23" y="6" width="1.08" height="1.08" fill="#191919"/><rect x="24" y="6" width="1" height="1.08" fill="#505050"/><rect x="0" y="7" width="1.08" height="1.08" fill="#646464"/><rect x="1" y="7" width="1.08" height="1.08" fill="#000000"/><rect x="2" y="7" width="1.08" height="1.08" fill="#646464"/><rect x="3" y="7" width="1.08" height="1.08" fill="#555555"/><rect x="4" y="7" width="1.08" height="1.08" fill="#878787"/><rect x="5" y="7" width="1.08" height="1.08" fill="#969696"/><rect x="6" y="7" width="1.08" height="1.08" fill="#787878"/><rect x="7" y="7" width="1.08" height="1.08" fill="#646464"/><rect x="8" y="7" width="1.08" height="1.08" fill="#6e6e6e"/><rect x="9" y="7" width="1.08" height="1.08" fill="#a0a0a0"/><rect x="10" y="7" width="1.08" height="1.08" fill="#a5a5a5"/><rect x="11" y="7" width="1.08" height="1.08" fill="#8c8c8c"/><rect x="12" y="7" width="1.08" height="1.08" fill="#6e6e6e"/><rect x="13" y="7" width="1.08" height="1.08" fill="#696969"/><rect x="14" y="7" width="1.08" height="1.08" fill="#737373"/><rect x="15" y="7" width="1.08" height="1.08" fill="#a5a5a5"/><rect x="16" y="7" width="1.08" height="1.08" fill="#646464"/><rect x="17" y="7" width="1.08" height="1.08" fill="#828282"/><rect x="18" y="7" width="1.08" height="1.08" fill="#6e6e6e"/><rect x="19" y="7" width="1.08" height="1.08" fill="#737373"/><rect x="20" y="7" width="1.08" height="1.08" fill="#232323"/><rect x="21" y="7" width="1.08" height="1.08" fill="#141414"/><rect x="22" y="7" width="1.08" height="1.08" fill="#0a0a0a"/><rect x="23" y="7" width="1.08" height="1.08" fill="#646464"/><rect x="24" y="7" width="1" height="1.08" fill="#a0a0a0"/><rect x="0" y="8" width="1.08" height="1.08" fill="#969696"/><rect x="1" y="8" width="1.08" height="1.08" fill="#050505"/><rect x="2" y="8" width="1.08" height="1.08" fill="#737373"/><rect x="3" y="8" width="1.08" height="1.08" fill="#7d7d7d"/><rect x="4" y="8" width="1.08" height="1.08" fill="#5f5f5f"/><rect x="5" y="8" width="1.08" height="1.08" fill="#878787"/><rect x="6" y="8" width="1.08" height="1.08" fill="#737373"/><rect x="7" y="8" width="1.08" height="1.08" fill="#696969"/><rect x="8" y="8" width="1.08" height="1.08" fill="#4b4b4b"/><rect x="9" y="8" width="1.08" height="1.08" fill="#646464"/><rect x="10" y="8" width="1.08" height="1.08" fill="#c8c8c8"/><rect x="11" y="8" width="1.08" height="1.08" fill="#828282"/><rect x="12" y="8" width="1.08" height="1.08" fill="#6c6c6c"/><rect x="13" y="8" width="1.08" height="1.08" fill="#505050"/><rect x="14" y="8" width="1.08" height="1.08" fill="#373737"/><rect x="15" y="8" width="1.08" height="1.08" fill="#414141"/><rect x="16" y="8" width="1.08" height="1.08" fill="#2d2d2d"/><rect x="17" y="8" width="1.08" height="1.08" fill="#6e6e6e"/><rect x="18" y="8" width="1.08" height="1.08" fill="#323232"/><rect x="19" y="8" width="1.08" height="1.08" fill="#464646"/><rect x="20" y="8" width="1.08" height="1.08" fill="#7d7d7d"/><rect x="21" y="8" width="1.08" height="1.08" fill="#4b4b4b"/><rect x="22" y="8" width="1.08" height="1.08" fill="#191919"/><rect x="23" y="8" width="1.08" height="1.08" fill="#8c8c8c"/><rect x="24" y="8" width="1" height="1.08" fill="#aaaaaa"/><rect x="0" y="9" width="1.08" height="1.08" fill="#cdcdcd"/><rect x="1" y="9" width="1.08" height="1.08" fill="#000000"/><rect x="2" y="9" width="1.08" height="1.08" fill="#6e6e6e"/><rect x="3" y="9" width="1.08" height="1.08" fill="#787878"/><rect x="4" y="9" width="1.08" height="1.08" fill="#2d2d2d"/><rect x="5" y="9" width="1.08" height="1.08" fill="#555555"/><rect x="6" y="9" width="1.08" height="1.08" fill="#6e6e6e"/><rect x="7" y="9" width="1.08" height="1.08" fill="#6e6e6e"/><rect x="8" y="9" width="1.08" height="1.08" fill="#919191"/><rect x="9" y="9" width="1.08" height="1.08" fill="#232323"/><rect x="10" y="9" width="1.08" height="1.08" fill="#a0a0a0"/><rect x="11" y="9" width="1.08" height="1.08" fill="#828282"/><rect x="12" y="9" width="1.08" height="1.08" fill="#5f5f5f"/><rect x="13" y="9" width="1.08" height="1.08" fill="#787878"/><rect x="14" y="9" width="1.08" height="1.08" fill="#828282"/><rect x="15" y="9" width="1.08" height="1.08" fill="#9b9b9b"/><rect x="16" y="9" width="1.08" height="1.08" fill="#7d7d7d"/><rect x="17" y="9" width="1.08" height="1.08" fill="#7d7d7d"/><rect x="18" y="9" width="1.08" height="1.08" fill="#8c8c8c"/><rect x="19" y="9" width="1.08" height="1.08" fill="#828282"/><rect x="20" y="9" width="1.08" height="1.08" fill="#737373"/><rect x="21" y="9" width="1.08" height="1.08" fill="#464646"/><rect x="22" y="9" width="1.08" height="1.08" fill="#a0a0a0"/><rect x="23" y="9" width="1.08" height="1.08" fill="#919191"/><rect x="24" y="9" width="1" height="1.08" fill="#828282"/><rect x="0" y="10" width="1.08" height="1.08" fill="#323232"/><rect x="1" y="10" width="1.08" height="1.08" fill="#282828"/><rect x="2" y="10" width="1.08" height="1.08" fill="#969696"/><rect x="3" y="10" width="1.08" height="1.08" fill="#828282"/><rect x="4" y="10" width="1.08" height="1.08" fill="#787878"/><rect x="5" y="10" width="1.08" height="1.08" fill="#8c8c8c"/><rect x="6" y="10" width="1.08" height="1.08" fill="#828282"/><rect x="7" y="10" width="1.08" height="1.08" fill="#8c8c8c"/><rect x="8" y="10" width="1.08" height="1.08" fill="#969696"/><rect x="9" y="10" width="1.08" height="1.08" fill="#737373"/><rect x="10" y="10" width="1.08" height="1.08" fill="#a0a0a0"/><rect x="11" y="10" width="1.08" height="1.08" fill="#8c8c8c"/><rect x="12" y="10" width="1.08" height="1.08" fill="#767676"/><rect x="13" y="10" width="1.08" height="1.08" fill="#a5a5a5"/><rect x="14" y="10" width="1.08" height="1.08" fill="#9b9b9b"/><rect x="15" y="10" width="1.08" height="1.08" fill="#969696"/><rect x="16" y="10" width="1.08" height="1.08" fill="#919191"/><rect x="17" y="10" width="1.08" height="1.08" fill="#919191"/><rect x="18" y="10" width="1.08" height="1.08" fill="#8c8c8c"/><rect x="19" y="10" width="1.08" height="1.08" fill="#878787"/><rect x="20" y="10" width="1.08" height="1.08" fill="#737373"/><rect x="21" y="10" width="1.08" height="1.08" fill="#464646"/><rect x="22" y="10" width="1.08" height="1.08" fill="#6e6e6e"/><rect x="23" y="10" width="1.08" height="1.08" fill="#919191"/><rect x="24" y="10" width="1" height="1.08" fill="#5f5f5f"/><rect x="0" y="11" width="1.08" height="1.08" fill="#141414"/><rect x="1" y="11" width="1.08" height="1.08" fill="#555555"/><rect x="2" y="11" width="1.08" height="1.08" fill="#8c8c8c"/><rect x="3" y="11" width="1.08" height="1.08" fill="#a0a0a0"/><rect x="4" y="11" width="1.08" height="1.08" fill="#969696"/><rect x="5" y="11" width="1.08" height="1.08" fill="#9b9b9b"/><rect x="6" y="11" width="1.08" height="1.08" fill="#9b9b9b"/><rect x="7" y="11" width="1.08" height="1.08" fill="#a0a0a0"/><rect x="8" y="11" width="1.08" height="1.08" fill="#9b9b9b"/><rect x="9" y="11" width="1.08" height="1.08" fill="#919191"/><rect x="10" y="11" width="1.08" height="1.08" fill="#a0a0a0"/><rect x="11" y="11" width="1.08" height="1.08" fill="#878787"/><rect x="12" y="11" width="1.08" height="1.08" fill="#828282"/><rect x="13" y="11" width="1.08" height="1.08" fill="#919191"/><rect x="14" y="11" width="1.08" height="1.08" fill="#a0a0a0"/><rect x="15" y="11" width="1.08" height="1.08" fill="#a5a5a5"/><rect x="16" y="11" width="1.08" height="1.08" fill="#a0a0a0"/><rect x="17" y="11" width="1.08" height="1.08" fill="#aaaaaa"/><rect x="18" y="11" width="1.08" height="1.08" fill="#969696"/><rect x="19" y="11" width="1.08" height="1.08" fill="#8c8c8c"/><rect x="20" y="11" width="1.08" height="1.08" fill="#6e6e6e"/><rect x="21" y="11" width="1.08" height="1.08" fill="#3c3c3c"/><rect x="22" y="11" width="1.08" height="1.08" fill="#828282"/><rect x="23" y="11" width="1.08" height="1.08" fill="#6e6e6e"/><rect x="24" y="11" width="1" height="1.08" fill="#3c3c3c"/><rect x="0" y="12" width="1.08" height="1.08" fill="#0a0a0a"/><rect x="1" y="12" width="1.08" height="1.08" fill="#8c8c8c"/><rect x="2" y="12" width="1.08" height="1.08" fill="#8c8c8c"/><rect x="3" y="12" width="1.08" height="1.08" fill="#a8a8a8"/><rect x="4" y="12" width="1.08" height="1.08" fill="#acacac"/><rect x="5" y="12" width="1.08" height="1.08" fill="#acacac"/><rect x="6" y="12" width="1.08" height="1.08" fill="#a8a8a8"/><rect x="7" y="12" width="1.08" height="1.08" fill="#a8a8a8"/><rect x="8" y="12" width="1.08" height="1.08" fill="#787878"/><rect x="9" y="12" width="1.08" height="1.08" fill="#9b9b9b"/><rect x="10" y="12" width="1.08" height="1.08" fill="#9b9b9b"/><rect x="11" y="12" width="1.08" height="1.08" fill="#949494"/><rect x="12" y="12" width="1.08" height="1.08" fill="#6e6e6e"/><rect x="13" y="12" width="1.08" height="1.08" fill="#6e6e6e"/><rect x="14" y="12" width="1.08" height="1.08" fill="#aaaaaa"/><rect x="15" y="12" width="1.08" height="1.08" fill="#acacac"/><rect x="16" y="12" width="1.08" height="1.08" fill="#afafaf"/><rect x="17" y="12" width="1.08" height="1.08" fill="#9e9e9e"/><rect x="18" y="12" width="1.08" height="1.08" fill="#919191"/><rect x="19" y="12" width="1.08" height="1.08" fill="#8c8c8c"/><rect x="20" y="12" width="1.08" height="1.08" fill="#707070"/><rect x="21" y="12" width="1.08" height="1.08" fill="#3c3c3c"/><rect x="22" y="12" width="1.08" height="1.08" fill="#848484"/><rect x="23" y="12" width="1.08" height="1.08" fill="#7d7d7d"/><rect x="24" y="12" width="1" height="1.08" fill="#020202"/><rect x="0" y="13" width="1.08" height="1.08" fill="#0a0a0a"/><rect x="1" y="13" width="1.08" height="1.08" fill="#a5a5a5"/><rect x="2" y="13" width="1.08" height="1.08" fill="#878787"/><rect x="3" y="13" width="1.08" height="1.08" fill="#9b9b9b"/><rect x="4" y="13" width="1.08" height="1.08" fill="#a5a5a5"/><rect x="5" y="13" width="1.08" height="1.08" fill="#aaaaaa"/><rect x="6" y="13" width="1.08" height="1.08" fill="#a0a0a0"/><rect x="7" y="13" width="1.08" height="1.08" fill="#828282"/><rect x="8" y="13" width="1.08" height="1.08" fill="#919191"/><rect x="9" y="13" width="1.08" height="1.08" fill="#a0a0a0"/><rect x="10" y="13" width="1.08" height="1.08" fill="#afafaf"/><rect x="11" y="13" width="1.08" height="1.08" fill="#969696"/><rect x="12" y="13" width="1.08" height="1.08" fill="#828282"/><rect x="13" y="13" width="1.08" height="1.08" fill="#787878"/><rect x="14" y="13" width="1.08" height="1.08" fill="#969696"/><rect x="15" y="13" width="1.08" height="1.08" fill="#a5a5a5"/><rect x="16" y="13" width="1.08" height="1.08" fill="#c3c3c3"/><rect x="17" y="13" width="1.08" height="1.08" fill="#a0a0a0"/><rect x="18" y="13" width="1.08" height="1.08" fill="#919191"/><rect x="19" y="13" width="1.08" height="1.08" fill="#8c8c8c"/><rect x="20" y="13" width="1.08" height="1.08" fill="#696969"/><rect x="21" y="13" width="1.08" height="1.08" fill="#373737"/><rect x="22" y="13" width="1.08" height="1.08" fill="#737373"/><rect x="23" y="13" width="1.08" height="1.08" fill="#555555"/><rect x="24" y="13" width="1" height="1.08" fill="#000000"/><rect x="0" y="14" width="1.08" height="1.08" fill="#0a0a0a"/><rect x="1" y="14" width="1.08" height="1.08" fill="#505050"/><rect x="2" y="14" width="1.08" height="1.08" fill="#787878"/><rect x="3" y="14" width="1.08" height="1.08" fill="#919191"/><rect x="4" y="14" width="1.08" height="1.08" fill="#aaaaaa"/><rect x="5" y="14" width="1.08" height="1.08" fill="#a5a5a5"/><rect x="6" y="14" width="1.08" height="1.08" fill="#8c8c8c"/><rect x="7" y="14" width="1.08" height="1.08" fill="#9b9b9b"/><rect x="8" y="14" width="1.08" height="1.08" fill="#7d7d7d"/><rect x="9" y="14" width="1.08" height="1.08" fill="#7d7d7d"/><rect x="10" y="14" width="1.08" height="1.08" fill="#969696"/><rect x="11" y="14" width="1.08" height="1.08" fill="#919191"/><rect x="12" y="14" width="1.08" height="1.08" fill="#787878"/><rect x="13" y="14" width="1.08" height="1.08" fill="#787878"/><rect x="14" y="14" width="1.08" height="1.08" fill="#919191"/><rect x="15" y="14" width="1.08" height="1.08" fill="#919191"/><rect x="16" y="14" width="1.08" height="1.08" fill="#a5a5a5"/><rect x="17" y="14" width="1.08" height="1.08" fill="#a0a0a0"/><rect x="18" y="14" width="1.08" height="1.08" fill="#8c8c8c"/><rect x="19" y="14" width="1.08" height="1.08" fill="#878787"/><rect x="20" y="14" width="1.08" height="1.08" fill="#646464"/><rect x="21" y="14" width="1.08" height="1.08" fill="#323232"/><rect x="22" y="14" width="1.08" height="1.08" fill="#8c8c8c"/><rect x="23" y="14" width="1.08" height="1.08" fill="#050505"/><rect x="24" y="14" width="1" height="1.08" fill="#000000"/><rect x="0" y="15" width="1.08" height="1.08" fill="#0a0a0a"/><rect x="1" y="15" width="1.08" height="1.08" fill="#0f0f0f"/><rect x="2" y="15" width="1.08" height="1.08" fill="#787878"/><rect x="3" y="15" width="1.08" height="1.08" fill="#969696"/><rect x="4" y="15" width="1.08" height="1.08" fill="#9b9b9b"/><rect x="5" y="15" width="1.08" height="1.08" fill="#a0a0a0"/><rect x="6" y="15" width="1.08" height="1.08" fill="#8c8c8c"/><rect x="7" y="15" width="1.08" height="1.08" fill="#919191"/><rect x="8" y="15" width="1.08" height="1.08" fill="#8c8c8c"/><rect x="9" y="15" width="1.08" height="1.08" fill="#878787"/><rect x="10" y="15" width="1.08" height="1.08" fill="#828282"/><rect x="11" y="15" width="1.08" height="1.08" fill="#8c8c8c"/><rect x="12" y="15" width="1.08" height="1.08" fill="#828282"/><rect x="13" y="15" width="1.08" height="1.08" fill="#787878"/><rect x="14" y="15" width="1.08" height="1.08" fill="#7d7d7d"/><rect x="15" y="15" width="1.08" height="1.08" fill="#8c8c8c"/><rect x="16" y="15" width="1.08" height="1.08" fill="#7d7d7d"/><rect x="17" y="15" width="1.08" height="1.08" fill="#aaaaaa"/><rect x="18" y="15" width="1.08" height="1.08" fill="#969696"/><rect x="19" y="15" width="1.08" height="1.08" fill="#828282"/><rect x="20" y="15" width="1.08" height="1.08" fill="#646464"/><rect x="21" y="15" width="1.08" height="1.08" fill="#3c3c3c"/><rect x="22" y="15" width="1.08" height="1.08" fill="#0a0a0a"/><rect x="23" y="15" width="1.08" height="1.08" fill="#0f0f0f"/><rect x="24" y="15" width="1" height="1.08" fill="#0f0f0f"/><rect x="0" y="16" width="1.08" height="1.08" fill="#1e1e1e"/><rect x="1" y="16" width="1.08" height="1.08" fill="#1e1e1e"/><rect x="2" y="16" width="1.08" height="1.08" fill="#0a0a0a"/><rect x="3" y="16" width="1.08" height="1.08" fill="#919191"/><rect x="4" y="16" width="1.08" height="1.08" fill="#969696"/><rect x="5" y="16" width="1.08" height="1.08" fill="#9b9b9b"/><rect x="6" y="16" width="1.08" height="1.08" fill="#8c8c8c"/><rect x="7" y="16" width="1.08" height="1.08" fill="#878787"/><rect x="8" y="16" width="1.08" height="1.08" fill="#919191"/><rect x="9" y="16" width="1.08" height="1.08" fill="#969696"/><rect x="10" y="16" width="1.08" height="1.08" fill="#8c8c8c"/><rect x="11" y="16" width="1.08" height="1.08" fill="#8c8c8c"/><rect x="12" y="16" width="1.08" height="1.08" fill="#969696"/><rect x="13" y="16" width="1.08" height="1.08" fill="#969696"/><rect x="14" y="16" width="1.08" height="1.08" fill="#8c8c8c"/><rect x="15" y="16" width="1.08" height="1.08" fill="#8c8c8c"/><rect x="16" y="16" width="1.08" height="1.08" fill="#787878"/><rect x="17" y="16" width="1.08" height="1.08" fill="#a0a0a0"/><rect x="18" y="16" width="1.08" height="1.08" fill="#919191"/><rect x="19" y="16" width="1.08" height="1.08" fill="#828282"/><rect x="20" y="16" width="1.08" height="1.08" fill="#696969"/><rect x="21" y="16" width="1.08" height="1.08" fill="#3c3c3c"/><rect x="22" y="16" width="1.08" height="1.08" fill="#050505"/><rect x="23" y="16" width="1.08" height="1.08" fill="#0a0a0a"/><rect x="24" y="16" width="1" height="1.08" fill="#0f0f0f"/><rect x="0" y="17" width="1.08" height="1.08" fill="#282828"/><rect x="1" y="17" width="1.08" height="1.08" fill="#0a0a0a"/><rect x="2" y="17" width="1.08" height="1.08" fill="#050505"/><rect x="3" y="17" width="1.08" height="1.08" fill="#919191"/><rect x="4" y="17" width="1.08" height="1.08" fill="#a5a5a5"/><rect x="5" y="17" width="1.08" height="1.08" fill="#aaaaaa"/><rect x="6" y="17" width="1.08" height="1.08" fill="#878787"/><rect x="7" y="17" width="1.08" height="1.08" fill="#8c8c8c"/><rect x="8" y="17" width="1.08" height="1.08" fill="#878787"/><rect x="9" y="17" width="1.08" height="1.08" fill="#8c8c8c"/><rect x="10" y="17" width="1.08" height="1.08" fill="#828282"/><rect x="11" y="17" width="1.08" height="1.08" fill="#787878"/><rect x="12" y="17" width="1.08" height="1.08" fill="#828282"/><rect x="13" y="17" width="1.08" height="1.08" fill="#7d7d7d"/><rect x="14" y="17" width="1.08" height="1.08" fill="#696969"/><rect x="15" y="17" width="1.08" height="1.08" fill="#6e6e6e"/><rect x="16" y="17" width="1.08" height="1.08" fill="#878787"/><rect x="17" y="17" width="1.08" height="1.08" fill="#b4b4b4"/><rect x="18" y="17" width="1.08" height="1.08" fill="#919191"/><rect x="19" y="17" width="1.08" height="1.08" fill="#7d7d7d"/><rect x="20" y="17" width="1.08" height="1.08" fill="#5f5f5f"/><rect x="21" y="17" width="1.08" height="1.08" fill="#b4b4b4"/><rect x="22" y="17" width="1.08" height="1.08" fill="#e1e1e1"/><rect x="23" y="17" width="1.08" height="1.08" fill="#e6e6e6"/><rect x="24" y="17" width="1" height="1.08" fill="#c8c8c8"/><rect x="0" y="18" width="1.08" height="1.08" fill="#191919"/><rect x="1" y="18" width="1.08" height="1.08" fill="#141414"/><rect x="2" y="18" width="1.08" height="1.08" fill="#050505"/><rect x="3" y="18" width="1.08" height="1.08" fill="#919191"/><rect x="4" y="18" width="1.08" height="1.08" fill="#a5a5a5"/><rect x="5" y="18" width="1.08" height="1.08" fill="#aaaaaa"/><rect x="6" y="18" width="1.08" height="1.08" fill="#8c8c8c"/><rect x="7" y="18" width="1.08" height="1.08" fill="#646464"/><rect x="8" y="18" width="1.08" height="1.08" fill="#555555"/><rect x="9" y="18" width="1.08" height="1.08" fill="#696969"/><rect x="10" y="18" width="1.08" height="1.08" fill="#646464"/><rect x="11" y="18" width="1.08" height="1.08" fill="#646464"/><rect x="12" y="18" width="1.08" height="1.08" fill="#646464"/><rect x="13" y="18" width="1.08" height="1.08" fill="#646464"/><rect x="14" y="18" width="1.08" height="1.08" fill="#555555"/><rect x="15" y="18" width="1.08" height="1.08" fill="#8c8c8c"/><rect x="16" y="18" width="1.08" height="1.08" fill="#8c8c8c"/><rect x="17" y="18" width="1.08" height="1.08" fill="#a0a0a0"/><rect x="18" y="18" width="1.08" height="1.08" fill="#969696"/><rect x="19" y="18" width="1.08" height="1.08" fill="#878787"/><rect x="20" y="18" width="1.08" height="1.08" fill="#5f5f5f"/><rect x="21" y="18" width="1.08" height="1.08" fill="#d7d7d7"/><rect x="22" y="18" width="1.08" height="1.08" fill="#e1e1e1"/><rect x="23" y="18" width="1.08" height="1.08" fill="#dcdcdc"/><rect x="24" y="18" width="1" height="1.08" fill="#c8c8c8"/><rect x="0" y="19" width="1.08" height="1.08" fill="#323232"/><rect x="1" y="19" width="1.08" height="1.08" fill="#2d2d2d"/><rect x="2" y="19" width="1.08" height="1.08" fill="#232323"/><rect x="3" y="19" width="1.08" height="1.08" fill="#1e1e1e"/><rect x="4" y="19" width="1.08" height="1.08" fill="#9b9b9b"/><rect x="5" y="19" width="1.08" height="1.08" fill="#a5a5a5"/><rect x="6" y="19" width="1.08" height="1.08" fill="#969696"/><rect x="7" y="19" width="1.08" height="1.08" fill="#9b9b9b"/><rect x="8" y="19" width="1.08" height="1.08" fill="#919191"/><rect x="9" y="19" width="1.08" height="1.08" fill="#8c8c8c"/><rect x="10" y="19" width="1.08" height="1.08" fill="#969696"/><rect x="11" y="19" width="1.08" height="1.08" fill="#a0a0a0"/><rect x="12" y="19" width="1.08" height="1.08" fill="#878787"/><rect x="13" y="19" width="1.08" height="1.08" fill="#878787"/><rect x="14" y="19" width="1.08" height="1.08" fill="#969696"/><rect x="15" y="19" width="1.08" height="1.08" fill="#969696"/><rect x="16" y="19" width="1.08" height="1.08" fill="#969696"/><rect x="17" y="19" width="1.08" height="1.08" fill="#9b9b9b"/><rect x="18" y="19" width="1.08" height="1.08" fill="#919191"/><rect x="19" y="19" width="1.08" height="1.08" fill="#7d7d7d"/><rect x="20" y="19" width="1.08" height="1.08" fill="#505050"/><rect x="21" y="19" width="1.08" height="1.08" fill="#d7d7d7"/><rect x="22" y="19" width="1.08" height="1.08" fill="#828282"/><rect x="23" y="19" width="1.08" height="1.08" fill="#ebebeb"/><rect x="24" y="19" width="1" height="1.08" fill="#ebebeb"/><rect x="0" y="20" width="1.08" height="1.08" fill="#050505"/><rect x="1" y="20" width="1.08" height="1.08" fill="#0a0a0a"/><rect x="2" y="20" width="1.08" height="1.08" fill="#2d2d2d"/><rect x="3" y="20" width="1.08" height="1.08" fill="#050505"/><rect x="4" y="20" width="1.08" height="1.08" fill="#919191"/><rect x="5" y="20" width="1.08" height="1.08" fill="#9b9b9b"/><rect x="6" y="20" width="1.08" height="1.08" fill="#9b9b9b"/><rect x="7" y="20" width="1.08" height="1.08" fill="#9b9b9b"/><rect x="8" y="20" width="1.08" height="1.08" fill="#a0a0a0"/><rect x="9" y="20" width="1.08" height="1.08" fill="#a0a0a0"/><rect x="10" y="20" width="1.08" height="1.08" fill="#9b9b9b"/><rect x="11" y="20" width="1.08" height="1.08" fill="#969696"/><rect x="12" y="20" width="1.08" height="1.08" fill="#a0a0a0"/><rect x="13" y="20" width="1.08" height="1.08" fill="#969696"/><rect x="14" y="20" width="1.08" height="1.08" fill="#969696"/><rect x="15" y="20" width="1.08" height="1.08" fill="#919191"/><rect x="16" y="20" width="1.08" height="1.08" fill="#919191"/><rect x="17" y="20" width="1.08" height="1.08" fill="#919191"/><rect x="18" y="20" width="1.08" height="1.08" fill="#8c8c8c"/><rect x="19" y="20" width="1.08" height="1.08" fill="#6e6e6e"/><rect x="20" y="20" width="1.08" height="1.08" fill="#646464"/><rect x="21" y="20" width="1.08" height="1.08" fill="#737373"/><rect x="22" y="20" width="1.08" height="1.08" fill="#cdcdcd"/><rect x="23" y="20" width="1.08" height="1.08" fill="#afafaf"/><rect x="24" y="20" width="1" height="1.08" fill="#ebebeb"/><rect x="0" y="21" width="1.08" height="1.08" fill="#373737"/><rect x="1" y="21" width="1.08" height="1.08" fill="#1e1e1e"/><rect x="2" y="21" width="1.08" height="1.08" fill="#191919"/><rect x="3" y="21" width="1.08" height="1.08" fill="#141414"/><rect x="4" y="21" width="1.08" height="1.08" fill="#141414"/><rect x="5" y="21" width="1.08" height="1.08" fill="#969696"/><rect x="6" y="21" width="1.08" height="1.08" fill="#9b9b9b"/><rect x="7" y="21" width="1.08" height="1.08" fill="#a0a0a0"/><rect x="8" y="21" width="1.08" height="1.08" fill="#9b9b9b"/><rect x="9" y="21" width="1.08" height="1.08" fill="#969696"/><rect x="10" y="21" width="1.08" height="1.08" fill="#8c8c8c"/><rect x="11" y="21" width="1.08" height="1.08" fill="#8c8c8c"/><rect x="12" y="21" width="1.08" height="1.08" fill="#949494"/><rect x="13" y="21" width="1.08" height="1.08" fill="#919191"/><rect x="14" y="21" width="1.08" height="1.08" fill="#969696"/><rect x="15" y="21" width="1.08" height="1.08" fill="#9b9b9b"/><rect x="16" y="21" width="1.08" height="1.08" fill="#7d7d7d"/><rect x="17" y="21" width="1.08" height="1.08" fill="#878787"/><rect x="18" y="21" width="1.08" height="1.08" fill="#7d7d7d"/><rect x="19" y="21" width="1.08" height="1.08" fill="#646464"/><rect x="20" y="21" width="1.08" height="1.08" fill="#6e6e6e"/><rect x="21" y="21" width="1.08" height="1.08" fill="#464646"/><rect x="22" y="21" width="1.08" height="1.08" fill="#c3c3c3"/><rect x="23" y="21" width="1.08" height="1.08" fill="#cdcdcd"/><rect x="24" y="21" width="1" height="1.08" fill="#9b9b9b"/><rect x="0" y="22" width="1.08" height="1.08" fill="#282828"/><rect x="1" y="22" width="1.08" height="1.08" fill="#282828"/><rect x="2" y="22" width="1.08" height="1.08" fill="#282828"/><rect x="3" y="22" width="1.08" height="1.08" fill="#414141"/><rect x="4" y="22" width="1.08" height="1.08" fill="#323232"/><rect x="5" y="22" width="1.08" height="1.08" fill="#000000"/><rect x="6" y="22" width="1.08" height="1.08" fill="#878787"/><rect x="7" y="22" width="1.08" height="1.08" fill="#9b9b9b"/><rect x="8" y="22" width="1.08" height="1.08" fill="#9b9b9b"/><rect x="9" y="22" width="1.08" height="1.08" fill="#9b9b9b"/><rect x="10" y="22" width="1.08" height="1.08" fill="#9b9b9b"/><rect x="11" y="22" width="1.08" height="1.08" fill="#a0a0a0"/><rect x="12" y="22" width="1.08" height="1.08" fill="#989898"/><rect x="13" y="22" width="1.08" height="1.08" fill="#919191"/><rect x="14" y="22" width="1.08" height="1.08" fill="#a0a0a0"/><rect x="15" y="22" width="1.08" height="1.08" fill="#878787"/><rect x="16" y="22" width="1.08" height="1.08" fill="#878787"/><rect x="17" y="22" width="1.08" height="1.08" fill="#878787"/><rect x="18" y="22" width="1.08" height="1.08" fill="#7d7d7d"/><rect x="19" y="22" width="1.08" height="1.08" fill="#737373"/><rect x="20" y="22" width="1.08" height="1.08" fill="#6e6e6e"/><rect x="21" y="22" width="1.08" height="1.08" fill="#3c3c3c"/><rect x="22" y="22" width="1.08" height="1.08" fill="#505050"/><rect x="23" y="22" width="1.08" height="1.08" fill="#aaaaaa"/><rect x="24" y="22" width="1" height="1.08" fill="#b9b9b9"/><rect x="0" y="23" width="1.08" height="1.08" fill="#373737"/><rect x="1" y="23" width="1.08" height="1.08" fill="#2d2d2d"/><rect x="2" y="23" width="1.08" height="1.08" fill="#3c3c3c"/><rect x="3" y="23" width="1.08" height="1.08" fill="#1e1e1e"/><rect x="4" y="23" width="1.08" height="1.08" fill="#bebebe"/><rect x="5" y="23" width="1.08" height="1.08" fill="#ebebeb"/><rect x="6" y="23" width="1.08" height="1.08" fill="#dcdcdc"/><rect x="7" y="23" width="1.08" height="1.08" fill="#8c8c8c"/><rect x="8" y="23" width="1.08" height="1.08" fill="#919191"/><rect x="9" y="23" width="1.08" height="1.08" fill="#969696"/><rect x="10" y="23" width="1.08" height="1.08" fill="#969696"/><rect x="11" y="23" width="1.08" height="1.08" fill="#9b9b9b"/><rect x="12" y="23" width="1.08" height="1.08" fill="#a0a0a0"/><rect x="13" y="23" width="1.08" height="1.08" fill="#919191"/><rect x="14" y="23" width="1.08" height="1.08" fill="#878787"/><rect x="15" y="23" width="1.08" height="1.08" fill="#787878"/><rect x="16" y="23" width="1.08" height="1.08" fill="#737373"/><rect x="17" y="23" width="1.08" height="1.08" fill="#7d7d7d"/><rect x="18" y="23" width="1.08" height="1.08" fill="#828282"/><rect x="19" y="23" width="1.08" height="1.08" fill="#787878"/><rect x="20" y="23" width="1.08" height="1.08" fill="#6e6e6e"/><rect x="21" y="23" width="1.08" height="1.08" fill="#3c3c3c"/><rect x="22" y="23" width="1.08" height="1.08" fill="#505050"/><rect x="23" y="23" width="1.08" height="1.08" fill="#dcdcdc"/><rect x="24" y="23" width="1" height="1.08" fill="#e1e1e1"/><rect x="0" y="24" width="1.08" height="1" fill="#2d2d2d"/><rect x="1" y="24" width="1.08" height="1" fill="#3c3c3c"/><rect x="2" y="24" width="1.08" height="1" fill="#f5f5f5"/><rect x="3" y="24" width="1.08" height="1" fill="#e1e1e1"/><rect x="4" y="24" width="1.08" height="1" fill="#e6e6e6"/><rect x="5" y="24" width="1.08" height="1" fill="#d2d2d2"/><rect x="6" y="24" width="1.08" height="1" fill="#f5f5f5"/><rect x="7" y="24" width="1.08" height="1" fill="#919191"/><rect x="8" y="24" width="1.08" height="1" fill="#828282"/><rect x="9" y="24" width="1.08" height="1" fill="#8c8c8c"/><rect x="10" y="24" width="1.08" height="1" fill="#8c8c8c"/><rect x="11" y="24" width="1.08" height="1" fill="#919191"/><rect x="12" y="24" width="1.08" height="1" fill="#969696"/><rect x="13" y="24" width="1.08" height="1" fill="#8c8c8c"/><rect x="14" y="24" width="1.08" height="1" fill="#7d7d7d"/><rect x="15" y="24" width="1.08" height="1" fill="#828282"/><rect x="16" y="24" width="1.08" height="1" fill="#878787"/><rect x="17" y="24" width="1.08" height="1" fill="#878787"/><rect x="18" y="24" width="1.08" height="1" fill="#828282"/><rect x="19" y="24" width="1.08" height="1" fill="#828282"/><rect x="20" y="24" width="1.08" height="1" fill="#737373"/><rect x="21" y="24" width="1.08" height="1" fill="#323232"/><rect x="22" y="24" width="1.08" height="1" fill="#c8c8c8"/><rect x="23" y="24" width="1.08" height="1" fill="#d7d7d7"/><rect x="24" y="24" width="1" height="1" fill="#e6e6e6"/></svg>
</svg>
</body></html>
